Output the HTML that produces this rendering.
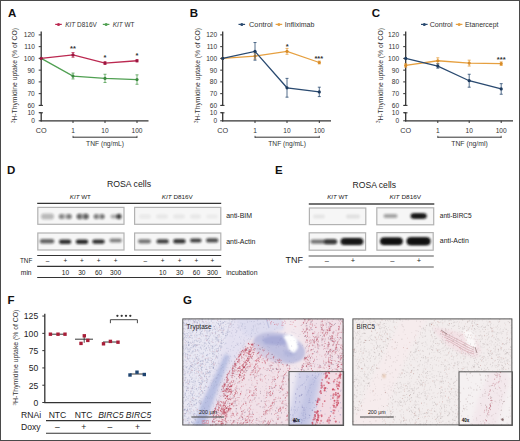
<!DOCTYPE html>
<html><head><meta charset="utf-8"><title>Figure</title>
<style>html,body{margin:0;padding:0;background:#fff;}body{width:520px;height:441px;overflow:hidden;font-family:"Liberation Sans", sans-serif;}</style>
</head><body><svg width="520" height="441" viewBox="0 0 520 441" style="display:block;font-family:'Liberation Sans', sans-serif"><defs><filter id="blur1" x="-50%" y="-50%" width="200%" height="200%"><feGaussianBlur stdDeviation="0.9"/></filter><filter id="soft" x="0" y="0" width="100%" height="100%"><feGaussianBlur stdDeviation="0.8"/></filter><filter id="blur12" x="-50%" y="-50%" width="200%" height="200%"><feGaussianBlur stdDeviation="1.2"/></filter><filter id="blur15" x="-30%" y="-30%" width="160%" height="160%"><feGaussianBlur stdDeviation="1.4"/></filter><filter id="blur2" x="-20%" y="-20%" width="140%" height="140%"><feGaussianBlur stdDeviation="2"/></filter></defs><rect width="520" height="441" fill="#fff"/><text x="8.00" y="17.20" font-size="11.5" text-anchor="start" font-weight="bold" fill="#111" >A</text>
<line x1="41.20" y1="31.60" x2="41.20" y2="105.40" stroke="#333" stroke-width="1.3" />
<line x1="41.20" y1="112.60" x2="41.20" y2="121.40" stroke="#333" stroke-width="1.3" />
<line x1="39.40" y1="105.40" x2="43.00" y2="105.40" stroke="#333" stroke-width="1.0" />
<line x1="39.40" y1="112.80" x2="43.00" y2="112.80" stroke="#333" stroke-width="1.0" />
<line x1="38.70" y1="34.90" x2="41.20" y2="34.90" stroke="#333" stroke-width="1.0" />
<text x="34.80" y="37.30" font-size="6.6" text-anchor="end" font-weight="normal" fill="#333" >120</text>
<line x1="38.70" y1="46.65" x2="41.20" y2="46.65" stroke="#333" stroke-width="1.0" />
<text x="34.80" y="49.05" font-size="6.6" text-anchor="end" font-weight="normal" fill="#333" >110</text>
<line x1="38.70" y1="58.40" x2="41.20" y2="58.40" stroke="#333" stroke-width="1.0" />
<text x="34.80" y="60.80" font-size="6.6" text-anchor="end" font-weight="normal" fill="#333" >100</text>
<line x1="38.70" y1="70.15" x2="41.20" y2="70.15" stroke="#333" stroke-width="1.0" />
<text x="34.80" y="72.55" font-size="6.6" text-anchor="end" font-weight="normal" fill="#333" >90</text>
<line x1="38.70" y1="81.90" x2="41.20" y2="81.90" stroke="#333" stroke-width="1.0" />
<text x="34.80" y="84.30" font-size="6.6" text-anchor="end" font-weight="normal" fill="#333" >80</text>
<line x1="38.70" y1="93.65" x2="41.20" y2="93.65" stroke="#333" stroke-width="1.0" />
<text x="34.80" y="96.05" font-size="6.6" text-anchor="end" font-weight="normal" fill="#333" >70</text>
<line x1="38.70" y1="105.40" x2="41.20" y2="105.40" stroke="#333" stroke-width="1.0" />
<text x="34.80" y="107.80" font-size="6.6" text-anchor="end" font-weight="normal" fill="#333" >60</text>
<line x1="38.70" y1="112.70" x2="41.20" y2="112.70" stroke="#333" stroke-width="1.0" />
<text x="34.80" y="115.10" font-size="6.6" text-anchor="end" font-weight="normal" fill="#333" >10</text>
<line x1="38.70" y1="120.80" x2="41.20" y2="120.80" stroke="#333" stroke-width="1.0" />
<text x="34.80" y="123.20" font-size="6.6" text-anchor="end" font-weight="normal" fill="#333" >0</text>
<line x1="40.60" y1="120.80" x2="148.50" y2="120.80" stroke="#333" stroke-width="1.3" />
<text x="41.20" y="133.00" font-size="6.6" text-anchor="middle" font-weight="normal" fill="#333"  textLength="10.90" lengthAdjust="spacingAndGlyphs">CO</text>
<line x1="73.00" y1="120.80" x2="73.00" y2="123.00" stroke="#333" stroke-width="1.0" />
<text x="73.00" y="133.00" font-size="6.6" text-anchor="middle" font-weight="normal" fill="#333" >1</text>
<line x1="105.00" y1="120.80" x2="105.00" y2="123.00" stroke="#333" stroke-width="1.0" />
<text x="105.00" y="133.00" font-size="6.6" text-anchor="middle" font-weight="normal" fill="#333" >10</text>
<line x1="137.00" y1="120.80" x2="137.00" y2="123.00" stroke="#333" stroke-width="1.0" />
<text x="137.00" y="133.00" font-size="6.6" text-anchor="middle" font-weight="normal" fill="#333" >100</text>
<line x1="73.00" y1="137.20" x2="137.00" y2="137.20" stroke="#333" stroke-width="1.0" />
<line x1="73.00" y1="135.80" x2="73.00" y2="138.00" stroke="#333" stroke-width="0.8" />
<line x1="137.00" y1="135.80" x2="137.00" y2="138.00" stroke="#333" stroke-width="0.8" />
<text x="105.00" y="146.00" font-size="6.6" text-anchor="middle" font-weight="normal" fill="#333"  textLength="37.80" lengthAdjust="spacingAndGlyphs">TNF (ng/mL)</text>
<text transform="translate(17.20,75.6) rotate(-90)" font-size="6.8" text-anchor="middle" fill="#333" textLength="95" lengthAdjust="spacingAndGlyphs"><tspan font-size="4.6" dy="-2.4">3</tspan><tspan dy="2.4">H-Thymidine uptake (% of CO)</tspan></text>
<polyline points="41.20,58.40 73.00,76.03 105.00,78.38 137.00,79.55" fill="none" stroke="#50a052" stroke-width="1.3"/>
<circle cx="41.20" cy="58.40" r="1.6" fill="#3c8a40"/>
<line x1="73.00" y1="73.09" x2="73.00" y2="78.96" stroke="#50a052" stroke-width="0.8" />
<line x1="71.50" y1="73.09" x2="74.50" y2="73.09" stroke="#50a052" stroke-width="0.8" />
<line x1="71.50" y1="78.96" x2="74.50" y2="78.96" stroke="#50a052" stroke-width="0.8" />
<circle cx="73.00" cy="76.03" r="1.6" fill="#3c8a40"/>
<line x1="105.00" y1="74.26" x2="105.00" y2="82.49" stroke="#50a052" stroke-width="0.8" />
<line x1="103.50" y1="74.26" x2="106.50" y2="74.26" stroke="#50a052" stroke-width="0.8" />
<line x1="103.50" y1="82.49" x2="106.50" y2="82.49" stroke="#50a052" stroke-width="0.8" />
<circle cx="105.00" cy="78.38" r="1.6" fill="#3c8a40"/>
<line x1="137.00" y1="74.85" x2="137.00" y2="84.25" stroke="#50a052" stroke-width="0.8" />
<line x1="135.50" y1="74.85" x2="138.50" y2="74.85" stroke="#50a052" stroke-width="0.8" />
<line x1="135.50" y1="84.25" x2="138.50" y2="84.25" stroke="#50a052" stroke-width="0.8" />
<circle cx="137.00" cy="79.55" r="1.6" fill="#3c8a40"/>
<polyline points="41.20,58.40 73.00,54.88 105.00,63.10 137.00,60.75" fill="none" stroke="#bb2850" stroke-width="1.3"/>
<circle cx="41.20" cy="58.40" r="1.6" fill="#9c1640"/>
<line x1="73.00" y1="52.52" x2="73.00" y2="57.23" stroke="#bb2850" stroke-width="0.8" />
<line x1="71.50" y1="52.52" x2="74.50" y2="52.52" stroke="#bb2850" stroke-width="0.8" />
<line x1="71.50" y1="57.23" x2="74.50" y2="57.23" stroke="#bb2850" stroke-width="0.8" />
<circle cx="73.00" cy="54.88" r="1.6" fill="#9c1640"/>
<line x1="105.00" y1="61.69" x2="105.00" y2="64.51" stroke="#bb2850" stroke-width="0.8" />
<line x1="103.50" y1="61.69" x2="106.50" y2="61.69" stroke="#bb2850" stroke-width="0.8" />
<line x1="103.50" y1="64.51" x2="106.50" y2="64.51" stroke="#bb2850" stroke-width="0.8" />
<circle cx="105.00" cy="63.10" r="1.6" fill="#9c1640"/>
<line x1="137.00" y1="59.57" x2="137.00" y2="61.92" stroke="#bb2850" stroke-width="0.8" />
<line x1="135.50" y1="59.57" x2="138.50" y2="59.57" stroke="#bb2850" stroke-width="0.8" />
<line x1="135.50" y1="61.92" x2="138.50" y2="61.92" stroke="#bb2850" stroke-width="0.8" />
<circle cx="137.00" cy="60.75" r="1.6" fill="#9c1640"/>
<line x1="55.20" y1="24.40" x2="61.80" y2="24.40" stroke="#bb2850" stroke-width="1.2" />
<circle cx="58.50" cy="24.4" r="1.5" fill="#bb2850"/>
<text x="65.20" y="26.90" font-size="6.8" text-anchor="start" font-weight="normal" fill="#333"  textLength="31.60" lengthAdjust="spacingAndGlyphs"><tspan font-style="italic">KIT</tspan> D816V</text>
<line x1="102.80" y1="24.40" x2="109.40" y2="24.40" stroke="#50a052" stroke-width="1.2" />
<circle cx="106.10" cy="24.4" r="1.5" fill="#50a052"/>
<text x="112.70" y="26.90" font-size="6.8" text-anchor="start" font-weight="normal" fill="#333"  textLength="21.80" lengthAdjust="spacingAndGlyphs"><tspan font-style="italic">KIT</tspan> WT</text>
<text x="73.00" y="50.90" font-size="7.5" text-anchor="middle" font-weight="bold" fill="#333" >**</text>
<text x="105.00" y="60.30" font-size="7.5" text-anchor="middle" font-weight="bold" fill="#333" >*</text>
<text x="137.00" y="57.70" font-size="7.5" text-anchor="middle" font-weight="bold" fill="#333" >*</text>
<text x="189.80" y="17.20" font-size="11.5" text-anchor="start" font-weight="bold" fill="#111" >B</text>
<line x1="222.70" y1="31.60" x2="222.70" y2="105.40" stroke="#333" stroke-width="1.3" />
<line x1="222.70" y1="112.60" x2="222.70" y2="121.40" stroke="#333" stroke-width="1.3" />
<line x1="220.90" y1="105.40" x2="224.50" y2="105.40" stroke="#333" stroke-width="1.0" />
<line x1="220.90" y1="112.80" x2="224.50" y2="112.80" stroke="#333" stroke-width="1.0" />
<line x1="220.20" y1="34.90" x2="222.70" y2="34.90" stroke="#333" stroke-width="1.0" />
<text x="217.20" y="37.30" font-size="6.6" text-anchor="end" font-weight="normal" fill="#333" >120</text>
<line x1="220.20" y1="46.65" x2="222.70" y2="46.65" stroke="#333" stroke-width="1.0" />
<text x="217.20" y="49.05" font-size="6.6" text-anchor="end" font-weight="normal" fill="#333" >110</text>
<line x1="220.20" y1="58.40" x2="222.70" y2="58.40" stroke="#333" stroke-width="1.0" />
<text x="217.20" y="60.80" font-size="6.6" text-anchor="end" font-weight="normal" fill="#333" >100</text>
<line x1="220.20" y1="70.15" x2="222.70" y2="70.15" stroke="#333" stroke-width="1.0" />
<text x="217.20" y="72.55" font-size="6.6" text-anchor="end" font-weight="normal" fill="#333" >90</text>
<line x1="220.20" y1="81.90" x2="222.70" y2="81.90" stroke="#333" stroke-width="1.0" />
<text x="217.20" y="84.30" font-size="6.6" text-anchor="end" font-weight="normal" fill="#333" >80</text>
<line x1="220.20" y1="93.65" x2="222.70" y2="93.65" stroke="#333" stroke-width="1.0" />
<text x="217.20" y="96.05" font-size="6.6" text-anchor="end" font-weight="normal" fill="#333" >70</text>
<line x1="220.20" y1="105.40" x2="222.70" y2="105.40" stroke="#333" stroke-width="1.0" />
<text x="217.20" y="107.80" font-size="6.6" text-anchor="end" font-weight="normal" fill="#333" >60</text>
<line x1="220.20" y1="112.70" x2="222.70" y2="112.70" stroke="#333" stroke-width="1.0" />
<text x="217.20" y="115.10" font-size="6.6" text-anchor="end" font-weight="normal" fill="#333" >10</text>
<line x1="220.20" y1="120.80" x2="222.70" y2="120.80" stroke="#333" stroke-width="1.0" />
<text x="217.20" y="123.20" font-size="6.6" text-anchor="end" font-weight="normal" fill="#333" >0</text>
<line x1="222.10" y1="120.80" x2="331.00" y2="120.80" stroke="#333" stroke-width="1.3" />
<text x="222.70" y="133.00" font-size="6.6" text-anchor="middle" font-weight="normal" fill="#333"  textLength="10.90" lengthAdjust="spacingAndGlyphs">CO</text>
<line x1="255.00" y1="120.80" x2="255.00" y2="123.00" stroke="#333" stroke-width="1.0" />
<text x="255.00" y="133.00" font-size="6.6" text-anchor="middle" font-weight="normal" fill="#333" >1</text>
<line x1="287.00" y1="120.80" x2="287.00" y2="123.00" stroke="#333" stroke-width="1.0" />
<text x="287.00" y="133.00" font-size="6.6" text-anchor="middle" font-weight="normal" fill="#333" >10</text>
<line x1="319.30" y1="120.80" x2="319.30" y2="123.00" stroke="#333" stroke-width="1.0" />
<text x="319.30" y="133.00" font-size="6.6" text-anchor="middle" font-weight="normal" fill="#333" >100</text>
<line x1="255.00" y1="137.20" x2="319.30" y2="137.20" stroke="#333" stroke-width="1.0" />
<line x1="255.00" y1="135.80" x2="255.00" y2="138.00" stroke="#333" stroke-width="0.8" />
<line x1="319.30" y1="135.80" x2="319.30" y2="138.00" stroke="#333" stroke-width="0.8" />
<text x="287.15" y="146.00" font-size="6.6" text-anchor="middle" font-weight="normal" fill="#333"  textLength="37.80" lengthAdjust="spacingAndGlyphs">TNF (ng/mL)</text>
<text transform="translate(199.90,75.6) rotate(-90)" font-size="6.8" text-anchor="middle" fill="#333" textLength="95" lengthAdjust="spacingAndGlyphs"><tspan font-size="4.6" dy="-2.4">3</tspan><tspan dy="2.4">H-Thymidine uptake (% of CO)</tspan></text>
<polyline points="222.70,58.40 255.00,56.05 287.00,51.35 319.30,62.51" fill="none" stroke="#e6a040" stroke-width="1.3"/>
<circle cx="222.70" cy="58.40" r="1.6" fill="#d88c28"/>
<line x1="255.00" y1="53.11" x2="255.00" y2="58.99" stroke="#e6a040" stroke-width="0.8" />
<line x1="253.50" y1="53.11" x2="256.50" y2="53.11" stroke="#e6a040" stroke-width="0.8" />
<line x1="253.50" y1="58.99" x2="256.50" y2="58.99" stroke="#e6a040" stroke-width="0.8" />
<circle cx="255.00" cy="56.05" r="1.6" fill="#d88c28"/>
<line x1="287.00" y1="48.41" x2="287.00" y2="54.29" stroke="#e6a040" stroke-width="0.8" />
<line x1="285.50" y1="48.41" x2="288.50" y2="48.41" stroke="#e6a040" stroke-width="0.8" />
<line x1="285.50" y1="54.29" x2="288.50" y2="54.29" stroke="#e6a040" stroke-width="0.8" />
<circle cx="287.00" cy="51.35" r="1.6" fill="#d88c28"/>
<line x1="319.30" y1="61.10" x2="319.30" y2="63.92" stroke="#e6a040" stroke-width="0.8" />
<line x1="317.80" y1="61.10" x2="320.80" y2="61.10" stroke="#e6a040" stroke-width="0.8" />
<line x1="317.80" y1="63.92" x2="320.80" y2="63.92" stroke="#e6a040" stroke-width="0.8" />
<circle cx="319.30" cy="62.51" r="1.6" fill="#d88c28"/>
<polyline points="222.70,58.40 255.00,51.35 287.00,87.78 319.30,91.89" fill="none" stroke="#2a4a70" stroke-width="1.3"/>
<circle cx="222.70" cy="58.40" r="1.6" fill="#1d3a5e"/>
<line x1="255.00" y1="42.54" x2="255.00" y2="60.16" stroke="#2a4a70" stroke-width="0.8" />
<line x1="253.50" y1="42.54" x2="256.50" y2="42.54" stroke="#2a4a70" stroke-width="0.8" />
<line x1="253.50" y1="60.16" x2="256.50" y2="60.16" stroke="#2a4a70" stroke-width="0.8" />
<circle cx="255.00" cy="51.35" r="1.6" fill="#1d3a5e"/>
<line x1="287.00" y1="78.38" x2="287.00" y2="97.17" stroke="#2a4a70" stroke-width="0.8" />
<line x1="285.50" y1="78.38" x2="288.50" y2="78.38" stroke="#2a4a70" stroke-width="0.8" />
<line x1="285.50" y1="97.17" x2="288.50" y2="97.17" stroke="#2a4a70" stroke-width="0.8" />
<circle cx="287.00" cy="87.78" r="1.6" fill="#1d3a5e"/>
<line x1="319.30" y1="87.19" x2="319.30" y2="96.59" stroke="#2a4a70" stroke-width="0.8" />
<line x1="317.80" y1="87.19" x2="320.80" y2="87.19" stroke="#2a4a70" stroke-width="0.8" />
<line x1="317.80" y1="96.59" x2="320.80" y2="96.59" stroke="#2a4a70" stroke-width="0.8" />
<circle cx="319.30" cy="91.89" r="1.6" fill="#1d3a5e"/>
<line x1="238.50" y1="24.40" x2="245.10" y2="24.40" stroke="#2a4a70" stroke-width="1.2" />
<circle cx="241.80" cy="24.4" r="1.5" fill="#2a4a70"/>
<text x="249.00" y="26.90" font-size="6.8" text-anchor="start" font-weight="normal" fill="#333"  textLength="23.70" lengthAdjust="spacingAndGlyphs">Control</text>
<line x1="275.60" y1="24.40" x2="282.20" y2="24.40" stroke="#e6a040" stroke-width="1.2" />
<circle cx="278.90" cy="24.4" r="1.5" fill="#e6a040"/>
<text x="284.80" y="26.90" font-size="6.8" text-anchor="start" font-weight="normal" fill="#333"  textLength="29.60" lengthAdjust="spacingAndGlyphs">Infliximab</text>
<text x="287.10" y="48.60" font-size="7.5" text-anchor="middle" font-weight="bold" fill="#333" >*</text>
<text x="318.80" y="60.50" font-size="7.5" text-anchor="middle" font-weight="bold" fill="#333" >***</text>
<text x="371.70" y="17.20" font-size="11.5" text-anchor="start" font-weight="bold" fill="#111" >C</text>
<line x1="405.70" y1="31.60" x2="405.70" y2="105.40" stroke="#333" stroke-width="1.3" />
<line x1="405.70" y1="112.60" x2="405.70" y2="121.40" stroke="#333" stroke-width="1.3" />
<line x1="403.90" y1="105.40" x2="407.50" y2="105.40" stroke="#333" stroke-width="1.0" />
<line x1="403.90" y1="112.80" x2="407.50" y2="112.80" stroke="#333" stroke-width="1.0" />
<line x1="403.20" y1="34.90" x2="405.70" y2="34.90" stroke="#333" stroke-width="1.0" />
<text x="399.10" y="37.30" font-size="6.6" text-anchor="end" font-weight="normal" fill="#333" >120</text>
<line x1="403.20" y1="46.65" x2="405.70" y2="46.65" stroke="#333" stroke-width="1.0" />
<text x="399.10" y="49.05" font-size="6.6" text-anchor="end" font-weight="normal" fill="#333" >110</text>
<line x1="403.20" y1="58.40" x2="405.70" y2="58.40" stroke="#333" stroke-width="1.0" />
<text x="399.10" y="60.80" font-size="6.6" text-anchor="end" font-weight="normal" fill="#333" >100</text>
<line x1="403.20" y1="70.15" x2="405.70" y2="70.15" stroke="#333" stroke-width="1.0" />
<text x="399.10" y="72.55" font-size="6.6" text-anchor="end" font-weight="normal" fill="#333" >90</text>
<line x1="403.20" y1="81.90" x2="405.70" y2="81.90" stroke="#333" stroke-width="1.0" />
<text x="399.10" y="84.30" font-size="6.6" text-anchor="end" font-weight="normal" fill="#333" >80</text>
<line x1="403.20" y1="93.65" x2="405.70" y2="93.65" stroke="#333" stroke-width="1.0" />
<text x="399.10" y="96.05" font-size="6.6" text-anchor="end" font-weight="normal" fill="#333" >70</text>
<line x1="403.20" y1="105.40" x2="405.70" y2="105.40" stroke="#333" stroke-width="1.0" />
<text x="399.10" y="107.80" font-size="6.6" text-anchor="end" font-weight="normal" fill="#333" >60</text>
<line x1="403.20" y1="112.70" x2="405.70" y2="112.70" stroke="#333" stroke-width="1.0" />
<text x="399.10" y="115.10" font-size="6.6" text-anchor="end" font-weight="normal" fill="#333" >10</text>
<line x1="403.20" y1="120.80" x2="405.70" y2="120.80" stroke="#333" stroke-width="1.0" />
<text x="399.10" y="123.20" font-size="6.6" text-anchor="end" font-weight="normal" fill="#333" >0</text>
<line x1="405.10" y1="120.80" x2="513.00" y2="120.80" stroke="#333" stroke-width="1.3" />
<text x="405.70" y="133.00" font-size="6.6" text-anchor="middle" font-weight="normal" fill="#333"  textLength="10.90" lengthAdjust="spacingAndGlyphs">CO</text>
<line x1="437.80" y1="120.80" x2="437.80" y2="123.00" stroke="#333" stroke-width="1.0" />
<text x="437.80" y="133.00" font-size="6.6" text-anchor="middle" font-weight="normal" fill="#333" >1</text>
<line x1="469.20" y1="120.80" x2="469.20" y2="123.00" stroke="#333" stroke-width="1.0" />
<text x="469.20" y="133.00" font-size="6.6" text-anchor="middle" font-weight="normal" fill="#333" >10</text>
<line x1="501.20" y1="120.80" x2="501.20" y2="123.00" stroke="#333" stroke-width="1.0" />
<text x="501.20" y="133.00" font-size="6.6" text-anchor="middle" font-weight="normal" fill="#333" >100</text>
<line x1="437.80" y1="137.20" x2="501.20" y2="137.20" stroke="#333" stroke-width="1.0" />
<line x1="437.80" y1="135.80" x2="437.80" y2="138.00" stroke="#333" stroke-width="0.8" />
<line x1="501.20" y1="135.80" x2="501.20" y2="138.00" stroke="#333" stroke-width="0.8" />
<text x="469.50" y="146.00" font-size="6.6" text-anchor="middle" font-weight="normal" fill="#333"  textLength="36.50" lengthAdjust="spacingAndGlyphs">TNF (ng/ml)</text>
<text transform="translate(382.60,75.6) rotate(-90)" font-size="6.8" text-anchor="middle" fill="#333" textLength="95" lengthAdjust="spacingAndGlyphs"><tspan font-size="4.6" dy="-2.4">3</tspan><tspan dy="2.4">H-Thymidine uptake (% of CO)</tspan></text>
<polyline points="405.70,65.45 437.80,60.75 469.20,63.10 501.20,63.69" fill="none" stroke="#e6a040" stroke-width="1.3"/>
<line x1="405.70" y1="63.69" x2="405.70" y2="67.21" stroke="#e6a040" stroke-width="0.8" />
<line x1="404.20" y1="63.69" x2="407.20" y2="63.69" stroke="#e6a040" stroke-width="0.8" />
<line x1="404.20" y1="67.21" x2="407.20" y2="67.21" stroke="#e6a040" stroke-width="0.8" />
<circle cx="405.70" cy="65.45" r="1.6" fill="#d88c28"/>
<line x1="437.80" y1="57.81" x2="437.80" y2="63.69" stroke="#e6a040" stroke-width="0.8" />
<line x1="436.30" y1="57.81" x2="439.30" y2="57.81" stroke="#e6a040" stroke-width="0.8" />
<line x1="436.30" y1="63.69" x2="439.30" y2="63.69" stroke="#e6a040" stroke-width="0.8" />
<circle cx="437.80" cy="60.75" r="1.6" fill="#d88c28"/>
<line x1="469.20" y1="60.16" x2="469.20" y2="66.04" stroke="#e6a040" stroke-width="0.8" />
<line x1="467.70" y1="60.16" x2="470.70" y2="60.16" stroke="#e6a040" stroke-width="0.8" />
<line x1="467.70" y1="66.04" x2="470.70" y2="66.04" stroke="#e6a040" stroke-width="0.8" />
<circle cx="469.20" cy="63.10" r="1.6" fill="#d88c28"/>
<line x1="501.20" y1="61.92" x2="501.20" y2="65.45" stroke="#e6a040" stroke-width="0.8" />
<line x1="499.70" y1="61.92" x2="502.70" y2="61.92" stroke="#e6a040" stroke-width="0.8" />
<line x1="499.70" y1="65.45" x2="502.70" y2="65.45" stroke="#e6a040" stroke-width="0.8" />
<circle cx="501.20" cy="63.69" r="1.6" fill="#d88c28"/>
<polyline points="405.70,58.40 437.80,66.04 469.20,80.72 501.20,88.95" fill="none" stroke="#2a4a70" stroke-width="1.3"/>
<circle cx="405.70" cy="58.40" r="1.6" fill="#1d3a5e"/>
<line x1="437.80" y1="63.92" x2="437.80" y2="68.15" stroke="#2a4a70" stroke-width="0.8" />
<line x1="436.30" y1="63.92" x2="439.30" y2="63.92" stroke="#2a4a70" stroke-width="0.8" />
<line x1="436.30" y1="68.15" x2="439.30" y2="68.15" stroke="#2a4a70" stroke-width="0.8" />
<circle cx="437.80" cy="66.04" r="1.6" fill="#1d3a5e"/>
<line x1="469.20" y1="74.26" x2="469.20" y2="87.19" stroke="#2a4a70" stroke-width="0.8" />
<line x1="467.70" y1="74.26" x2="470.70" y2="74.26" stroke="#2a4a70" stroke-width="0.8" />
<line x1="467.70" y1="87.19" x2="470.70" y2="87.19" stroke="#2a4a70" stroke-width="0.8" />
<circle cx="469.20" cy="80.72" r="1.6" fill="#1d3a5e"/>
<line x1="501.20" y1="83.66" x2="501.20" y2="94.24" stroke="#2a4a70" stroke-width="0.8" />
<line x1="499.70" y1="83.66" x2="502.70" y2="83.66" stroke="#2a4a70" stroke-width="0.8" />
<line x1="499.70" y1="94.24" x2="502.70" y2="94.24" stroke="#2a4a70" stroke-width="0.8" />
<circle cx="501.20" cy="88.95" r="1.6" fill="#1d3a5e"/>
<line x1="421.00" y1="24.40" x2="427.60" y2="24.40" stroke="#2a4a70" stroke-width="1.2" />
<circle cx="424.30" cy="24.4" r="1.5" fill="#2a4a70"/>
<text x="429.70" y="26.90" font-size="6.8" text-anchor="start" font-weight="normal" fill="#333"  textLength="23.00" lengthAdjust="spacingAndGlyphs">Control</text>
<line x1="455.80" y1="24.40" x2="462.40" y2="24.40" stroke="#e6a040" stroke-width="1.2" />
<circle cx="459.10" cy="24.4" r="1.5" fill="#e6a040"/>
<text x="465.00" y="26.90" font-size="6.8" text-anchor="start" font-weight="normal" fill="#333"  textLength="33.40" lengthAdjust="spacingAndGlyphs">Etanercept</text>
<text x="501.20" y="62.00" font-size="7.5" text-anchor="middle" font-weight="bold" fill="#333" >***</text>
<text x="7.00" y="174.40" font-size="11.5" text-anchor="start" font-weight="bold" fill="#111" >D</text>
<text x="107.00" y="187.30" font-size="8.6" text-anchor="start" font-weight="normal" fill="#222"  textLength="44.00" lengthAdjust="spacingAndGlyphs">ROSA cells</text>
<text x="69.80" y="199.00" font-size="6.0" text-anchor="start" font-weight="normal" fill="#222"  textLength="21.00" lengthAdjust="spacingAndGlyphs"><tspan font-style="italic">KIT</tspan> WT</text>
<text x="161.80" y="199.00" font-size="6.0" text-anchor="start" font-weight="normal" fill="#222"  textLength="31.00" lengthAdjust="spacingAndGlyphs"><tspan font-style="italic">KIT</tspan> D816V</text>
<line x1="37.20" y1="203.40" x2="221.20" y2="203.40" stroke="#333" stroke-width="1.1" />
<rect x="37.80" y="207.40" width="86.20" height="16.90" fill="#f6f6f6" stroke="#b2b2b2" stroke-width="1.2"/>
<rect x="41.00" y="213.60" width="13.00" height="6.00" rx="3.00" fill="#111" opacity="0.25" filter="url(#blur12)"/>
<rect x="58.50" y="214.10" width="13.50" height="5.00" rx="2.50" fill="#111" opacity="0.20" filter="url(#blur12)"/>
<rect x="59.00" y="214.10" width="5.00" height="5.00" rx="2.50" fill="#111" opacity="0.34" filter="url(#blur12)"/>
<rect x="66.50" y="214.10" width="5.00" height="5.00" rx="2.50" fill="#111" opacity="0.40" filter="url(#blur12)"/>
<rect x="76.50" y="213.85" width="12.30" height="5.50" rx="2.75" fill="#111" opacity="0.28" filter="url(#blur12)"/>
<rect x="76.80" y="213.85" width="5.00" height="5.50" rx="2.75" fill="#111" opacity="0.45" filter="url(#blur12)"/>
<rect x="83.30" y="213.85" width="5.20" height="5.50" rx="2.75" fill="#111" opacity="0.50" filter="url(#blur12)"/>
<rect x="93.50" y="214.10" width="11.30" height="5.00" rx="2.50" fill="#111" opacity="0.22" filter="url(#blur12)"/>
<rect x="93.80" y="214.10" width="4.70" height="5.00" rx="2.50" fill="#111" opacity="0.38" filter="url(#blur12)"/>
<rect x="100.00" y="214.10" width="4.50" height="5.00" rx="2.50" fill="#111" opacity="0.44" filter="url(#blur12)"/>
<rect x="110.50" y="214.60" width="8.00" height="4.00" rx="2.00" fill="#111" opacity="0.32" filter="url(#blur12)"/>
<rect x="116.50" y="213.85" width="5.00" height="5.50" rx="2.75" fill="#111" opacity="0.75" filter="url(#blur12)"/>
<rect x="134.60" y="207.40" width="86.20" height="16.90" fill="#f6f6f6" stroke="#b2b2b2" stroke-width="1.2"/>
<rect x="139.00" y="214.25" width="12.00" height="4.50" rx="2.25" fill="#111" opacity="0.05" filter="url(#blur1)"/>
<rect x="156.00" y="214.25" width="12.00" height="4.50" rx="2.25" fill="#111" opacity="0.06" filter="url(#blur1)"/>
<rect x="173.00" y="214.25" width="12.00" height="4.50" rx="2.25" fill="#111" opacity="0.06" filter="url(#blur1)"/>
<rect x="190.00" y="214.25" width="11.00" height="4.50" rx="2.25" fill="#111" opacity="0.06" filter="url(#blur1)"/>
<rect x="206.00" y="214.25" width="12.00" height="4.50" rx="2.25" fill="#111" opacity="0.04" filter="url(#blur1)"/>
<rect x="37.80" y="233.00" width="86.20" height="17.00" fill="#f6f6f6" stroke="#b2b2b2" stroke-width="1.2"/>
<rect x="39.80" y="238.90" width="14.50" height="4.60" rx="2.30" fill="#111" opacity="0.62" filter="url(#blur1)"/>
<rect x="59.00" y="239.60" width="12.20" height="4.40" rx="2.20" fill="#111" opacity="0.85" filter="url(#blur1)"/>
<rect x="75.80" y="239.60" width="12.40" height="4.40" rx="2.20" fill="#111" opacity="0.88" filter="url(#blur1)"/>
<rect x="92.30" y="239.40" width="12.40" height="4.40" rx="2.20" fill="#111" opacity="0.85" filter="url(#blur1)"/>
<rect x="109.50" y="238.60" width="12.30" height="4.00" rx="2.00" fill="#111" opacity="0.50" filter="url(#blur1)"/>
<rect x="134.60" y="233.00" width="86.20" height="17.00" fill="#f6f6f6" stroke="#b2b2b2" stroke-width="1.2"/>
<rect x="138.00" y="239.20" width="13.00" height="4.20" rx="2.10" fill="#111" opacity="0.55" filter="url(#blur1)"/>
<rect x="156.50" y="239.20" width="12.30" height="4.40" rx="2.20" fill="#111" opacity="0.78" filter="url(#blur1)"/>
<rect x="173.20" y="239.00" width="12.40" height="4.40" rx="2.20" fill="#111" opacity="0.82" filter="url(#blur1)"/>
<rect x="190.00" y="238.40" width="11.50" height="4.20" rx="2.10" fill="#111" opacity="0.78" filter="url(#blur1)"/>
<rect x="206.00" y="238.30" width="12.30" height="4.20" rx="2.10" fill="#111" opacity="0.72" filter="url(#blur1)"/>
<text x="226.20" y="218.30" font-size="6.6" text-anchor="start" font-weight="normal" fill="#222"  textLength="25.80" lengthAdjust="spacingAndGlyphs">anti-BIM</text>
<text x="226.20" y="243.80" font-size="6.6" text-anchor="start" font-weight="normal" fill="#222"  textLength="29.20" lengthAdjust="spacingAndGlyphs">anti-Actin</text>
<line x1="37.20" y1="255.50" x2="221.20" y2="255.50" stroke="#333" stroke-width="1.1" />
<line x1="37.20" y1="266.40" x2="221.20" y2="266.40" stroke="#333" stroke-width="1.1" />
<line x1="37.20" y1="277.50" x2="221.20" y2="277.50" stroke="#333" stroke-width="1.1" />
<text x="20.00" y="262.60" font-size="6.6" text-anchor="start" font-weight="normal" fill="#222"  textLength="12.30" lengthAdjust="spacingAndGlyphs">TNF</text>
<text x="20.80" y="275.00" font-size="6.6" text-anchor="start" font-weight="normal" fill="#222"  textLength="10.80" lengthAdjust="spacingAndGlyphs">min</text>
<text x="47.50" y="263.00" font-size="6.5" text-anchor="middle" font-weight="normal" fill="#222" >–</text>
<text x="65.40" y="263.00" font-size="6.5" text-anchor="middle" font-weight="normal" fill="#222" >+</text>
<text x="65.40" y="275.20" font-size="6.6" text-anchor="middle" font-weight="normal" fill="#222" >10</text>
<text x="81.80" y="263.00" font-size="6.5" text-anchor="middle" font-weight="normal" fill="#222" >+</text>
<text x="81.80" y="275.20" font-size="6.6" text-anchor="middle" font-weight="normal" fill="#222" >30</text>
<text x="98.60" y="263.00" font-size="6.5" text-anchor="middle" font-weight="normal" fill="#222" >+</text>
<text x="98.60" y="275.20" font-size="6.6" text-anchor="middle" font-weight="normal" fill="#222" >60</text>
<text x="115.60" y="263.00" font-size="6.5" text-anchor="middle" font-weight="normal" fill="#222" >+</text>
<text x="115.60" y="275.20" font-size="6.6" text-anchor="middle" font-weight="normal" fill="#222" >300</text>
<text x="145.20" y="263.00" font-size="6.5" text-anchor="middle" font-weight="normal" fill="#222" >–</text>
<text x="162.70" y="263.00" font-size="6.5" text-anchor="middle" font-weight="normal" fill="#222" >+</text>
<text x="162.70" y="275.20" font-size="6.6" text-anchor="middle" font-weight="normal" fill="#222" >10</text>
<text x="179.70" y="263.00" font-size="6.5" text-anchor="middle" font-weight="normal" fill="#222" >+</text>
<text x="179.70" y="275.20" font-size="6.6" text-anchor="middle" font-weight="normal" fill="#222" >30</text>
<text x="196.40" y="263.00" font-size="6.5" text-anchor="middle" font-weight="normal" fill="#222" >+</text>
<text x="196.40" y="275.20" font-size="6.6" text-anchor="middle" font-weight="normal" fill="#222" >60</text>
<text x="212.50" y="263.00" font-size="6.5" text-anchor="middle" font-weight="normal" fill="#222" >+</text>
<text x="212.50" y="275.20" font-size="6.6" text-anchor="middle" font-weight="normal" fill="#222" >300</text>
<text x="226.20" y="275.20" font-size="6.6" text-anchor="start" font-weight="normal" fill="#222"  textLength="31.30" lengthAdjust="spacingAndGlyphs">incubation</text>
<text x="275.00" y="174.00" font-size="11.5" text-anchor="start" font-weight="bold" fill="#111" >E</text>
<text x="352.60" y="187.60" font-size="8.6" text-anchor="start" font-weight="normal" fill="#222"  textLength="43.40" lengthAdjust="spacingAndGlyphs">ROSA cells</text>
<text x="327.20" y="199.40" font-size="6.0" text-anchor="start" font-weight="normal" fill="#222"  textLength="20.80" lengthAdjust="spacingAndGlyphs"><tspan font-style="italic">KIT</tspan> WT</text>
<text x="389.50" y="199.40" font-size="6.0" text-anchor="start" font-weight="normal" fill="#222"  textLength="31.70" lengthAdjust="spacingAndGlyphs"><tspan font-style="italic">KIT</tspan> D816V</text>
<line x1="308.80" y1="204.00" x2="434.30" y2="204.00" stroke="#444" stroke-width="1.4" />
<rect x="309.40" y="208.00" width="56.40" height="16.60" fill="#f6f6f6" stroke="#b2b2b2" stroke-width="1.2"/>
<rect x="313.00" y="214.40" width="12.00" height="4.00" rx="2.00" fill="#111" opacity="0.07" filter="url(#blur1)"/>
<rect x="346.00" y="214.40" width="14.00" height="4.00" rx="2.00" fill="#111" opacity="0.09" filter="url(#blur1)"/>
<rect x="376.80" y="207.80" width="56.90" height="17.00" fill="#f6f6f6" stroke="#b2b2b2" stroke-width="1.2"/>
<rect x="383.50" y="214.00" width="14.00" height="4.00" rx="2.00" fill="#111" opacity="0.35" filter="url(#blur1)"/>
<rect x="410.50" y="213.25" width="16.30" height="5.50" rx="2.75" fill="#111" opacity="0.92" filter="url(#blur1)"/>
<rect x="413.00" y="214.25" width="11.00" height="3.50" rx="1.75" fill="#111" opacity="0.60" filter="url(#blur1)"/>
<rect x="309.20" y="232.80" width="56.40" height="17.40" fill="#f6f6f6" stroke="#b2b2b2" stroke-width="1.2"/>
<rect x="310.50" y="239.50" width="26.50" height="4.20" rx="2.10" fill="#111" opacity="0.55" filter="url(#blur1)"/>
<rect x="324.00" y="239.30" width="13.00" height="5.00" rx="2.50" fill="#111" opacity="0.60" filter="url(#blur1)"/>
<rect x="340.50" y="238.10" width="22.90" height="7.00" rx="3.50" fill="#111" opacity="0.92" filter="url(#blur1)"/>
<rect x="343.00" y="239.10" width="18.00" height="5.00" rx="2.50" fill="#111" opacity="0.50" filter="url(#blur1)"/>
<rect x="376.90" y="232.60" width="56.30" height="17.60" fill="#f6f6f6" stroke="#b2b2b2" stroke-width="1.2"/>
<rect x="380.00" y="237.40" width="22.80" height="7.60" rx="3.80" fill="#111" opacity="0.97" filter="url(#blur1)"/>
<rect x="382.00" y="238.45" width="19.00" height="5.50" rx="2.75" fill="#111" opacity="0.60" filter="url(#blur1)"/>
<rect x="406.50" y="237.20" width="24.10" height="8.00" rx="4.00" fill="#111" opacity="0.97" filter="url(#blur1)"/>
<rect x="409.00" y="238.20" width="19.00" height="6.00" rx="3.00" fill="#111" opacity="0.60" filter="url(#blur1)"/>
<text x="439.80" y="218.20" font-size="6.6" text-anchor="start" font-weight="normal" fill="#222"  textLength="31.90" lengthAdjust="spacingAndGlyphs">anti-BIRC5</text>
<text x="439.80" y="243.40" font-size="6.6" text-anchor="start" font-weight="normal" fill="#222"  textLength="29.00" lengthAdjust="spacingAndGlyphs">anti-Actin</text>
<line x1="308.60" y1="256.00" x2="433.80" y2="256.00" stroke="#555" stroke-width="1.2" />
<line x1="308.60" y1="267.00" x2="433.80" y2="267.00" stroke="#555" stroke-width="1.2" />
<text x="285.50" y="263.40" font-size="9.0" text-anchor="start" font-weight="normal" fill="#222"  textLength="17.50" lengthAdjust="spacingAndGlyphs">TNF</text>
<text x="326.80" y="263.40" font-size="7.5" text-anchor="middle" font-weight="normal" fill="#222" >–</text>
<text x="353.00" y="263.40" font-size="7.5" text-anchor="middle" font-weight="normal" fill="#222" >+</text>
<text x="392.30" y="263.40" font-size="7.5" text-anchor="middle" font-weight="normal" fill="#222" >–</text>
<text x="419.00" y="263.40" font-size="7.5" text-anchor="middle" font-weight="normal" fill="#222" >+</text>
<text x="7.60" y="303.80" font-size="11.5" text-anchor="start" font-weight="bold" fill="#111" >F</text>
<line x1="44.80" y1="313.80" x2="44.80" y2="403.00" stroke="#333" stroke-width="1.3" />
<line x1="42.30" y1="316.06" x2="44.80" y2="316.06" stroke="#333" stroke-width="1.0" />
<text x="38.20" y="319.36" font-size="8.6" text-anchor="end" font-weight="normal" fill="#222" >125</text>
<line x1="42.30" y1="333.35" x2="44.80" y2="333.35" stroke="#333" stroke-width="1.0" />
<text x="38.20" y="336.65" font-size="8.6" text-anchor="end" font-weight="normal" fill="#222" >100</text>
<line x1="42.30" y1="350.64" x2="44.80" y2="350.64" stroke="#333" stroke-width="1.0" />
<text x="38.20" y="353.94" font-size="8.6" text-anchor="end" font-weight="normal" fill="#222" >75</text>
<line x1="42.30" y1="367.93" x2="44.80" y2="367.93" stroke="#333" stroke-width="1.0" />
<text x="38.20" y="371.23" font-size="8.6" text-anchor="end" font-weight="normal" fill="#222" >50</text>
<line x1="42.30" y1="385.21" x2="44.80" y2="385.21" stroke="#333" stroke-width="1.0" />
<text x="38.20" y="388.51" font-size="8.6" text-anchor="end" font-weight="normal" fill="#222" >25</text>
<line x1="42.30" y1="402.50" x2="44.80" y2="402.50" stroke="#333" stroke-width="1.0" />
<text x="38.20" y="405.80" font-size="8.6" text-anchor="end" font-weight="normal" fill="#222" >0</text>
<line x1="44.20" y1="402.60" x2="151.00" y2="402.60" stroke="#333" stroke-width="1.3" />
<text transform="translate(18.3,357.6) rotate(-90)" font-size="6.4" text-anchor="middle" fill="#333" textLength="96" lengthAdjust="spacingAndGlyphs"><tspan font-size="4.3" dy="-2.2">3</tspan><tspan dy="2.2">H-Thymidine uptake (% of CO)</tspan></text>
<line x1="50.00" y1="334.20" x2="65.50" y2="334.20" stroke="#222" stroke-width="0.9" />
<rect x="48.70" y="332.50" width="3.4" height="3.4" fill="#a81e38"/>
<rect x="56.30" y="332.50" width="3.4" height="3.4" fill="#a81e38"/>
<rect x="63.30" y="332.50" width="3.4" height="3.4" fill="#a81e38"/>
<line x1="75.00" y1="339.20" x2="93.00" y2="339.20" stroke="#222" stroke-width="0.9" />
<line x1="84.20" y1="336.00" x2="84.20" y2="342.80" stroke="#222" stroke-width="0.8" />
<rect x="79.30" y="341.70" width="3.4" height="3.4" fill="#a81e38"/>
<rect x="82.60" y="334.10" width="3.4" height="3.4" fill="#a81e38"/>
<rect x="86.10" y="338.70" width="3.4" height="3.4" fill="#a81e38"/>
<line x1="103.00" y1="342.00" x2="118.50" y2="342.00" stroke="#222" stroke-width="0.9" />
<rect x="101.80" y="342.10" width="3.4" height="3.4" fill="#a81e38"/>
<rect x="108.70" y="339.70" width="3.4" height="3.4" fill="#a81e38"/>
<rect x="116.30" y="340.50" width="3.4" height="3.4" fill="#a81e38"/>
<line x1="130.00" y1="374.00" x2="144.50" y2="374.00" stroke="#222" stroke-width="0.9" />
<rect x="128.30" y="373.30" width="3.4" height="3.4" fill="#1e4470"/>
<rect x="135.30" y="370.50" width="3.4" height="3.4" fill="#1e4470"/>
<rect x="142.60" y="372.80" width="3.4" height="3.4" fill="#1e4470"/>
<polyline points="110.4,323.2 110.4,319.7 137.4,319.7 137.4,323.2" fill="none" stroke="#333" stroke-width="0.9"/>
<circle cx="117.4" cy="315.8" r="1.15" fill="#333"/>
<circle cx="121.7" cy="315.8" r="1.15" fill="#333"/>
<circle cx="126.0" cy="315.8" r="1.15" fill="#333"/>
<circle cx="130.3" cy="315.8" r="1.15" fill="#333"/>
<text x="21.00" y="417.80" font-size="8.6" text-anchor="start" font-weight="normal" fill="#222" >RNAi</text>
<text x="21.00" y="430.00" font-size="8.6" text-anchor="start" font-weight="normal" fill="#222" >Doxy</text>
<text x="57.50" y="417.80" font-size="8.6" text-anchor="middle" font-weight="normal" fill="#222" >NTC</text>
<text x="83.70" y="417.80" font-size="8.6" text-anchor="middle" font-weight="normal" fill="#222" >NTC</text>
<text x="110.80" y="417.80" font-size="8.6" text-anchor="middle" font-weight="normal" fill="#222" font-style="italic">BIRC5</text>
<text x="138.50" y="417.80" font-size="8.6" text-anchor="middle" font-weight="normal" fill="#222" font-style="italic">BIRC5</text>
<text x="57.50" y="430.00" font-size="8.6" text-anchor="middle" font-weight="normal" fill="#222" >–</text>
<text x="83.70" y="430.00" font-size="8.6" text-anchor="middle" font-weight="normal" fill="#222" >+</text>
<text x="110.00" y="430.00" font-size="8.6" text-anchor="middle" font-weight="normal" fill="#222" >–</text>
<text x="137.50" y="430.00" font-size="8.6" text-anchor="middle" font-weight="normal" fill="#222" >+</text>
<line x1="46.00" y1="420.60" x2="150.80" y2="420.60" stroke="#333" stroke-width="1.1" />
<line x1="46.00" y1="433.20" x2="150.80" y2="433.20" stroke="#333" stroke-width="1.1" />
<text x="183.00" y="304.20" font-size="11.5" text-anchor="start" font-weight="bold" fill="#111" >G</text>
<clipPath id="clipT"><rect x="182.3" y="318.4" width="161.3" height="107.10000000000002"/></clipPath>
<g clip-path="url(#clipT)">
<rect x="182.3" y="318.4" width="161.3" height="107.10000000000002" fill="#e9e8f3"/>
<polygon points="204.0,430.0 224.0,376.0 240.0,350.0 252.0,338.0 262.0,330.0 272.0,316.0 346.0,316.0 346.0,430.0" fill="#f3e8ee" filter="url(#blur2)"/>
<polygon points="194.0,430.0 212.0,430.0 230.0,378.0 248.0,343.0 262.0,324.0 268.0,316.0 234.0,316.0 224.0,342.0 208.0,382.0" fill="#e4e1f1" filter="url(#blur2)"/>
<polygon points="192.0,430.0 203.0,430.0 212.0,404.0 222.0,378.0 230.0,356.0 225.0,354.0 214.0,378.0 201.0,404.0" fill="#b4bce0" opacity="0.9" filter="url(#blur15)"/>
<polygon points="238.0,316.0 272.0,316.0 272.0,332.0 256.0,336.0 244.0,332.0" fill="#dcdaee" filter="url(#blur2)"/>
<polygon points="236.0,316.0 282.0,316.0 284.0,330.0 262.0,334.0 250.0,338.0 242.0,330.0" fill="#dddcef" filter="url(#blur15)"/>
<ellipse cx="279" cy="348" rx="27" ry="15" transform="rotate(14 279 348)" fill="#bfc0e0" filter="url(#blur1)"/>
<path d="M266,318 L269,328" stroke="#9098c8" stroke-width="1.2" opacity="0.35"/>
<polygon points="262.0,339.0 270.0,336.0 282.0,336.0 287.0,339.0 285.0,345.0 274.0,345.0 265.0,344.0" fill="#a4a8d6" opacity="0.85" filter="url(#blur1)"/>
<polygon points="284.0,350.0 292.0,351.0 297.0,354.0 291.0,357.0 284.0,355.0" fill="#b0b4da" opacity="0.85" filter="url(#blur1)"/>
<polygon points="283.0,336.0 291.0,334.0 297.0,339.0 298.0,348.0 294.0,353.0 289.0,350.0 287.0,343.0" fill="#ffffff" filter="url(#blur1)"/>
<path d="M184.0 365.7h0M211.6 324.9h0M200.4 323.8h0M207.2 371.2h0M221.1 336.7h0M200.9 378.4h0M187.9 335.8h0M203.9 356.2h0M221.8 345.7h0M216.7 326.5h0M212.7 319.4h0M223.4 322.5h0M184.2 350.3h0M193.8 358.6h0M198.9 318.2h0M186.2 418.2h0M187.8 340.6h0M216.1 349.6h0M192.6 388.2h0M184.7 351.0h0M184.9 380.4h0M203.7 374.9h0M220.4 339.6h0M198.0 402.9h0M213.0 363.2h0M223.0 329.7h0M190.4 395.6h0M184.2 322.4h0M201.6 336.5h0M195.9 320.5h0M199.8 328.3h0M222.9 327.9h0M226.2 331.5h0M194.4 400.5h0M182.2 371.8h0M215.4 350.1h0M199.3 366.2h0M182.2 387.2h0M184.1 409.0h0M187.6 383.0h0M223.5 318.8h0M195.5 363.4h0M198.4 325.0h0M218.2 348.5h0M217.7 337.9h0M194.5 366.4h0M184.8 418.6h0M221.2 348.0h0M191.4 394.5h0M207.9 346.4h0M190.7 342.0h0M190.7 393.9h0M185.2 406.6h0M184.1 324.2h0M211.6 352.5h0M195.8 333.6h0M204.3 377.8h0M205.2 336.3h0M202.6 391.9h0M202.2 398.7h0M183.4 355.0h0M188.8 370.1h0M194.0 327.0h0M200.1 319.3h0M212.4 340.8h0" stroke="#8088b0" stroke-width="0.6" stroke-linecap="round" stroke-opacity="0.2" fill="none"/>
<path d="M210.9 358.2h0M202.8 391.6h0M213.8 346.9h0M227.4 333.1h0M211.9 366.5h0M198.7 357.2h0M182.3 347.1h0M194.4 321.4h0M193.4 382.0h0M189.7 323.7h0M195.4 325.1h0M196.3 327.2h0M206.9 335.9h0M188.9 365.4h0M191.1 404.3h0M182.1 357.0h0M195.4 417.4h0M187.5 423.9h0M198.9 387.1h0M196.8 362.0h0M202.0 383.4h0M197.6 344.8h0M202.7 382.4h0M198.6 394.0h0M198.4 359.9h0M211.4 345.5h0M208.7 372.9h0M194.2 381.0h0M218.7 355.2h0M188.5 371.6h0M209.6 364.2h0M194.1 378.0h0M208.8 377.0h0M195.5 356.8h0M196.3 344.8h0M189.2 355.3h0M183.6 403.6h0M192.1 406.8h0M201.5 333.6h0M200.5 391.6h0M213.8 339.8h0M206.9 339.7h0M223.9 329.7h0M187.8 325.8h0M201.0 399.1h0M195.5 407.6h0M220.5 318.2h0M191.8 325.6h0M190.5 386.8h0M214.1 346.1h0M215.7 331.3h0M197.1 330.0h0M198.3 396.7h0M208.8 343.2h0M187.2 390.7h0M186.1 367.8h0M226.0 335.6h0M204.1 367.5h0M201.7 329.8h0" stroke="#8088b0" stroke-width="0.6" stroke-linecap="round" stroke-opacity="0.3" fill="none"/>
<path d="M190.2 371.8h0M191.1 330.9h0M203.2 361.9h0M205.8 338.1h0M185.9 344.5h0M187.7 347.2h0M229.1 320.4h0M206.7 378.7h0M216.5 328.0h0M203.7 347.1h0M203.9 344.1h0M187.9 388.0h0M200.8 353.9h0M184.1 377.8h0M190.2 319.7h0M221.6 338.6h0M220.7 319.3h0M206.1 374.7h0M198.5 389.2h0M203.8 325.2h0M189.1 348.4h0M184.6 344.9h0M194.8 359.0h0M188.1 320.3h0M187.8 398.7h0M182.5 418.3h0M191.7 393.4h0M188.4 342.3h0M219.0 335.0h0M183.8 374.5h0M188.5 393.1h0M196.2 357.1h0M187.5 329.7h0M195.4 346.3h0M194.1 325.1h0M190.8 409.1h0M199.0 397.3h0M188.7 418.6h0M205.6 318.4h0M209.5 373.1h0M202.1 370.8h0M196.8 388.7h0M200.2 329.3h0M195.7 320.7h0M188.7 411.3h0M208.6 362.5h0M186.0 400.8h0M184.4 371.6h0M191.3 398.5h0" stroke="#8088b0" stroke-width="0.6" stroke-linecap="round" stroke-opacity="0.4" fill="none"/>
<path d="M187.5 358.0h0M196.0 364.1h0M186.5 412.2h0M195.4 345.0h0M184.0 338.0h0M188.6 424.3h0M212.6 350.2h0M189.5 367.2h0M188.2 425.6h0M191.1 347.3h0M216.0 338.0h0M200.9 332.9h0M193.7 380.6h0M198.1 320.7h0M200.1 375.0h0M185.4 340.6h0M193.3 345.7h0M203.7 392.7h0M189.4 344.4h0M186.6 361.3h0M221.5 343.0h0M203.2 352.4h0M188.2 398.4h0M205.5 359.8h0M207.7 354.3h0" stroke="#8088b0" stroke-width="0.6" stroke-linecap="round" stroke-opacity="0.5" fill="none"/>
<path d="M185.4 325.4h0M194.2 374.9h0M193.9 343.0h0M187.7 379.6h0M209.0 337.6h0M185.8 399.5h0M184.3 320.5h0M194.5 416.7h0M201.5 365.1h0M206.3 333.4h0M200.5 328.0h0M202.2 354.5h0M196.2 396.8h0M183.3 386.1h0M206.7 337.8h0M201.5 402.1h0M189.3 421.0h0M194.2 329.6h0M229.5 319.7h0M187.8 420.2h0M210.2 335.7h0M188.6 426.3h0M193.8 406.2h0M202.3 345.9h0M182.1 397.4h0M212.0 347.1h0M208.6 324.4h0M223.2 329.1h0M191.0 412.7h0M207.7 382.8h0M195.7 322.2h0M187.7 353.6h0M208.0 336.5h0M215.9 333.7h0M192.0 409.5h0M197.1 331.4h0M205.7 386.2h0M195.1 337.1h0M201.0 344.9h0M212.7 352.2h0M198.0 325.3h0M204.2 340.2h0M188.2 349.8h0M187.9 371.8h0M217.2 345.7h0M186.8 322.4h0M188.1 412.8h0M213.8 326.8h0M187.5 409.3h0M233.2 319.5h0M182.3 381.7h0M208.0 358.4h0M220.0 342.0h0M214.3 346.3h0M209.3 343.5h0M196.7 337.5h0M202.9 360.4h0M195.8 385.2h0M210.2 370.4h0M202.1 391.2h0M196.8 346.9h0M184.3 410.0h0M192.7 362.4h0M218.7 334.6h0M187.0 396.9h0M195.6 410.2h0M222.5 321.9h0M221.9 336.8h0M196.7 341.4h0M200.5 338.9h0M192.7 395.4h0M196.8 402.6h0M194.7 321.2h0M187.1 331.0h0M193.1 390.9h0M193.7 321.9h0M229.9 324.3h0M188.9 342.5h0M201.2 395.5h0M192.6 402.3h0M187.8 407.5h0M191.3 399.9h0M193.6 355.4h0M204.9 384.2h0M204.7 374.5h0M200.1 402.3h0M211.7 362.3h0M186.8 419.8h0M205.5 361.0h0M220.1 337.3h0M215.2 352.8h0M190.6 412.3h0M224.0 329.3h0M192.0 373.0h0M188.0 400.1h0M194.0 361.8h0M203.6 393.7h0M187.4 373.3h0M207.6 333.5h0M196.7 324.7h0M195.2 382.6h0M186.9 368.8h0M193.9 413.3h0M182.9 420.3h0M195.4 327.2h0M221.0 330.5h0M183.4 397.6h0M203.3 373.1h0M194.9 379.7h0M220.9 348.6h0M186.3 413.0h0M198.3 347.4h0M213.3 319.4h0M232.1 325.1h0M188.9 360.4h0M221.9 341.6h0M215.8 348.7h0M182.7 354.3h0M183.3 409.9h0M193.5 330.8h0" stroke="#8088b0" stroke-width="0.8" stroke-linecap="round" stroke-opacity="0.2" fill="none"/>
<path d="M199.0 382.4h0M191.5 343.5h0M215.2 334.3h0M193.9 422.8h0M197.2 344.6h0M207.6 373.3h0M182.2 372.1h0M204.3 375.7h0M196.6 345.3h0M194.2 321.8h0M208.8 338.6h0M232.9 320.7h0M202.9 345.6h0M214.8 354.1h0M185.4 329.2h0M198.9 380.3h0M186.8 386.4h0M205.0 390.5h0M225.9 337.2h0M222.9 340.5h0M215.9 357.1h0M190.3 335.2h0M216.0 345.5h0M182.4 410.5h0M193.4 365.9h0M212.4 346.4h0M191.8 395.1h0M188.5 423.5h0M194.0 322.2h0M189.8 413.8h0M218.1 341.2h0M184.4 331.5h0M210.7 325.6h0M188.7 332.5h0M192.9 396.1h0M198.8 344.6h0M214.8 359.8h0M203.1 379.1h0M209.0 366.8h0M187.3 359.2h0M218.1 339.6h0M213.4 356.4h0M187.9 379.8h0M188.8 396.8h0M184.9 394.8h0M206.2 330.4h0M192.6 327.4h0M210.7 345.7h0M213.8 322.8h0M207.3 381.5h0M196.8 373.0h0M191.1 325.3h0M200.4 333.0h0M184.5 386.9h0M194.1 345.7h0M209.0 330.4h0M184.3 374.0h0M210.1 344.1h0M202.6 320.0h0M202.1 322.8h0M183.4 383.2h0M217.5 323.5h0M189.1 381.6h0M216.0 355.4h0M227.8 329.2h0M195.6 351.1h0M189.5 404.7h0M192.5 342.1h0M221.5 326.2h0M194.2 423.7h0M219.4 346.1h0M183.9 333.0h0M200.1 375.5h0M216.2 344.5h0M183.7 397.7h0M191.4 402.1h0M196.4 358.2h0M217.9 340.9h0M199.1 373.5h0M203.8 357.0h0M183.4 353.6h0M191.1 333.1h0M187.0 370.5h0M186.8 389.4h0M195.2 335.0h0M192.6 375.1h0M193.5 367.7h0M208.3 358.6h0M188.4 417.3h0M188.6 341.4h0M187.0 328.0h0M193.3 414.5h0M202.4 381.7h0M191.9 381.5h0M208.4 345.5h0M206.9 381.2h0M190.3 377.4h0M188.9 332.9h0M194.8 351.5h0M195.4 381.5h0M190.8 410.5h0M212.6 348.3h0M193.5 400.8h0M205.0 345.5h0M221.4 339.8h0M190.0 328.6h0M183.8 395.1h0" stroke="#8088b0" stroke-width="0.8" stroke-linecap="round" stroke-opacity="0.3" fill="none"/>
<path d="M189.8 331.0h0M196.1 358.3h0M183.5 348.7h0M191.6 404.8h0M195.6 350.2h0M208.7 360.1h0M189.6 355.8h0M207.5 355.8h0M198.6 320.4h0M224.2 326.7h0M182.3 417.2h0M215.9 351.7h0M212.8 351.9h0M185.6 383.0h0M183.1 346.2h0M183.7 363.4h0M182.2 372.0h0M192.0 372.4h0M203.0 321.7h0M189.7 384.4h0M193.3 393.3h0M201.0 347.2h0M198.3 370.8h0M187.5 333.7h0M199.9 352.9h0M226.1 326.8h0M201.8 381.2h0M189.8 405.7h0M182.1 346.9h0M207.1 340.7h0M212.9 333.2h0M199.3 396.2h0M191.8 329.3h0M185.3 360.7h0M190.3 355.1h0M216.4 322.7h0M227.1 332.1h0M225.5 335.5h0M196.6 402.9h0M191.6 411.6h0M217.8 356.7h0M220.7 346.0h0M189.7 380.0h0M185.3 348.9h0M201.9 378.6h0M186.6 390.7h0M191.1 400.0h0M192.0 379.0h0M225.2 321.9h0M189.1 319.0h0M193.3 415.2h0M191.3 408.4h0M228.9 322.8h0M220.5 350.5h0M185.0 394.0h0M212.5 353.6h0M203.1 321.6h0M195.4 399.7h0M182.8 421.8h0M220.4 324.8h0M204.0 327.7h0M200.1 341.5h0M191.5 422.0h0M193.0 418.0h0M203.8 381.1h0M193.8 405.3h0M207.8 332.7h0M189.2 319.4h0M210.1 368.1h0M191.7 421.7h0M187.7 408.8h0M189.0 423.9h0M210.2 330.3h0M187.1 382.5h0M215.4 329.5h0M214.6 349.8h0M192.9 351.2h0M207.8 354.6h0M211.1 348.3h0M188.1 335.8h0M218.8 321.7h0M189.7 337.3h0M182.3 405.8h0M199.2 401.3h0M222.2 343.5h0M182.7 340.3h0M200.8 394.5h0M202.5 319.2h0M199.4 322.0h0M188.3 426.5h0M184.9 359.8h0M206.1 362.6h0M207.5 339.7h0M211.7 332.7h0M212.9 342.4h0M182.9 415.9h0M192.6 423.2h0M201.3 341.1h0M192.7 397.5h0M182.1 405.9h0M209.7 366.5h0M183.2 366.6h0M215.3 339.3h0M194.1 411.3h0M194.9 359.9h0M209.9 360.4h0M187.4 354.8h0M194.5 395.5h0M207.5 318.1h0" stroke="#8088b0" stroke-width="0.8" stroke-linecap="round" stroke-opacity="0.4" fill="none"/>
<path d="M189.0 345.2h0M197.0 363.7h0M206.4 376.7h0M196.6 332.3h0M190.5 367.0h0M206.3 347.6h0M187.5 409.8h0M191.0 335.8h0M213.7 318.0h0M194.0 401.7h0M189.9 361.3h0M184.7 370.1h0M213.2 353.9h0M204.1 349.2h0M192.5 426.0h0M207.3 379.8h0M214.5 351.9h0M183.9 420.0h0M191.1 372.0h0M195.9 340.2h0M195.0 354.9h0M201.3 383.4h0M217.0 350.9h0M186.1 354.2h0M185.3 355.1h0M201.3 403.2h0M185.2 380.1h0M197.3 354.5h0M183.1 427.0h0M203.6 353.0h0M194.1 385.4h0M206.5 327.7h0M204.4 390.5h0M186.8 333.4h0M217.8 336.0h0M192.7 342.2h0M206.7 344.0h0M186.1 386.6h0M184.4 337.3h0M184.1 323.4h0M186.8 341.4h0M213.6 367.8h0M221.6 332.3h0M202.4 330.1h0M210.0 371.2h0M202.0 360.6h0M217.3 348.6h0M201.5 384.5h0M212.7 319.0h0M187.5 420.5h0M205.7 364.3h0M191.9 335.4h0M196.5 403.4h0M196.0 400.8h0M209.6 372.3h0M184.0 401.3h0M228.7 326.8h0M183.0 347.8h0M201.0 364.0h0" stroke="#8088b0" stroke-width="0.8" stroke-linecap="round" stroke-opacity="0.5" fill="none"/>
<path d="M199.5 334.6h0M200.5 347.1h0M183.2 422.6h0M209.1 376.5h0M190.3 396.8h0M192.6 353.0h0M196.5 332.2h0M209.2 376.9h0M195.5 347.2h0M203.0 342.6h0M192.0 420.9h0M212.6 359.0h0M195.8 383.9h0M182.6 354.0h0M201.6 339.7h0M226.5 335.6h0M184.2 379.9h0M209.5 322.5h0M185.5 356.6h0M222.2 323.3h0M189.1 343.0h0M194.1 382.2h0M200.7 395.5h0M228.6 328.0h0M207.3 350.4h0M189.6 409.4h0M182.6 422.7h0M204.3 329.2h0M189.0 320.0h0M186.7 406.7h0M187.7 387.6h0M214.2 355.9h0M218.6 319.4h0M209.7 376.4h0M183.6 328.6h0M189.9 381.0h0M229.8 321.8h0M196.5 369.3h0M189.8 381.3h0M195.1 360.9h0M193.2 422.6h0M206.4 332.4h0M201.9 345.1h0M193.3 418.6h0M213.4 326.8h0M223.8 333.0h0M221.0 322.8h0M188.1 419.8h0M184.5 334.0h0M214.5 354.4h0M185.2 373.2h0M190.8 321.2h0M187.3 336.6h0M194.7 405.1h0M210.3 376.0h0M185.1 337.6h0M185.1 365.7h0M228.6 325.9h0M213.4 353.1h0M218.7 330.6h0M198.1 325.6h0M230.1 327.3h0M226.9 335.8h0M189.8 382.6h0M210.6 349.7h0M205.7 325.4h0M189.7 418.0h0M190.3 320.0h0M203.4 318.8h0M206.7 331.4h0M226.9 321.4h0M197.4 359.9h0M186.1 416.7h0M208.0 319.9h0M189.5 339.2h0M193.1 352.2h0M186.8 323.4h0M208.1 345.8h0M184.8 349.7h0M199.7 320.9h0M185.8 325.4h0M194.0 399.9h0M194.8 346.1h0M207.5 339.8h0M190.2 413.1h0M187.3 372.3h0M207.5 331.0h0M192.0 333.0h0M185.5 319.1h0M204.8 344.0h0M200.1 347.3h0M184.4 396.7h0M190.4 413.9h0M202.2 374.2h0M217.9 338.4h0M201.4 401.0h0M200.0 392.8h0M211.6 360.6h0M219.5 346.5h0M217.3 329.7h0M187.4 363.3h0M198.4 382.5h0M195.9 407.6h0M191.2 335.1h0M187.9 386.2h0M188.6 406.2h0M193.7 421.4h0M182.1 413.4h0M192.6 406.0h0M185.6 378.9h0M208.4 322.0h0" stroke="#8088b0" stroke-width="1.0" stroke-linecap="round" stroke-opacity="0.2" fill="none"/>
<path d="M191.8 382.0h0M191.3 370.1h0M190.7 365.5h0M186.8 324.3h0M198.8 351.6h0M195.5 319.7h0M218.5 350.0h0M220.9 323.4h0M217.4 351.1h0M194.6 419.2h0M198.9 340.4h0M193.8 362.0h0M227.3 331.0h0M209.6 324.0h0M193.2 346.9h0M187.6 427.2h0M212.4 356.5h0M182.3 410.9h0M220.4 347.3h0M197.3 341.6h0M191.9 390.0h0M218.8 341.4h0M212.6 346.8h0M231.1 325.1h0M206.4 355.4h0M234.8 319.8h0M189.6 318.2h0M192.9 325.2h0M221.0 324.1h0M183.0 383.9h0M195.5 364.4h0M215.5 345.6h0M182.6 323.2h0M209.9 374.9h0M190.4 349.9h0M185.4 319.4h0M212.3 330.6h0M194.8 321.8h0M229.1 331.5h0M194.8 344.6h0M191.1 391.3h0M199.6 338.3h0M197.3 390.8h0M198.0 366.7h0M183.5 338.8h0M204.5 376.3h0M193.5 351.0h0M198.4 402.0h0M216.3 356.5h0M206.5 367.0h0M199.6 400.4h0M223.4 327.9h0M216.4 355.9h0M190.7 393.1h0M231.1 323.4h0M194.7 387.2h0M218.6 353.4h0M187.6 357.2h0M223.0 334.5h0M203.7 322.5h0M187.5 327.7h0M185.0 392.9h0M192.9 323.7h0M207.1 371.8h0M184.8 352.6h0M197.7 356.3h0M190.9 376.9h0M183.7 361.3h0M201.5 390.7h0M185.1 409.8h0M216.6 348.9h0M199.0 334.7h0M223.7 322.5h0M200.5 361.2h0M192.0 413.9h0M190.2 391.9h0M192.5 399.0h0M188.9 330.0h0M194.9 389.4h0M186.2 324.0h0M198.4 363.0h0M185.9 342.5h0M191.7 319.2h0M183.3 369.7h0M186.0 399.5h0M196.2 405.1h0M184.8 334.9h0M194.5 328.3h0M210.1 357.9h0M189.0 369.2h0M185.7 400.6h0M227.3 332.7h0M184.6 413.7h0M190.7 363.1h0M182.2 406.2h0M222.0 332.4h0M190.7 393.2h0M188.7 349.3h0M217.3 335.7h0M190.6 373.3h0M209.6 336.5h0M197.0 373.3h0M195.4 419.8h0M205.1 339.2h0M183.1 392.2h0M209.4 349.8h0M188.2 390.2h0M215.1 336.9h0M189.3 352.0h0M187.1 348.4h0M215.8 331.8h0M211.0 341.9h0M200.2 332.1h0M196.9 334.8h0M210.0 333.1h0M205.6 349.0h0M206.1 368.8h0M215.5 325.2h0M188.6 403.6h0M187.3 349.0h0M217.6 351.8h0M192.0 338.0h0M211.4 360.7h0M191.7 345.5h0" stroke="#8088b0" stroke-width="1.0" stroke-linecap="round" stroke-opacity="0.3" fill="none"/>
<path d="M199.6 375.0h0M190.1 419.1h0M185.9 421.2h0M189.5 375.6h0M187.7 409.9h0M208.4 318.4h0M187.9 335.0h0M188.9 345.7h0M188.1 325.7h0M218.9 339.8h0M194.6 363.9h0M209.4 343.5h0M192.8 384.9h0M184.6 415.8h0M200.1 400.5h0M194.9 417.8h0M183.6 322.6h0M194.6 368.7h0M191.2 366.3h0M192.3 351.2h0M187.5 381.2h0M189.0 403.4h0M201.1 388.3h0M191.1 416.0h0M192.7 394.2h0M201.8 370.2h0M221.4 327.3h0M200.7 327.4h0M227.2 323.2h0M218.6 350.9h0M196.8 340.7h0M229.0 318.5h0M192.2 338.1h0M223.1 322.8h0M191.1 404.3h0M194.9 322.5h0M200.3 366.3h0M225.8 324.6h0M194.5 340.4h0M201.6 319.2h0M192.9 364.5h0M205.8 372.0h0M197.7 396.2h0M213.9 365.9h0M203.9 327.6h0M197.0 335.8h0M189.1 395.5h0M196.9 325.4h0M185.2 367.0h0M204.9 324.9h0M213.6 362.0h0M202.5 319.0h0M206.6 382.4h0M207.4 362.0h0M194.4 361.2h0M182.1 411.7h0M201.0 328.3h0M220.7 321.4h0M191.5 366.2h0M229.0 323.6h0M194.6 372.9h0M195.9 368.0h0M190.1 333.1h0M188.3 344.8h0M182.5 370.3h0M190.8 328.1h0M220.7 343.2h0M190.5 342.9h0M199.2 370.5h0M213.0 329.6h0M205.2 328.2h0M192.1 378.2h0M212.2 333.8h0M182.3 355.4h0M192.9 382.4h0M186.7 325.7h0M205.4 350.8h0M185.1 347.0h0M221.2 346.2h0M205.0 380.9h0M207.1 369.6h0M187.3 418.5h0M196.5 358.4h0M223.3 342.5h0M200.1 329.3h0M199.4 323.9h0M197.7 362.2h0M194.6 404.3h0M200.2 329.9h0M203.7 335.8h0M211.0 366.4h0M221.3 343.1h0M219.3 334.9h0M199.8 329.9h0M234.8 319.5h0M189.1 351.0h0M193.0 388.7h0M187.4 325.0h0M204.9 359.2h0M198.9 358.5h0M192.3 395.9h0M224.7 321.4h0M189.2 351.4h0M198.9 393.2h0M195.1 404.8h0M196.0 329.3h0M184.3 325.3h0M200.9 401.7h0M193.2 404.2h0M218.1 340.7h0M187.2 356.3h0M198.5 375.9h0" stroke="#8088b0" stroke-width="1.0" stroke-linecap="round" stroke-opacity="0.4" fill="none"/>
<path d="M188.7 342.6h0M195.2 381.2h0M185.3 395.2h0M186.4 367.4h0M211.3 321.0h0M199.8 342.5h0M201.1 368.4h0M185.5 426.4h0M206.5 355.3h0M203.2 373.7h0M221.4 340.6h0M182.9 368.5h0M204.7 346.3h0M189.9 349.2h0M187.9 372.0h0M188.6 345.2h0M226.0 333.8h0M182.1 340.2h0M204.7 343.1h0M215.6 363.0h0M208.5 372.8h0M183.5 385.1h0M209.2 347.9h0M199.2 365.4h0M182.8 360.6h0M202.3 393.3h0M184.3 409.7h0M186.5 323.6h0M185.0 333.9h0M218.6 348.1h0M212.9 364.0h0M196.4 389.1h0M185.0 416.0h0M188.6 359.0h0M201.6 349.0h0M186.3 337.7h0M217.0 339.6h0M214.5 326.7h0M206.5 348.6h0M190.1 337.5h0M187.4 328.5h0M227.4 334.7h0M231.9 321.6h0M195.0 413.9h0M207.9 372.7h0M222.3 332.8h0M194.1 415.9h0M188.0 351.8h0M185.8 353.6h0M223.2 334.3h0M199.8 402.7h0M182.7 346.6h0M192.3 400.4h0M194.6 370.5h0M182.6 402.0h0M195.2 419.2h0M200.3 404.1h0M207.0 362.2h0M205.4 359.9h0M193.2 320.6h0M189.7 368.6h0M191.1 326.1h0M190.1 401.7h0M219.7 325.4h0M187.5 354.7h0M206.8 378.7h0M191.4 379.4h0M186.5 345.2h0M188.7 388.0h0M202.3 363.6h0" stroke="#8088b0" stroke-width="1.0" stroke-linecap="round" stroke-opacity="0.5" fill="none"/>
<path d="M213.2 361.6h0M192.2 370.2h0M203.0 353.9h0M207.2 331.0h0M182.1 400.6h0M197.5 323.4h0M185.4 348.5h0M197.1 356.7h0M192.4 358.1h0M196.0 403.6h0M182.7 378.6h0M196.3 388.6h0M230.1 327.5h0M188.8 368.8h0M202.2 364.1h0M209.6 371.3h0M192.8 400.5h0M187.3 349.8h0M192.0 365.9h0M185.7 371.3h0M199.5 344.6h0M202.8 381.7h0M197.9 341.2h0M190.0 328.3h0M189.6 374.8h0M192.1 352.0h0M203.3 360.4h0M201.8 377.1h0M194.9 336.8h0M194.3 383.8h0M215.5 341.8h0M194.6 365.4h0M196.3 396.2h0M188.2 420.8h0M188.7 344.7h0M195.8 369.6h0M196.7 410.2h0M213.7 365.0h0M186.7 411.7h0M217.7 328.1h0M192.8 412.1h0M221.3 347.4h0M187.5 410.3h0M195.6 344.5h0M202.2 363.3h0M202.3 318.0h0M216.1 337.1h0M199.4 384.7h0M182.8 353.2h0M189.3 412.5h0M206.3 380.4h0M200.7 404.1h0M235.3 319.1h0M196.6 415.2h0" stroke="#8088b0" stroke-width="1.2" stroke-linecap="round" stroke-opacity="0.2" fill="none"/>
<path d="M209.3 340.6h0M217.9 331.3h0M208.1 323.9h0M216.4 357.6h0M201.9 353.3h0M193.1 347.0h0M184.2 397.5h0M183.8 426.9h0M190.4 347.8h0M208.6 319.7h0M185.3 414.0h0M203.0 364.3h0M205.8 386.7h0M219.8 345.3h0M216.5 337.8h0M197.2 327.9h0M186.5 396.9h0M183.5 403.2h0M198.0 380.8h0M188.2 337.9h0M202.6 333.9h0M207.7 335.4h0M182.1 400.1h0M231.7 319.2h0M191.9 347.9h0M203.3 373.0h0M219.8 325.9h0M207.0 322.8h0M193.1 344.8h0M205.2 330.1h0M221.3 328.4h0M201.5 369.6h0M228.3 330.1h0M186.5 347.2h0M208.6 338.7h0M198.7 387.6h0M189.7 423.2h0M224.9 338.2h0M201.1 387.3h0M218.7 323.9h0M213.8 335.8h0M189.6 382.1h0M209.8 353.6h0M197.3 327.3h0M200.3 363.9h0M194.1 341.9h0M210.3 334.9h0M191.6 362.7h0M210.2 351.0h0M205.5 343.1h0M222.1 328.7h0M184.3 339.0h0M195.3 349.5h0M212.6 353.9h0M199.9 377.7h0M190.5 365.6h0M213.5 367.2h0" stroke="#8088b0" stroke-width="1.2" stroke-linecap="round" stroke-opacity="0.3" fill="none"/>
<path d="M201.9 380.3h0M218.5 323.9h0M186.6 390.7h0M189.9 408.9h0M186.6 410.5h0M184.4 409.9h0M202.1 361.2h0M198.3 368.7h0M194.7 345.2h0M200.3 348.0h0M182.2 401.1h0M187.2 388.2h0M217.6 357.9h0M185.1 409.1h0M200.7 334.8h0M199.9 384.6h0M212.9 348.1h0M219.9 329.3h0M183.1 333.3h0M187.9 342.8h0M191.2 353.0h0M209.7 330.2h0M200.8 318.1h0M197.5 322.7h0M196.1 378.1h0M211.3 318.9h0M221.0 318.3h0M222.9 330.6h0M192.4 367.1h0M193.6 424.4h0M192.7 330.8h0M210.4 372.6h0M192.7 386.8h0M200.3 383.4h0M211.4 364.3h0M194.2 413.4h0M184.1 328.3h0M193.9 391.9h0M187.1 366.7h0M193.3 346.5h0M189.8 406.4h0M204.7 376.2h0M217.0 337.8h0M186.2 382.1h0M204.2 387.9h0M189.8 358.2h0M200.9 376.5h0M202.8 328.2h0M213.1 367.7h0M209.4 331.0h0M206.4 373.3h0M201.7 367.3h0M192.1 422.4h0M223.0 323.0h0M199.6 382.5h0M212.3 339.0h0M182.7 366.9h0" stroke="#8088b0" stroke-width="1.2" stroke-linecap="round" stroke-opacity="0.4" fill="none"/>
<path d="M213.3 368.2h0M201.7 331.5h0M208.8 342.2h0M192.7 331.9h0M185.6 413.5h0M206.2 335.6h0M184.9 374.9h0M192.0 388.2h0M198.1 360.1h0M187.7 404.6h0M197.6 349.8h0M202.1 367.2h0M197.0 322.1h0M196.0 399.5h0M200.2 361.6h0M201.7 390.8h0M185.8 377.7h0M188.3 383.9h0M208.0 359.8h0M206.1 369.5h0M212.3 346.0h0M214.8 328.8h0" stroke="#8088b0" stroke-width="1.2" stroke-linecap="round" stroke-opacity="0.5" fill="none"/>
<path d="M241.2 355.1h0M242.4 328.9h0M242.8 352.4h0M252.6 329.8h0M224.2 380.6h0M210.4 391.0h0M225.0 369.3h0" stroke="#8890b4" stroke-width="0.6" stroke-linecap="round" stroke-opacity="0.1" fill="none"/>
<path d="M207.9 397.1h0M216.3 378.1h0M262.9 321.9h0M255.1 324.6h0M228.3 348.6h0M213.0 409.6h0M217.4 370.2h0M213.5 404.9h0M209.6 406.7h0M242.3 325.1h0M246.9 342.0h0M222.4 379.0h0M258.7 319.6h0M214.1 374.3h0M206.5 411.6h0M244.4 328.6h0M244.4 333.6h0M205.5 398.7h0M222.0 380.3h0M219.0 390.1h0" stroke="#8890b4" stroke-width="0.6" stroke-linecap="round" stroke-opacity="0.2" fill="none"/>
<path d="M230.5 372.0h0M228.0 332.5h0M200.4 428.3h0M221.5 355.1h0M208.7 413.9h0M213.6 414.8h0M210.2 396.0h0M211.3 384.1h0M212.9 409.9h0M249.8 321.3h0M232.9 319.5h0M222.2 397.1h0M251.5 333.0h0M224.0 372.5h0M216.9 412.7h0M225.1 389.3h0" stroke="#8890b4" stroke-width="0.6" stroke-linecap="round" stroke-opacity="0.3" fill="none"/>
<path d="M198.2 429.7h0M222.2 347.0h0M224.4 379.5h0M219.8 384.1h0M214.4 422.2h0M242.5 324.5h0M198.4 422.6h0M256.0 318.8h0M234.6 347.3h0M201.2 412.0h0M213.9 379.2h0M201.7 421.1h0M223.0 390.4h0M222.5 381.2h0" stroke="#8890b4" stroke-width="0.6" stroke-linecap="round" stroke-opacity="0.4" fill="none"/>
<path d="M215.2 369.0h0M218.9 393.7h0M228.8 376.7h0M213.8 404.0h0M232.1 327.9h0M214.5 375.9h0M235.2 363.9h0M248.4 334.5h0M205.3 413.0h0M196.8 424.9h0M218.1 400.3h0M214.6 374.9h0M250.7 336.0h0M216.1 397.1h0M232.7 341.9h0" stroke="#8890b4" stroke-width="0.8" stroke-linecap="round" stroke-opacity="0.1" fill="none"/>
<path d="M236.4 330.7h0M226.0 380.0h0M223.2 367.2h0M239.6 327.4h0M209.7 409.8h0M222.5 378.9h0M201.2 415.8h0M245.4 328.3h0M233.4 318.3h0M210.8 380.4h0M218.0 363.3h0M249.7 339.9h0M211.8 383.2h0M210.4 396.9h0M219.8 373.0h0M241.3 336.7h0M237.3 327.8h0M228.7 375.0h0M208.6 387.1h0M258.8 328.0h0M199.7 424.3h0M226.0 352.2h0M204.7 393.8h0M221.6 358.4h0M209.5 389.8h0M216.4 414.8h0M241.9 326.1h0M214.5 386.5h0M231.8 345.6h0M240.7 328.8h0M223.6 372.9h0M213.0 422.2h0M213.2 424.9h0M213.9 385.3h0M243.8 342.4h0M204.7 407.9h0M234.6 321.9h0M250.5 338.7h0M234.5 363.2h0M251.5 328.8h0M253.6 321.8h0M226.3 367.4h0M204.4 419.9h0M222.0 376.3h0M227.6 372.7h0" stroke="#8890b4" stroke-width="0.8" stroke-linecap="round" stroke-opacity="0.2" fill="none"/>
<path d="M217.5 394.1h0M197.2 422.4h0M216.3 399.1h0M228.8 360.2h0M236.4 353.0h0M238.8 328.6h0M235.5 335.5h0M212.8 382.8h0M212.5 427.5h0M220.6 395.6h0M232.0 370.3h0M251.6 333.4h0M216.5 399.4h0M235.3 366.7h0M230.1 336.0h0M207.0 426.1h0M221.2 382.3h0M246.8 331.0h0M231.7 322.7h0M236.1 366.1h0M217.6 400.6h0M196.7 425.2h0M222.8 367.3h0M247.0 319.9h0M240.6 348.9h0M216.9 413.1h0M205.7 413.5h0M259.1 324.0h0M241.0 323.0h0M226.2 363.7h0M215.8 381.8h0M216.6 407.5h0M256.9 328.2h0M247.2 339.8h0M203.9 429.6h0M243.3 345.0h0M233.5 324.4h0M258.2 324.8h0M253.8 329.0h0M238.7 345.2h0M212.0 380.3h0M208.6 406.0h0M208.2 387.6h0" stroke="#8890b4" stroke-width="0.8" stroke-linecap="round" stroke-opacity="0.3" fill="none"/>
<path d="M208.2 387.4h0M237.1 331.0h0M207.5 398.1h0M251.9 330.7h0M253.2 326.0h0M235.1 357.3h0M223.4 370.6h0M235.5 357.1h0M233.4 347.3h0M225.9 343.0h0M232.8 364.0h0M240.7 351.7h0M221.7 389.3h0M206.1 415.7h0M237.0 343.2h0M221.3 365.5h0M199.6 415.1h0M242.7 323.6h0M224.4 384.0h0M219.6 400.2h0M201.8 409.9h0M197.4 424.8h0M219.1 363.9h0M220.0 375.7h0M213.7 406.2h0M202.6 409.7h0M221.3 376.0h0M215.7 381.9h0" stroke="#8890b4" stroke-width="0.8" stroke-linecap="round" stroke-opacity="0.4" fill="none"/>
<path d="M233.1 335.9h0M238.5 327.4h0M225.6 358.3h0M212.5 421.9h0M231.8 336.5h0M242.3 326.8h0M216.1 385.5h0M232.2 342.7h0M209.2 409.5h0M214.0 371.5h0M266.9 317.3h0M204.6 414.7h0M232.6 336.9h0M234.6 356.0h0M228.2 362.9h0M250.4 334.4h0M229.3 370.4h0M202.3 412.8h0M201.6 407.2h0M242.2 350.2h0M221.5 395.8h0M229.4 358.5h0M248.6 318.4h0M230.4 372.9h0M232.4 335.1h0M217.3 392.2h0M196.7 425.7h0" stroke="#8890b4" stroke-width="1.0" stroke-linecap="round" stroke-opacity="0.1" fill="none"/>
<path d="M199.9 414.0h0M238.8 317.8h0M253.4 331.0h0M218.6 361.0h0M256.7 329.4h0M219.0 397.4h0M236.5 332.7h0M212.3 394.7h0M240.8 339.1h0M213.2 381.5h0M223.6 359.9h0M252.7 329.4h0M203.2 406.3h0M217.2 384.3h0M233.4 341.5h0M218.2 391.5h0M220.9 369.9h0M225.7 385.3h0M207.8 422.4h0M257.5 320.8h0M207.6 401.4h0M218.8 374.6h0M215.3 378.2h0M240.8 343.2h0M259.3 324.0h0M244.2 337.9h0M224.4 344.2h0M206.9 420.9h0M202.6 417.8h0M198.9 421.6h0M230.0 331.9h0M219.3 385.1h0M242.1 316.6h0" stroke="#8890b4" stroke-width="1.0" stroke-linecap="round" stroke-opacity="0.2" fill="none"/>
<path d="M202.7 412.8h0M213.1 376.2h0M225.8 343.6h0M245.0 328.4h0M233.8 327.5h0M233.1 350.3h0M238.2 350.2h0M216.7 370.3h0M199.0 427.5h0M216.9 412.7h0M209.2 398.3h0M208.8 414.0h0M213.5 421.1h0M228.8 332.1h0M227.0 353.3h0M239.0 316.7h0M246.1 335.7h0M251.5 321.5h0M196.9 429.5h0M257.3 323.8h0M222.8 364.5h0M205.7 402.6h0M227.8 379.5h0M214.9 369.3h0M239.4 353.0h0M255.2 326.0h0M249.6 317.8h0M243.6 349.0h0M213.3 412.3h0M233.0 324.7h0M217.3 377.8h0M217.4 390.3h0M207.5 428.9h0M198.5 417.0h0M230.3 349.6h0M245.5 332.7h0M237.8 324.9h0M253.6 327.2h0M213.0 403.2h0M257.3 320.0h0M214.0 380.4h0" stroke="#8890b4" stroke-width="1.0" stroke-linecap="round" stroke-opacity="0.3" fill="none"/>
<path d="M229.2 361.2h0M239.6 337.2h0M205.0 414.6h0M225.3 377.6h0M216.9 411.0h0M206.2 396.6h0M241.3 326.1h0M213.4 419.5h0M230.4 367.7h0M226.9 348.4h0M220.9 398.9h0" stroke="#8890b4" stroke-width="1.0" stroke-linecap="round" stroke-opacity="0.4" fill="none"/>
<path d="M193.9 321.1h0M210.5 345.9h0M189.0 416.9h0M210.1 334.0h0M205.8 321.3h0M204.8 366.1h0M194.1 423.1h0M218.6 349.5h0" stroke="#c07888" stroke-width="0.6" stroke-linecap="round" stroke-opacity="0.2" fill="none"/>
<path d="M210.7 360.7h0M218.2 334.5h0M204.1 324.1h0M208.6 357.7h0M185.0 354.7h0M190.2 362.1h0M185.9 424.2h0M192.5 328.5h0M190.6 411.5h0M184.9 413.8h0M203.1 388.3h0M201.9 382.9h0M194.8 398.5h0M202.0 377.5h0M194.5 323.8h0M198.8 344.9h0M182.5 378.7h0M195.6 420.4h0M211.9 351.5h0" stroke="#c07888" stroke-width="0.6" stroke-linecap="round" stroke-opacity="0.3" fill="none"/>
<path d="M221.1 332.7h0M186.9 361.4h0M198.3 371.6h0M223.7 330.9h0M188.3 390.5h0M206.4 323.8h0M212.6 322.8h0M205.5 373.1h0M209.4 350.0h0M220.0 325.3h0M214.8 363.9h0M206.5 340.6h0M183.4 397.5h0M195.8 351.1h0M217.4 318.2h0M198.3 318.2h0M204.4 381.0h0" stroke="#c07888" stroke-width="0.6" stroke-linecap="round" stroke-opacity="0.4" fill="none"/>
<path d="M202.6 372.9h0M192.0 377.6h0M189.1 410.9h0M200.6 365.6h0M223.8 330.7h0M193.9 343.4h0M196.2 345.6h0M182.9 407.3h0M211.2 368.1h0M195.8 321.5h0M201.8 336.3h0M207.8 374.5h0M187.7 410.6h0M223.0 339.7h0M218.9 327.4h0M185.0 356.4h0M202.9 379.6h0M196.6 360.0h0M218.7 337.5h0M198.0 329.3h0M201.0 372.5h0M189.3 323.2h0M196.8 363.0h0M218.9 346.7h0M216.9 330.1h0M203.1 334.3h0M183.7 410.4h0M192.3 344.8h0M196.0 370.6h0M202.0 379.9h0M190.8 401.9h0M189.0 380.8h0M184.3 331.1h0M196.2 339.1h0M193.6 414.5h0M194.6 329.0h0M210.2 374.4h0M193.5 327.8h0M218.7 331.3h0M199.2 327.3h0" stroke="#c07888" stroke-width="0.8" stroke-linecap="round" stroke-opacity="0.2" fill="none"/>
<path d="M193.9 427.6h0M202.6 356.6h0M221.0 341.9h0M201.6 364.2h0M192.0 318.4h0M184.0 329.7h0M192.1 370.5h0M195.7 373.5h0M192.7 387.0h0M214.0 362.8h0M194.1 319.3h0M201.2 373.4h0M235.1 318.3h0M194.0 349.0h0M196.2 376.3h0M183.2 362.0h0M230.4 323.2h0M188.7 383.0h0M190.4 372.2h0M182.8 402.6h0M211.7 341.3h0M201.0 382.4h0M202.1 320.1h0M192.9 323.1h0M188.4 383.5h0M228.9 327.6h0M191.1 342.9h0M197.2 350.7h0M196.5 415.8h0M185.9 324.2h0M205.0 365.6h0" stroke="#c07888" stroke-width="0.8" stroke-linecap="round" stroke-opacity="0.3" fill="none"/>
<path d="M215.5 358.3h0M232.3 319.7h0M200.1 403.4h0M201.7 371.8h0M206.7 340.1h0M187.7 358.2h0M197.3 409.8h0M187.7 411.3h0M191.1 388.5h0M197.1 371.5h0M216.7 356.2h0M219.6 327.2h0M188.4 354.9h0M187.2 383.8h0M184.9 319.3h0M199.5 393.9h0M187.9 388.4h0M198.1 338.6h0M206.0 321.4h0M195.9 357.1h0M219.0 330.4h0M183.6 406.8h0M217.3 319.1h0M197.3 409.3h0M199.1 338.4h0M200.1 387.2h0M184.2 413.6h0M220.5 349.0h0M194.4 335.3h0M205.5 335.6h0M212.6 332.9h0M206.2 336.4h0M201.9 377.8h0M211.7 362.1h0M206.4 386.6h0M200.3 386.9h0" stroke="#c07888" stroke-width="0.8" stroke-linecap="round" stroke-opacity="0.4" fill="none"/>
<path d="M223.2 325.4h0M201.2 318.0h0M183.8 378.0h0M185.5 419.8h0M190.8 398.9h0M196.6 323.2h0M188.8 422.1h0M184.4 342.3h0M214.8 326.7h0M207.6 328.9h0M195.2 354.8h0M191.8 368.8h0M200.8 385.7h0M195.2 393.9h0M199.7 375.6h0M186.7 320.1h0M203.8 363.8h0M229.2 325.2h0M204.1 386.9h0M204.3 325.2h0M191.2 391.4h0M199.8 319.9h0M205.7 369.4h0M198.0 367.4h0M187.6 380.2h0M198.6 379.0h0M217.0 344.0h0M211.5 358.6h0M203.4 361.5h0M182.2 360.7h0M194.1 321.7h0M196.5 386.2h0M185.1 373.3h0" stroke="#c07888" stroke-width="1.0" stroke-linecap="round" stroke-opacity="0.2" fill="none"/>
<path d="M198.8 397.7h0M207.8 379.8h0M197.1 318.5h0M185.3 426.8h0M202.3 321.5h0M182.5 424.5h0M214.2 319.1h0M197.6 359.0h0M205.6 374.3h0M183.3 391.1h0M192.0 370.4h0M199.2 375.3h0M190.2 402.1h0M206.7 382.6h0M184.6 380.7h0M185.2 340.0h0M185.7 357.4h0M207.2 358.2h0M215.4 333.4h0M217.0 351.4h0M201.1 384.8h0M188.2 319.4h0M213.0 342.5h0M183.3 382.5h0M214.6 364.8h0M189.1 373.6h0M209.6 368.1h0M183.4 366.4h0M200.6 365.7h0M185.8 343.4h0M193.6 398.6h0M192.0 406.0h0M191.3 404.5h0M213.3 351.6h0M188.2 414.0h0M193.5 361.1h0M196.1 416.6h0M183.4 369.6h0" stroke="#c07888" stroke-width="1.0" stroke-linecap="round" stroke-opacity="0.3" fill="none"/>
<path d="M189.6 336.3h0M199.4 318.3h0M208.4 328.0h0M207.7 371.3h0M204.7 331.0h0M216.7 351.0h0M198.3 362.6h0M217.4 320.6h0M191.9 364.9h0M206.1 377.0h0M219.1 336.2h0M202.4 392.0h0M190.7 355.8h0M203.1 355.9h0M200.4 378.6h0M221.0 330.3h0M192.8 397.7h0M189.6 422.6h0M213.4 364.2h0M218.7 342.0h0M183.7 419.7h0M196.7 345.2h0M230.9 324.3h0M205.8 358.5h0M193.7 410.2h0M200.3 389.5h0M197.5 363.5h0M198.5 372.4h0" stroke="#c07888" stroke-width="1.0" stroke-linecap="round" stroke-opacity="0.4" fill="none"/>
<path d="M325.4 360.1h0M325.9 394.0h0M306.6 375.0h0M191.1 327.6h0M232.3 366.4h0M182.5 355.0h0M238.6 372.1h0M339.9 419.7h0M298.9 407.1h0M289.3 361.3h0M213.3 381.6h0M217.8 340.3h0M326.0 356.2h0M244.1 367.7h0M215.1 343.9h0M191.0 335.1h0M296.3 342.4h0M296.9 319.1h0M224.1 329.0h0M290.9 340.8h0M192.9 319.5h0M209.9 365.1h0M288.0 409.5h0M206.0 402.9h0M244.0 346.8h0M256.6 367.7h0M209.3 371.5h0M245.3 399.8h0M300.9 386.1h0M296.9 400.8h0M212.6 375.2h0M339.1 392.5h0M256.5 356.8h0M184.2 365.5h0M289.3 361.2h0M269.9 425.0h0M324.0 351.8h0M281.5 388.3h0M202.2 358.9h0M256.8 363.7h0M293.4 349.9h0M198.1 325.8h0M216.8 394.5h0M193.4 398.6h0M255.6 333.4h0M299.3 334.5h0M192.1 370.9h0M230.8 351.0h0M251.2 387.4h0M263.5 322.4h0M338.8 339.6h0" stroke="#8884b0" stroke-width="0.6" stroke-linecap="round" stroke-opacity="0.2" fill="none"/>
<path d="M213.8 345.0h0M268.0 346.7h0M332.7 401.8h0M244.2 348.2h0M251.3 360.6h0M258.5 387.0h0M258.2 349.9h0M199.8 392.0h0M237.6 415.6h0M235.9 380.5h0M188.9 400.4h0M251.7 336.9h0M307.2 353.9h0M284.6 377.6h0M220.9 408.6h0M329.8 398.0h0M220.9 323.6h0M227.5 374.7h0M263.2 346.7h0M283.2 350.8h0M244.8 323.8h0M289.1 350.2h0M190.6 328.1h0M281.2 411.8h0M284.8 323.6h0M192.8 340.4h0M297.2 424.3h0M309.8 325.8h0M234.6 355.6h0M249.9 353.0h0M326.8 354.1h0M234.9 405.1h0M212.3 328.2h0M324.9 416.4h0M250.9 379.4h0M253.3 365.0h0M265.0 398.7h0M246.7 373.5h0M333.7 412.1h0M289.5 388.6h0M243.3 347.8h0M276.3 345.6h0M280.6 345.0h0M184.4 334.5h0M292.0 424.8h0" stroke="#8884b0" stroke-width="0.6" stroke-linecap="round" stroke-opacity="0.3" fill="none"/>
<path d="M246.0 369.9h0M249.4 341.7h0M223.6 339.1h0M312.6 421.9h0M230.5 397.8h0M328.0 346.4h0M293.2 362.8h0M226.7 384.7h0M213.4 362.9h0M308.0 351.3h0M284.1 336.7h0M296.9 415.0h0M310.3 337.5h0M284.8 376.6h0M318.0 424.4h0M244.6 397.1h0M318.3 422.8h0M276.0 411.5h0M192.7 388.7h0M271.9 379.5h0M278.4 359.1h0M212.7 359.5h0" stroke="#8884b0" stroke-width="0.6" stroke-linecap="round" stroke-opacity="0.4" fill="none"/>
<path d="M296.2 366.1h0M286.5 400.3h0M293.1 365.7h0M338.0 391.9h0M276.6 422.0h0M311.6 341.4h0M311.7 382.4h0M256.3 361.0h0M308.6 361.7h0M260.5 365.2h0M250.3 423.5h0M274.0 392.9h0M227.3 378.9h0M296.2 359.7h0M218.9 350.8h0M196.5 371.9h0M285.0 402.7h0M245.9 417.0h0M330.3 395.6h0M229.4 404.2h0M257.0 405.5h0M318.8 387.8h0M305.5 362.8h0M205.2 319.4h0M295.8 333.5h0M304.2 332.4h0M186.0 363.0h0M253.7 409.2h0M316.0 417.2h0M213.6 325.9h0M312.6 343.4h0M268.0 335.7h0M186.1 410.2h0M295.3 375.2h0M311.0 367.0h0M222.4 331.5h0M337.3 380.0h0M225.9 333.1h0M274.5 395.0h0M265.4 361.2h0M293.2 386.8h0M329.7 375.5h0M202.4 382.6h0M253.4 326.0h0M221.0 346.9h0M231.7 361.5h0M308.1 366.3h0M294.1 357.8h0M220.6 422.3h0M277.7 401.4h0M276.7 384.2h0M297.4 377.2h0M298.1 416.5h0M284.0 382.8h0M261.0 358.3h0M239.5 326.1h0M196.7 408.3h0M186.4 364.2h0M326.0 349.3h0M336.0 333.0h0M262.9 369.2h0M336.5 341.9h0M274.9 384.6h0M266.7 392.0h0M229.6 325.2h0M256.0 409.7h0M210.0 368.3h0M212.3 359.5h0M238.1 322.1h0M267.1 383.2h0M219.1 385.8h0M279.5 392.2h0M325.9 400.5h0M290.2 334.6h0M230.5 374.8h0M267.6 349.8h0M275.1 357.0h0M183.4 372.2h0M196.4 411.6h0M297.1 367.9h0M214.6 326.6h0M317.9 408.8h0M230.5 324.3h0M306.4 377.3h0M293.8 329.5h0M218.9 369.2h0M334.5 421.9h0M282.3 327.2h0M190.7 390.9h0M226.4 370.3h0M266.7 328.9h0M288.9 425.4h0M290.2 391.6h0M330.4 401.9h0M278.8 413.7h0M287.5 363.4h0M248.8 422.7h0M264.7 405.9h0M247.0 384.3h0" stroke="#8884b0" stroke-width="0.8" stroke-linecap="round" stroke-opacity="0.2" fill="none"/>
<path d="M291.2 362.5h0M289.6 324.5h0M311.4 419.9h0M342.7 415.7h0M343.2 406.3h0M221.3 355.2h0M316.8 404.8h0M277.3 319.6h0M289.8 366.3h0M294.4 368.1h0M288.8 382.2h0M328.5 385.3h0M210.2 382.8h0M339.8 416.3h0M290.8 353.7h0M295.6 374.7h0M334.5 348.0h0M325.3 405.1h0M186.8 325.3h0M275.7 388.7h0M182.3 417.2h0M212.7 366.0h0M270.9 356.0h0M328.7 327.2h0M292.0 332.1h0M192.5 358.9h0M298.0 344.5h0M203.6 414.8h0M291.1 404.7h0M200.2 371.4h0M288.3 416.9h0M225.4 424.0h0M212.0 413.8h0M339.0 338.9h0M235.9 418.9h0M223.6 395.8h0M239.1 382.8h0M200.2 360.4h0M218.3 374.6h0M343.1 350.5h0M317.9 384.8h0M326.0 363.4h0M322.4 425.2h0M315.5 363.9h0M185.2 345.6h0M285.0 395.8h0M209.1 336.8h0M257.8 332.1h0M184.9 323.8h0M218.7 363.1h0M264.6 392.6h0M243.0 333.8h0M277.3 419.9h0M201.8 357.2h0M333.6 364.4h0M277.1 361.7h0M328.7 356.7h0M257.0 344.9h0M234.9 322.1h0M202.5 357.3h0M228.0 367.7h0M341.4 403.6h0M237.8 395.3h0M295.6 368.4h0M284.1 346.4h0M232.3 330.4h0M208.0 326.6h0M259.1 414.4h0M238.8 368.6h0M254.3 321.5h0M260.8 324.1h0M326.0 384.4h0M255.5 394.1h0M238.8 388.6h0M213.7 388.0h0M325.1 370.8h0M257.9 377.1h0M231.5 326.4h0M322.6 415.4h0M341.5 339.2h0M317.8 420.3h0M317.1 339.0h0M333.6 334.6h0M234.5 380.5h0M307.7 328.2h0M301.8 379.3h0M208.4 347.1h0M284.5 398.3h0M334.3 349.7h0M214.1 424.3h0M314.6 325.2h0M306.2 381.7h0M312.4 340.6h0M275.3 380.3h0M212.6 340.9h0M262.8 416.4h0M282.8 423.0h0M314.8 409.5h0M294.0 332.6h0M272.5 383.3h0M340.8 367.0h0" stroke="#8884b0" stroke-width="0.8" stroke-linecap="round" stroke-opacity="0.3" fill="none"/>
<path d="M189.4 324.2h0M289.9 350.4h0M205.5 385.8h0M199.2 359.7h0M323.2 359.0h0M188.2 418.1h0M300.5 383.4h0M242.2 346.0h0M197.6 345.4h0M215.7 332.9h0M194.3 414.9h0M291.0 335.7h0M263.8 327.4h0M225.0 394.5h0M244.6 341.0h0M275.3 422.3h0M312.9 400.2h0M313.1 333.2h0M243.1 423.5h0M310.1 360.7h0M264.3 324.2h0M185.7 324.8h0M234.1 362.9h0M211.3 413.9h0M318.5 345.0h0M240.7 343.3h0M241.6 390.8h0M221.1 368.4h0M263.2 336.8h0M334.9 349.9h0M340.7 399.5h0M221.2 410.4h0M263.1 340.3h0M248.6 338.7h0M229.7 363.2h0M317.4 389.4h0M274.8 381.0h0M342.7 389.6h0M325.1 394.7h0M216.5 378.2h0M307.5 390.1h0M233.3 390.5h0M280.9 338.7h0M278.2 342.6h0M197.6 411.5h0M220.8 412.8h0M198.9 350.4h0M215.2 332.5h0M299.5 374.1h0M236.4 331.2h0M192.2 364.1h0M251.7 336.3h0M185.4 393.3h0M278.5 417.5h0M274.2 405.0h0M298.5 368.9h0M277.5 344.7h0M329.2 333.4h0M260.6 323.3h0" stroke="#8884b0" stroke-width="0.8" stroke-linecap="round" stroke-opacity="0.4" fill="none"/>
<path d="M228.1 356.9h0M255.3 401.7h0M276.9 327.9h0M216.4 340.9h0M216.5 385.0h0M255.0 422.5h0M205.0 323.0h0M339.3 324.4h0M252.3 381.2h0M300.7 334.3h0M342.4 319.3h0M340.4 375.6h0M301.1 382.6h0M277.4 332.2h0M227.3 331.3h0M236.0 406.1h0M260.4 388.6h0M336.3 397.5h0M287.8 386.3h0M213.9 354.8h0M276.1 347.8h0M291.5 346.0h0M238.6 326.1h0M301.0 387.3h0M196.2 345.8h0M186.8 341.3h0M216.6 365.7h0M312.5 411.1h0M200.8 394.7h0M231.6 346.0h0M307.3 393.9h0M294.7 411.2h0M329.4 344.6h0M336.6 397.7h0M252.5 362.7h0M235.7 329.4h0M226.2 425.0h0M238.2 343.3h0M290.4 410.8h0M331.9 402.1h0M198.1 365.8h0M260.4 376.5h0M295.1 410.4h0M217.8 375.3h0M304.2 370.5h0M332.6 372.7h0M327.3 352.2h0M292.6 335.3h0M200.9 398.4h0M256.5 330.9h0M221.0 354.9h0M188.5 422.5h0M333.3 338.1h0M201.0 369.2h0M272.3 342.2h0M234.3 424.8h0M291.8 346.1h0M185.6 393.5h0M337.9 348.6h0M342.9 386.9h0M342.9 393.1h0M319.3 359.2h0M300.7 381.1h0M287.7 355.9h0M294.1 340.6h0M242.7 360.6h0M211.9 398.0h0M237.0 345.2h0M299.4 373.2h0M310.9 379.6h0M214.9 392.7h0M295.4 320.0h0M259.0 345.1h0M319.4 335.2h0M305.6 400.6h0M319.6 386.8h0M250.9 339.6h0M196.4 335.8h0M198.0 400.8h0M251.9 395.4h0M228.7 422.1h0M234.3 339.0h0M284.3 333.8h0M204.8 342.4h0M230.5 356.3h0M329.8 370.5h0M260.7 368.2h0M304.0 425.0h0M292.4 388.9h0M275.0 407.0h0M255.0 333.6h0M269.3 347.5h0" stroke="#8884b0" stroke-width="1.0" stroke-linecap="round" stroke-opacity="0.2" fill="none"/>
<path d="M274.8 329.3h0M227.0 394.1h0M328.7 364.5h0M221.3 343.9h0M238.1 327.5h0M252.4 400.8h0M243.0 347.6h0M296.0 387.9h0M327.2 348.1h0M206.9 338.6h0M244.5 361.6h0M191.0 327.8h0M317.7 353.7h0M187.3 358.8h0M308.0 408.8h0M278.7 346.8h0M263.9 398.7h0M225.4 335.9h0M338.1 357.7h0M211.8 370.7h0M191.1 366.6h0M326.5 393.9h0M286.6 413.5h0M302.5 345.3h0M218.1 424.3h0M323.1 415.7h0M273.8 373.2h0M339.3 337.7h0M290.3 321.5h0M243.7 339.9h0M285.7 321.8h0M216.5 400.6h0M289.7 401.8h0M274.3 355.6h0M221.6 328.7h0M263.2 407.6h0M208.9 331.5h0M231.3 360.9h0M321.2 335.0h0M287.7 419.7h0M235.8 332.5h0M182.4 333.0h0M340.4 376.5h0M332.3 345.0h0M190.2 369.8h0M220.5 382.5h0M253.7 392.2h0M212.2 363.6h0M228.7 391.5h0M246.2 391.8h0M235.7 422.2h0M298.9 404.0h0M262.6 386.6h0M319.0 344.8h0M234.0 374.8h0M220.2 321.4h0M199.3 355.6h0M245.1 326.5h0M299.5 402.9h0M330.3 379.1h0M266.4 385.8h0M223.0 332.8h0M305.6 397.0h0M192.5 394.2h0M332.0 324.0h0M272.7 424.4h0M298.8 336.4h0M224.3 397.2h0M312.6 384.5h0M308.5 353.0h0M185.8 373.1h0M235.4 345.5h0M268.9 406.1h0M207.8 418.1h0M265.9 364.6h0M200.3 339.8h0M311.3 381.2h0M308.8 376.9h0M286.2 364.1h0M211.4 385.6h0M267.3 396.5h0M199.8 387.9h0M319.4 367.2h0" stroke="#8884b0" stroke-width="1.0" stroke-linecap="round" stroke-opacity="0.3" fill="none"/>
<path d="M332.8 395.4h0M234.2 356.0h0M279.8 400.4h0M228.3 351.2h0M237.6 344.4h0M300.6 375.4h0M291.7 335.2h0M335.2 403.1h0M312.3 326.3h0M186.2 335.5h0M204.5 408.4h0M282.2 400.4h0M188.7 321.0h0M325.6 413.1h0M308.8 366.8h0M287.5 406.5h0M315.9 347.2h0M230.4 413.0h0M215.9 337.9h0M250.8 420.9h0M331.2 376.5h0M260.0 406.6h0M330.2 379.5h0M266.2 405.2h0M305.1 320.0h0M255.6 420.3h0M280.0 340.0h0M210.9 416.6h0M185.4 336.2h0M274.4 387.7h0M304.0 404.4h0M285.1 332.3h0M237.9 388.0h0M324.6 341.0h0M243.4 349.5h0M240.3 330.1h0M236.1 404.8h0M268.6 350.5h0M319.7 424.3h0M268.0 334.7h0M325.5 417.8h0M269.0 363.7h0M319.0 420.2h0M200.4 333.4h0M185.0 320.6h0M247.5 322.0h0M231.7 333.1h0M244.1 343.9h0" stroke="#8884b0" stroke-width="1.0" stroke-linecap="round" stroke-opacity="0.4" fill="none"/>
<polygon points="207.0,430.0 225.0,378.0 240.0,352.0 251.0,340.0 262.0,347.0 276.0,357.0 290.0,366.0 292.0,430.0" fill="#f0dae2" opacity="0.5" filter="url(#blur2)"/>
<path d="M224.2 383.3h0M254.6 376.8h0M289.1 387.1h0M265.6 414.6h0M216.3 415.7h0M260.7 378.3h0M250.2 352.1h0M217.5 410.8h0M280.5 361.2h0" stroke="#c05266" stroke-width="0.8" stroke-linecap="round" stroke-opacity="0.3" fill="none"/>
<path d="M278.1 372.9h0M233.0 380.4h0M256.8 366.9h0M231.6 389.0h0M267.5 361.1h0M249.0 366.0h0M240.2 422.9h0M230.1 426.4h0M214.7 418.4h0M273.9 380.4h0M277.6 377.8h0M246.6 416.8h0M224.3 410.0h0M218.5 414.4h0M219.7 413.0h0M259.9 379.0h0M251.1 350.5h0M255.8 363.8h0M246.5 370.8h0M272.8 402.0h0M288.3 403.4h0M261.8 359.7h0M284.0 394.6h0M262.7 423.0h0M288.0 395.0h0M218.7 409.3h0M284.1 388.6h0M224.8 393.1h0" stroke="#c05266" stroke-width="0.8" stroke-linecap="round" stroke-opacity="0.4" fill="none"/>
<path d="M238.6 376.4h0M256.9 373.8h0M289.7 367.0h0M214.3 419.2h0M249.9 424.4h0M243.3 364.1h0M271.8 382.6h0M270.9 405.2h0M266.5 412.8h0M267.4 413.8h0M231.4 403.4h0M219.1 429.4h0M283.3 401.0h0M286.1 393.7h0M278.6 410.1h0M275.7 399.4h0M244.1 379.4h0M226.3 421.2h0M265.2 401.7h0M276.5 362.8h0" stroke="#c05266" stroke-width="0.8" stroke-linecap="round" stroke-opacity="0.5" fill="none"/>
<path d="M249.7 402.4h0M257.8 365.5h0M228.8 392.5h0M220.6 411.3h0M223.3 393.8h0M223.6 387.4h0M241.1 422.5h0M256.0 386.3h0M265.8 413.0h0M242.8 412.1h0M216.9 417.1h0M274.5 414.4h0M278.9 409.3h0M254.3 366.6h0M241.1 415.3h0" stroke="#c05266" stroke-width="0.8" stroke-linecap="round" stroke-opacity="0.6" fill="none"/>
<path d="M229.8 383.6h0M227.7 408.0h0M259.4 369.0h0M263.7 422.6h0M265.8 375.5h0M264.9 362.8h0M272.7 381.2h0M280.6 388.5h0M270.4 421.5h0M255.2 370.5h0M238.9 360.6h0M267.1 425.9h0M237.5 368.6h0M231.8 404.3h0M232.4 382.6h0M289.6 369.3h0M245.2 418.5h0M247.6 422.2h0M269.4 392.4h0M226.7 417.1h0M263.5 350.9h0M280.1 398.2h0M215.5 418.4h0M231.3 398.4h0M266.8 401.0h0" stroke="#c05266" stroke-width="0.8" stroke-linecap="round" stroke-opacity="0.7" fill="none"/>
<path d="M269.9 366.4h0M226.8 413.7h0M227.0 374.5h0M223.8 389.9h0M272.8 379.5h0M258.8 351.9h0M249.3 412.8h0M270.2 422.6h0M223.2 413.7h0M225.2 408.7h0M271.2 362.2h0M245.1 370.6h0M253.0 345.3h0M246.8 368.6h0M274.5 399.3h0M254.3 373.8h0M265.7 411.1h0M241.8 413.6h0M227.2 422.4h0M252.9 346.3h0M225.9 409.0h0M265.4 397.9h0" stroke="#c05266" stroke-width="1.0" stroke-linecap="round" stroke-opacity="0.3" fill="none"/>
<path d="M278.9 368.0h0M224.5 414.3h0M225.3 411.7h0M238.9 403.9h0M235.0 361.0h0M234.5 416.3h0M224.0 383.7h0M221.3 406.3h0M216.5 418.0h0M249.7 425.4h0M253.4 419.6h0M240.4 423.6h0M241.0 420.7h0M243.5 361.5h0M278.9 390.3h0M227.7 416.7h0M277.3 415.5h0M237.4 423.8h0M248.7 411.6h0M248.5 396.5h0M271.1 405.5h0M251.9 414.6h0M245.3 369.7h0M226.9 388.1h0M220.6 428.2h0M222.9 424.9h0M245.5 369.0h0M272.7 402.8h0M229.7 394.8h0M287.0 405.6h0M271.1 386.5h0M239.5 389.1h0M274.7 401.2h0M266.3 429.0h0M243.6 403.4h0M270.3 420.3h0M245.8 424.3h0M225.0 426.2h0M278.1 364.8h0" stroke="#c05266" stroke-width="1.0" stroke-linecap="round" stroke-opacity="0.4" fill="none"/>
<path d="M227.1 410.8h0M235.1 383.3h0M213.7 417.0h0M217.7 414.4h0M247.2 366.5h0M219.0 408.8h0M281.3 385.9h0M282.0 382.0h0M254.8 378.8h0M275.7 385.1h0M228.7 379.5h0M244.5 377.3h0M283.5 381.6h0M265.2 413.6h0M278.6 362.7h0M257.0 380.6h0M269.4 423.6h0M253.4 392.9h0M253.9 390.6h0M233.9 402.1h0M219.2 407.4h0M252.8 347.5h0M256.8 361.6h0M244.2 375.0h0M288.6 412.6h0M250.9 405.4h0M276.7 413.2h0M255.3 371.6h0M237.5 392.4h0M222.8 422.1h0M280.6 398.3h0M263.9 413.4h0M237.8 400.1h0M230.8 416.1h0M232.0 413.8h0M272.6 392.6h0M287.8 393.1h0M290.3 390.7h0M228.1 420.5h0M253.1 344.9h0M281.3 360.4h0M265.4 404.5h0M265.1 403.4h0M223.5 396.4h0M226.2 392.0h0M266.6 393.3h0M277.4 360.6h0M277.3 359.6h0" stroke="#c05266" stroke-width="1.0" stroke-linecap="round" stroke-opacity="0.5" fill="none"/>
<path d="M270.5 368.1h0M226.5 408.0h0M227.8 406.6h0M250.1 364.8h0M254.9 375.9h0M254.0 393.4h0M236.5 414.0h0M287.9 368.4h0M264.7 376.7h0M227.2 414.9h0M281.4 389.0h0M281.6 386.9h0M256.1 376.5h0M289.4 393.5h0M290.6 392.5h0M226.7 380.4h0M280.8 387.8h0M276.4 423.8h0M279.2 359.1h0M278.3 376.7h0M249.6 395.6h0M249.7 392.0h0M250.9 391.0h0M251.0 372.9h0M270.6 395.6h0M233.9 422.6h0M234.7 420.7h0M288.9 380.6h0M283.8 378.3h0M285.5 373.6h0M245.5 420.2h0M257.9 358.5h0M272.3 404.0h0M275.8 397.7h0M250.7 416.8h0M282.0 403.5h0M282.1 402.7h0M263.1 358.6h0M255.3 372.5h0M225.5 407.9h0M274.2 402.3h0M241.4 424.0h0M240.5 407.6h0M236.0 400.6h0M248.2 418.7h0M232.7 398.2h0M266.3 397.5h0" stroke="#c05266" stroke-width="1.0" stroke-linecap="round" stroke-opacity="0.6" fill="none"/>
<path d="M225.7 413.0h0M223.9 414.5h0M215.9 416.8h0M220.7 410.3h0M247.0 367.5h0M257.3 372.0h0M260.2 368.7h0M232.9 422.5h0M233.6 421.0h0M267.6 359.4h0M251.3 422.4h0M252.4 421.0h0M266.8 355.3h0M268.5 353.2h0M224.1 420.4h0M225.6 419.3h0M277.5 377.8h0M256.4 390.3h0M247.8 397.9h0M221.2 409.0h0M278.4 411.3h0M279.7 408.8h0M253.4 370.9h0M237.8 361.5h0M270.5 393.1h0M286.6 365.8h0M242.1 416.9h0M268.5 421.1h0M245.1 372.3h0M283.2 379.1h0M229.1 382.9h0M288.0 370.4h0M221.8 425.8h0M253.1 344.2h0M256.2 361.0h0M274.0 399.7h0M269.7 388.5h0M273.2 402.7h0M263.4 414.6h0M239.0 397.5h0M240.6 393.5h0M258.8 358.7h0M234.0 401.1h0M222.0 419.7h0M253.7 369.5h0M255.6 364.8h0M243.6 376.8h0M238.3 360.1h0M264.8 407.1h0" stroke="#c05266" stroke-width="1.0" stroke-linecap="round" stroke-opacity="0.7" fill="none"/>
<path d="M231.3 417.4h0M290.0 408.1h0M285.9 420.4h0M255.1 392.0h0M289.3 378.4h0M262.0 379.3h0M238.8 424.8h0M231.5 424.2h0M239.6 418.5h0M239.5 417.4h0M255.5 386.5h0M226.7 405.0h0M233.4 425.2h0M282.5 380.4h0M232.2 384.8h0M289.2 413.6h0M230.8 394.2h0M286.0 410.1h0M237.3 393.7h0M243.3 386.1h0M224.4 409.5h0M248.5 416.9h0" stroke="#c05266" stroke-width="1.2" stroke-linecap="round" stroke-opacity="0.3" fill="none"/>
<path d="M266.8 411.0h0M268.4 407.5h0M221.9 409.1h0M223.1 408.7h0M250.6 409.2h0M236.9 405.4h0M265.1 420.9h0M236.5 358.7h0M227.3 376.3h0M268.0 358.6h0M248.8 427.0h0M281.0 409.4h0M282.9 407.9h0M267.6 410.2h0M220.1 426.7h0M238.1 420.5h0M248.7 415.1h0M249.8 390.5h0M218.8 410.8h0M280.1 407.1h0M269.7 409.3h0M288.7 379.2h0M282.9 364.4h0M230.1 403.4h0M286.3 372.2h0M282.6 401.4h0M285.3 400.5h0M285.5 397.7h0M225.5 403.3h0M257.1 363.4h0M225.2 420.7h0M241.9 405.7h0M283.1 395.2h0M240.1 395.0h0M249.9 351.9h0M246.5 420.2h0" stroke="#c05266" stroke-width="1.2" stroke-linecap="round" stroke-opacity="0.4" fill="none"/>
<path d="M277.6 375.0h0M269.5 370.3h0M226.9 411.9h0M239.5 374.1h0M231.0 389.4h0M224.9 413.4h0M226.8 379.4h0M274.1 376.8h0M225.5 418.4h0M283.1 407.7h0M265.3 411.8h0M278.1 418.2h0M255.3 368.0h0M278.6 409.9h0M244.1 351.2h0M251.5 395.1h0M242.6 413.9h0M289.0 379.2h0M265.1 427.1h0M228.0 406.8h0M235.6 398.8h0M220.8 427.0h0M245.0 421.9h0M280.1 411.4h0M269.0 392.3h0M285.4 397.9h0M223.4 411.8h0M225.5 406.7h0M259.4 361.7h0M240.8 408.8h0M233.0 413.4h0M260.3 357.0h0M263.2 421.2h0M216.8 414.2h0M241.6 411.6h0M225.7 424.4h0M222.1 414.2h0" stroke="#c05266" stroke-width="1.2" stroke-linecap="round" stroke-opacity="0.5" fill="none"/>
<path d="M278.5 371.9h0M277.8 369.3h0M271.0 365.2h0M233.1 413.6h0M255.2 368.0h0M228.3 391.1h0M289.4 410.8h0M226.5 416.2h0M252.9 395.7h0M236.8 415.0h0M225.1 418.8h0M242.8 365.0h0M283.0 384.8h0M280.7 410.3h0M237.7 422.5h0M249.5 411.0h0M249.7 392.2h0M269.9 394.9h0M270.5 391.4h0M287.2 364.8h0M269.9 410.8h0M267.7 423.2h0M260.5 379.9h0M265.2 425.1h0M236.0 370.2h0M232.8 403.6h0M228.6 385.0h0M245.7 420.4h0M271.2 405.9h0M247.6 422.4h0M285.7 408.5h0M290.6 403.4h0M287.7 392.7h0M256.1 364.4h0M250.2 349.3h0M246.4 422.3h0M218.1 412.4h0" stroke="#c05266" stroke-width="1.2" stroke-linecap="round" stroke-opacity="0.6" fill="none"/>
<path d="M250.3 400.2h0M265.5 362.9h0M238.6 427.6h0M237.6 426.2h0M223.9 402.7h0M223.7 401.9h0M232.0 423.9h0M267.1 360.2h0M274.5 379.0h0M266.3 356.9h0M267.9 354.5h0M255.7 389.2h0M258.5 345.3h0M258.5 352.7h0M247.4 416.3h0M253.3 414.3h0M252.8 394.9h0M242.4 417.3h0M239.6 366.6h0M283.3 376.0h0M230.5 386.2h0M227.2 386.4h0M289.8 368.3h0M218.3 406.1h0M227.3 398.6h0M249.4 420.0h0M242.7 424.0h0M286.9 395.8h0M226.2 414.7h0M244.4 374.9h0M247.1 419.9h0M239.1 359.2h0M230.7 399.7h0" stroke="#c05266" stroke-width="1.2" stroke-linecap="round" stroke-opacity="0.7" fill="none"/>
<path d="M278.9 366.1h0M234.3 384.6h0M262.3 381.0h0M221.9 405.8h0M278.3 415.8h0M245.4 349.3h0M268.1 421.7h0M255.1 365.6h0M266.9 392.1h0" stroke="#c05266" stroke-width="1.4" stroke-linecap="round" stroke-opacity="0.3" fill="none"/>
<path d="M249.7 414.5h0M272.9 362.9h0M265.7 411.9h0M270.2 406.4h0M287.1 419.2h0M227.7 411.1h0M290.1 380.5h0M282.4 381.8h0M242.5 380.4h0M244.0 378.5h0M257.0 382.9h0M219.9 405.6h0M219.8 404.1h0M290.4 412.0h0M227.7 397.9h0M241.5 386.5h0M225.4 405.6h0M267.2 427.9h0M231.9 415.5h0M243.4 410.8h0M251.3 347.7h0M226.9 389.1h0M226.5 408.0h0" stroke="#c05266" stroke-width="1.4" stroke-linecap="round" stroke-opacity="0.4" fill="none"/>
<path d="M258.5 371.0h0M237.6 413.2h0M274.3 387.4h0M242.3 379.8h0M218.9 429.1h0M239.1 359.7h0M252.1 416.7h0M270.9 408.5h0M273.7 356.8h0M233.5 405.9h0M249.5 407.9h0M249.9 420.2h0M269.5 386.8h0M267.8 427.5h0M243.3 404.4h0M268.1 426.2h0M269.2 422.6h0M266.5 410.5h0M250.7 350.8h0M278.6 360.8h0M279.9 359.9h0M266.8 395.2h0" stroke="#c05266" stroke-width="1.4" stroke-linecap="round" stroke-opacity="0.5" fill="none"/>
<path d="M233.3 415.0h0M216.2 415.7h0M228.5 409.7h0M223.3 391.4h0M275.9 385.6h0M278.0 419.3h0M275.4 379.4h0M250.7 374.7h0M273.4 357.7h0M213.6 419.3h0M223.1 423.7h0M286.9 416.4h0M280.4 408.2h0M262.9 349.9h0M282.7 389.8h0M279.5 362.4h0" stroke="#c05266" stroke-width="1.4" stroke-linecap="round" stroke-opacity="0.6" fill="none"/>
<path d="M231.2 382.1h0M228.9 409.5h0M226.7 377.1h0M257.7 353.5h0M272.3 403.1h0M252.1 372.1h0M223.2 412.7h0M224.4 411.3h0M229.7 405.5h0M284.7 374.7h0M218.5 410.2h0M287.3 415.2h0M290.7 409.7h0M243.4 423.0h0M245.8 403.3h0M268.7 424.5h0M240.6 393.9h0M272.6 393.7h0M258.2 360.4h0M289.8 391.2h0M243.6 378.4h0M224.2 394.1h0M224.0 412.4h0" stroke="#c05266" stroke-width="1.4" stroke-linecap="round" stroke-opacity="0.7" fill="none"/>
<path d="M250.9 409.9h0M240.4 391.6h0M277.3 406.2h0M265.4 386.4h0M251.8 429.5h0M238.3 355.7h0M258.2 419.4h0M286.7 407.3h0M279.9 401.0h0M252.0 365.1h0M251.0 418.8h0M243.7 358.3h0M246.3 372.4h0M239.5 425.9h0M254.0 429.0h0" stroke="#c87080" stroke-width="0.8" stroke-linecap="round" stroke-opacity="0.2" fill="none"/>
<path d="M261.0 418.8h0M224.7 394.8h0M225.8 404.2h0M281.0 407.2h0M252.1 423.9h0M255.6 401.2h0M269.4 413.1h0M252.0 402.5h0M249.5 374.8h0M260.2 423.9h0M276.5 429.4h0M228.0 426.6h0M244.4 398.7h0M264.5 390.6h0M274.0 428.0h0M259.2 370.5h0M259.3 417.2h0M256.9 344.8h0M255.9 372.9h0M248.1 399.8h0M269.1 365.4h0M239.4 382.0h0M261.3 426.7h0M230.9 385.0h0M239.3 429.2h0M245.7 375.4h0" stroke="#c87080" stroke-width="0.8" stroke-linecap="round" stroke-opacity="0.3" fill="none"/>
<path d="M268.0 368.8h0M278.2 365.7h0M253.2 343.4h0M239.0 401.7h0M245.4 384.7h0M275.7 359.7h0M237.6 423.4h0M223.8 426.5h0M272.1 384.3h0M221.9 402.7h0M226.2 395.5h0M259.1 403.6h0M245.8 394.3h0M252.8 352.1h0M262.9 423.4h0M280.7 408.1h0M282.9 402.9h0M272.2 372.8h0M247.9 389.8h0M278.1 372.4h0M264.3 409.4h0M265.1 369.5h0M219.4 413.8h0M236.8 367.5h0M257.0 412.4h0M269.2 401.9h0M223.4 411.3h0M241.8 382.4h0M251.0 368.0h0M254.9 372.2h0M288.3 427.1h0M231.2 391.5h0M221.4 411.5h0M233.3 426.8h0M243.1 418.6h0M251.9 358.1h0" stroke="#c87080" stroke-width="0.8" stroke-linecap="round" stroke-opacity="0.4" fill="none"/>
<path d="M231.1 404.3h0M261.9 416.5h0M241.5 411.5h0M283.6 371.4h0M258.5 403.9h0M289.3 366.0h0M244.2 415.7h0M237.5 362.9h0M272.3 368.4h0M274.0 424.4h0M241.9 371.1h0M241.4 406.5h0M275.7 383.4h0M282.5 388.4h0M245.2 356.0h0M251.7 401.0h0M257.1 429.9h0M232.3 412.0h0M241.1 354.3h0M287.5 426.9h0M260.3 375.1h0M237.6 370.2h0M273.0 388.1h0M276.5 369.3h0M245.9 347.1h0M225.7 385.5h0M212.8 414.6h0M232.8 402.9h0M237.0 419.5h0M267.9 410.9h0M283.3 366.0h0M245.1 419.6h0M272.5 377.2h0M245.1 350.1h0" stroke="#c87080" stroke-width="0.8" stroke-linecap="round" stroke-opacity="0.5" fill="none"/>
<path d="M276.7 390.1h0M236.7 422.3h0M225.6 397.2h0M273.3 359.1h0M275.0 371.4h0M252.5 359.4h0M288.2 421.3h0M253.0 409.6h0M210.7 425.5h0M253.1 385.7h0M269.1 352.9h0M255.6 363.6h0M272.7 402.1h0M260.1 406.6h0M245.8 395.3h0M233.2 421.8h0M265.4 382.5h0M270.0 396.9h0" stroke="#c87080" stroke-width="1.0" stroke-linecap="round" stroke-opacity="0.2" fill="none"/>
<path d="M232.0 405.4h0M253.1 372.4h0M279.8 386.9h0M245.5 422.8h0M255.8 395.3h0M280.9 376.0h0M252.1 383.2h0M264.8 415.3h0M223.0 416.0h0M218.9 425.7h0M249.0 389.8h0M222.2 395.5h0M257.3 404.1h0M260.1 348.3h0M240.1 417.9h0M290.0 408.5h0M244.3 401.2h0M254.5 387.5h0M232.7 402.4h0M267.1 391.3h0M226.8 381.5h0M269.2 393.9h0M284.0 406.1h0M255.9 422.8h0M246.6 356.4h0M231.7 393.4h0M265.0 411.6h0" stroke="#c87080" stroke-width="1.0" stroke-linecap="round" stroke-opacity="0.3" fill="none"/>
<path d="M254.0 393.3h0M247.9 421.4h0M266.2 414.1h0M278.1 398.5h0M248.9 417.2h0M278.6 397.2h0M255.3 369.2h0M285.5 381.6h0M253.1 423.8h0M282.7 364.5h0M267.9 423.1h0M265.3 424.7h0M283.1 406.6h0M224.4 415.1h0M262.2 362.5h0M226.9 386.2h0M254.5 386.7h0M238.1 382.6h0M257.9 358.8h0M230.1 422.2h0M281.1 422.8h0M254.0 346.4h0M241.3 416.6h0M251.5 380.4h0M263.6 411.7h0M241.0 416.1h0" stroke="#c87080" stroke-width="1.0" stroke-linecap="round" stroke-opacity="0.4" fill="none"/>
<path d="M264.3 361.0h0M222.6 403.1h0M220.8 396.5h0M272.2 388.6h0M254.1 395.2h0M268.2 426.6h0M287.2 416.2h0M286.9 375.6h0M249.5 352.1h0M284.9 404.3h0M235.2 365.2h0M237.2 397.5h0M280.0 369.3h0M218.1 423.9h0M259.0 420.9h0M241.6 391.9h0M254.6 368.5h0M272.5 420.4h0M232.7 391.5h0M279.5 385.6h0M249.5 421.5h0" stroke="#c87080" stroke-width="1.0" stroke-linecap="round" stroke-opacity="0.5" fill="none"/>
<path d="M265.2 361.0h0M283.9 378.6h0M225.7 394.9h0M270.8 376.0h0M288.8 376.1h0M240.7 380.9h0" stroke="#c87080" stroke-width="1.2" stroke-linecap="round" stroke-opacity="0.2" fill="none"/>
<path d="M257.0 375.4h0M244.6 409.7h0M221.2 418.4h0M229.4 403.2h0M273.6 368.5h0M286.2 403.7h0M268.9 400.5h0M267.1 368.6h0M261.6 416.7h0M289.9 396.0h0M283.6 384.0h0M287.8 420.5h0M213.4 427.3h0M272.2 407.6h0M234.6 401.1h0M257.8 356.8h0M231.2 426.5h0M246.3 405.2h0M256.5 393.7h0" stroke="#c87080" stroke-width="1.2" stroke-linecap="round" stroke-opacity="0.3" fill="none"/>
<path d="M271.5 395.6h0M271.7 365.3h0M253.6 374.6h0M233.2 420.9h0M256.5 395.6h0M289.3 429.2h0M248.9 416.9h0M252.2 420.3h0M264.7 349.0h0M265.4 378.8h0M275.5 413.4h0M273.1 405.6h0" stroke="#c87080" stroke-width="1.2" stroke-linecap="round" stroke-opacity="0.4" fill="none"/>
<path d="M272.5 426.7h0M242.9 357.6h0M227.5 375.1h0M288.7 370.7h0M266.2 405.7h0M254.3 399.2h0M231.3 386.5h0M287.1 391.6h0M212.5 420.9h0M256.8 420.4h0" stroke="#c87080" stroke-width="1.2" stroke-linecap="round" stroke-opacity="0.5" fill="none"/>
<path d="M290.0 393.5h0M214.6 408.5h0M287.4 418.1h0M273.5 400.2h0M234.9 421.2h0M222.0 392.1h0M267.1 411.0h0M234.6 405.7h0M219.3 397.8h0M235.7 381.4h0M282.0 376.0h0M266.6 383.2h0M220.7 391.9h0M252.8 358.1h0M268.9 375.0h0" stroke="#7a5a78" stroke-width="0.8" stroke-linecap="round" stroke-opacity="0.2" fill="none"/>
<path d="M247.0 393.2h0M280.2 401.4h0M244.5 367.6h0M276.5 422.3h0M263.7 411.5h0M283.6 395.2h0M276.5 417.2h0M241.1 416.8h0M282.7 383.9h0M226.8 423.7h0M213.2 421.4h0M264.1 401.2h0M246.4 423.1h0M271.0 366.6h0M273.8 363.1h0M250.5 406.4h0M234.8 373.7h0M255.5 397.8h0M233.2 396.6h0M277.8 419.5h0M249.0 353.9h0M262.3 374.8h0M241.7 401.1h0M210.2 426.0h0M271.1 387.8h0" stroke="#7a5a78" stroke-width="0.8" stroke-linecap="round" stroke-opacity="0.3" fill="none"/>
<path d="M237.1 429.8h0M232.4 394.2h0M249.9 387.5h0M265.1 401.5h0M263.1 360.2h0M260.3 406.9h0M268.3 410.6h0M235.9 372.0h0M224.1 382.6h0M261.2 401.5h0M217.0 428.9h0M226.2 392.8h0M218.7 400.2h0M239.6 368.7h0M251.1 377.9h0M290.1 373.4h0M243.8 422.5h0M257.6 383.7h0M249.5 401.6h0M254.9 394.9h0M252.8 352.5h0M242.8 418.9h0M264.0 429.4h0" stroke="#7a5a78" stroke-width="0.8" stroke-linecap="round" stroke-opacity="0.4" fill="none"/>
<path d="M264.4 420.4h0M240.7 428.2h0M268.6 379.8h0M229.4 403.6h0M234.1 366.0h0M276.6 369.4h0M276.2 401.6h0M256.8 418.5h0M275.4 362.3h0M230.3 384.2h0M266.1 388.8h0M242.1 411.1h0M254.0 428.9h0M245.2 368.6h0M268.2 369.0h0M225.5 388.9h0M249.6 413.2h0M273.0 379.3h0M232.0 426.2h0M256.9 370.1h0M234.8 369.2h0M268.3 393.4h0M248.7 360.4h0M275.1 426.7h0" stroke="#7a5a78" stroke-width="0.8" stroke-linecap="round" stroke-opacity="0.5" fill="none"/>
<path d="M260.6 393.4h0M259.0 398.0h0M286.1 384.2h0M246.7 390.1h0M238.0 374.3h0M271.0 370.6h0M244.6 358.9h0M271.0 394.8h0M270.0 365.8h0M239.7 423.7h0M276.8 429.3h0M252.6 412.1h0M256.8 418.9h0M221.5 389.4h0M282.9 426.7h0M256.9 404.9h0M233.6 373.0h0M258.6 357.6h0" stroke="#7a5a78" stroke-width="0.8" stroke-linecap="round" stroke-opacity="0.6" fill="none"/>
<path d="M245.5 395.5h0M248.0 408.7h0M265.7 410.2h0M290.5 398.4h0M227.0 422.9h0M232.2 374.6h0M240.0 376.7h0M260.2 391.0h0M255.0 390.0h0M268.5 425.3h0M256.3 354.3h0M288.2 410.9h0M241.4 351.0h0M249.7 422.8h0M269.1 389.9h0M274.0 357.0h0M235.6 403.5h0M282.0 422.0h0M273.5 396.0h0M234.5 388.9h0M284.5 412.3h0M224.2 391.0h0" stroke="#7a5a78" stroke-width="1.0" stroke-linecap="round" stroke-opacity="0.2" fill="none"/>
<path d="M259.5 352.1h0M281.7 387.1h0M276.0 423.5h0M262.8 407.7h0M226.1 417.9h0M213.1 413.5h0M233.6 428.2h0M224.1 427.2h0M289.1 393.2h0M224.6 379.8h0M264.2 414.6h0M263.8 395.8h0M237.2 424.0h0M257.8 348.8h0M252.9 400.1h0M236.0 411.0h0M280.1 418.0h0M247.6 370.5h0M267.6 392.9h0M263.2 406.7h0M247.1 356.1h0M243.6 398.8h0M259.7 348.7h0M283.9 377.5h0M271.8 419.0h0M236.3 412.1h0M242.8 417.8h0M283.2 375.7h0M234.3 403.2h0M250.1 413.9h0M247.4 410.4h0M262.0 355.6h0" stroke="#7a5a78" stroke-width="1.0" stroke-linecap="round" stroke-opacity="0.3" fill="none"/>
<path d="M260.6 391.7h0M254.1 360.9h0M279.8 392.5h0M271.7 371.2h0M277.9 369.7h0M283.1 403.8h0M274.5 381.4h0M252.5 413.6h0M229.1 386.6h0M236.1 405.6h0M265.4 418.4h0M241.4 370.5h0M272.2 365.5h0M240.4 425.8h0M280.1 417.2h0M253.4 367.4h0M249.8 356.7h0M286.0 393.3h0M259.2 425.5h0M245.0 426.9h0M251.8 384.9h0M254.5 343.4h0M281.9 422.2h0M212.1 427.7h0M210.8 424.7h0M251.8 358.5h0M235.5 402.1h0M225.5 403.0h0M248.9 379.9h0M289.0 365.5h0" stroke="#7a5a78" stroke-width="1.0" stroke-linecap="round" stroke-opacity="0.4" fill="none"/>
<path d="M235.2 401.2h0M221.8 390.0h0M245.8 401.8h0M218.8 402.0h0M286.9 425.7h0M245.2 346.4h0M224.1 395.6h0M277.7 412.7h0M274.4 403.9h0M237.8 383.0h0M213.5 412.6h0M246.0 355.3h0M287.4 365.4h0M237.0 388.7h0M225.9 421.7h0M221.4 417.3h0M230.9 427.8h0M220.9 413.9h0M232.1 376.0h0M238.7 418.8h0M271.0 358.5h0M243.1 366.9h0M276.4 368.9h0M273.2 391.1h0M261.1 421.8h0M248.1 366.8h0M280.6 388.5h0M234.7 376.6h0M254.8 397.9h0M236.7 426.9h0M281.3 362.9h0M282.9 424.6h0M242.8 419.5h0" stroke="#7a5a78" stroke-width="1.0" stroke-linecap="round" stroke-opacity="0.5" fill="none"/>
<path d="M234.4 361.8h0M236.7 378.8h0M260.2 349.4h0M271.4 413.9h0M276.8 408.0h0M262.2 347.7h0M256.2 388.7h0M247.0 350.4h0M227.8 403.1h0M265.1 421.4h0M280.4 369.2h0M246.5 370.8h0M257.0 424.1h0M233.7 382.0h0M240.8 353.4h0M254.8 377.5h0M283.3 430.0h0M227.3 382.0h0M233.0 390.8h0" stroke="#7a5a78" stroke-width="1.0" stroke-linecap="round" stroke-opacity="0.6" fill="none"/>
<path d="M241.7 414.4h0M272.8 409.8h0M257.3 373.0h0M247.8 409.5h0M239.8 383.0h0M259.3 421.8h0M219.6 395.5h0" stroke="#7a5a78" stroke-width="1.2" stroke-linecap="round" stroke-opacity="0.2" fill="none"/>
<path d="M275.2 386.7h0M279.5 371.2h0M261.4 400.7h0M258.7 375.7h0M280.7 391.7h0M244.5 412.6h0M217.9 429.2h0M280.0 388.2h0M257.7 428.6h0M287.4 364.6h0M230.1 396.9h0M254.1 352.5h0" stroke="#7a5a78" stroke-width="1.2" stroke-linecap="round" stroke-opacity="0.3" fill="none"/>
<path d="M286.1 405.2h0M266.5 423.9h0M230.7 420.4h0M260.9 374.2h0M217.7 429.1h0M245.2 412.1h0M232.4 369.6h0M253.1 374.7h0M233.7 397.8h0M279.5 360.0h0M276.4 428.7h0M283.7 377.7h0M264.4 350.5h0M244.4 371.0h0M267.0 370.4h0M222.9 423.2h0M275.5 410.7h0M273.4 421.0h0M278.5 426.9h0M246.7 349.7h0" stroke="#7a5a78" stroke-width="1.2" stroke-linecap="round" stroke-opacity="0.4" fill="none"/>
<path d="M216.0 423.9h0M275.1 361.6h0M238.9 368.5h0M281.5 412.9h0M243.7 427.4h0M228.4 388.7h0M276.2 368.3h0M274.5 429.1h0M258.6 424.5h0M252.1 370.4h0" stroke="#7a5a78" stroke-width="1.2" stroke-linecap="round" stroke-opacity="0.5" fill="none"/>
<path d="M214.3 421.8h0M236.3 408.7h0M289.4 422.3h0M273.0 369.4h0M249.2 349.7h0M271.9 388.0h0M283.5 428.2h0M253.3 349.3h0M233.8 421.1h0M272.1 354.4h0" stroke="#7a5a78" stroke-width="1.2" stroke-linecap="round" stroke-opacity="0.6" fill="none"/>
<path d="M226.9 401.3h0M243.1 375.5h0M215.5 421.2h0M246.1 365.0h0M250.1 357.7h0" stroke="#bc4a5e" stroke-width="0.8" stroke-linecap="round" stroke-opacity="0.4" fill="none"/>
<path d="M229.6 386.9h0M228.6 373.6h0M232.6 367.0h0M220.0 424.7h0M215.9 424.0h0M209.7 427.0h0M247.1 353.5h0" stroke="#bc4a5e" stroke-width="0.8" stroke-linecap="round" stroke-opacity="0.5" fill="none"/>
<path d="M224.6 384.5h0M241.4 356.1h0M243.1 364.9h0M236.2 374.5h0M234.5 396.7h0M241.6 377.5h0M228.0 373.4h0M228.2 401.3h0M218.5 402.1h0M232.0 369.0h0M217.9 424.0h0M242.5 364.8h0M231.4 390.5h0M228.0 411.9h0M244.4 350.1h0M245.0 363.1h0M245.9 362.1h0M222.8 421.3h0M230.6 383.1h0M245.4 350.3h0M251.0 344.2h0M231.8 386.0h0M220.4 416.5h0" stroke="#bc4a5e" stroke-width="0.8" stroke-linecap="round" stroke-opacity="0.6" fill="none"/>
<path d="M229.0 372.7h0M248.6 352.1h0M233.7 368.4h0M221.7 423.4h0M216.7 405.1h0M235.7 390.0h0M223.9 413.7h0M212.9 416.6h0M229.5 408.6h0M224.0 408.2h0" stroke="#bc4a5e" stroke-width="0.8" stroke-linecap="round" stroke-opacity="0.7" fill="none"/>
<path d="M229.6 399.1h0M243.4 364.9h0M231.4 381.2h0M238.7 356.7h0M231.1 375.5h0M245.5 365.8h0M227.2 411.9h0M214.6 412.6h0M251.1 348.9h0M220.5 401.4h0" stroke="#bc4a5e" stroke-width="0.8" stroke-linecap="round" stroke-opacity="0.8" fill="none"/>
<path d="M223.8 393.4h0M223.1 389.9h0M223.8 388.1h0M230.8 393.0h0M230.5 388.9h0M247.3 360.1h0M241.4 352.8h0M241.4 351.6h0M229.2 389.2h0M224.7 384.3h0M246.0 348.4h0" stroke="#bc4a5e" stroke-width="1.0" stroke-linecap="round" stroke-opacity="0.4" fill="none"/>
<path d="M228.0 388.4h0M239.4 377.9h0M225.7 401.6h0M245.3 365.3h0M241.8 356.7h0M226.4 408.0h0M236.0 391.7h0M217.2 404.4h0M232.5 377.7h0M227.9 387.7h0M248.9 353.3h0M243.4 367.6h0M245.6 364.7h0M221.0 423.3h0M237.8 358.1h0M247.2 364.0h0M231.4 377.2h0M248.1 361.0h0M223.3 409.6h0M224.7 405.7h0M215.5 407.4h0M216.3 404.6h0M220.8 404.6h0" stroke="#bc4a5e" stroke-width="1.0" stroke-linecap="round" stroke-opacity="0.5" fill="none"/>
<path d="M232.9 365.6h0M224.2 396.0h0M229.0 373.8h0M237.5 371.8h0M249.2 344.5h0M233.3 395.7h0M242.5 369.0h0M239.9 363.8h0M219.3 417.9h0M235.2 389.9h0M236.8 386.1h0M240.8 366.9h0M247.7 358.2h0M230.7 409.1h0M225.6 424.2h0M226.2 410.8h0M221.0 425.9h0M218.7 426.5h0M222.3 410.9h0M238.8 357.4h0M225.7 413.2h0" stroke="#bc4a5e" stroke-width="1.0" stroke-linecap="round" stroke-opacity="0.6" fill="none"/>
<path d="M223.4 411.2h0M214.1 414.4h0M240.4 372.8h0M240.8 370.5h0M223.7 391.3h0M234.6 363.7h0M254.1 350.4h0M223.7 385.1h0M230.0 389.5h0M227.8 392.4h0M220.6 406.0h0M232.3 372.9h0M246.5 349.2h0M216.9 420.4h0M248.9 361.0h0M212.3 422.0h0M224.4 412.5h0M214.8 410.6h0M240.7 372.4h0" stroke="#bc4a5e" stroke-width="1.0" stroke-linecap="round" stroke-opacity="0.7" fill="none"/>
<path d="M224.8 403.6h0M237.7 361.6h0M241.3 369.6h0M226.3 400.4h0M241.7 358.0h0M236.3 391.2h0M216.1 424.6h0M236.0 387.9h0M239.3 367.9h0M214.1 422.2h0M232.0 373.1h0M245.9 348.4h0M246.4 360.5h0M217.7 409.6h0M239.0 354.7h0M226.2 422.0h0M219.1 427.5h0M222.2 386.8h0M249.4 362.5h0M245.7 350.0h0M247.9 348.6h0M221.2 423.7h0M221.2 421.7h0M224.6 405.2h0M229.6 371.7h0M238.9 376.7h0M242.3 373.4h0M222.3 409.6h0M218.3 404.3h0" stroke="#bc4a5e" stroke-width="1.0" stroke-linecap="round" stroke-opacity="0.8" fill="none"/>
<path d="M245.9 350.5h0M244.1 367.1h0M229.5 398.7h0M220.3 424.8h0M219.2 402.0h0M232.0 403.4h0M225.7 408.8h0M234.5 364.9h0M238.0 368.5h0M250.3 356.7h0M216.3 406.3h0M232.4 371.5h0M229.9 387.0h0M244.0 354.6h0M249.4 351.9h0M225.5 421.0h0M222.7 422.9h0M249.2 358.0h0M250.7 356.1h0M212.7 424.3h0M224.3 407.6h0M229.9 370.6h0M249.0 355.0h0M247.3 352.6h0M232.6 384.8h0" stroke="#bc4a5e" stroke-width="1.2" stroke-linecap="round" stroke-opacity="0.4" fill="none"/>
<path d="M232.8 370.1h0M239.2 381.4h0M230.1 408.6h0M217.5 401.9h0M251.5 357.5h0M253.5 354.4h0M230.5 394.1h0M215.4 409.3h0M232.8 373.6h0M229.3 391.5h0M222.2 425.3h0M226.4 382.3h0M241.4 351.7h0M234.6 370.2h0M242.1 369.6h0M243.2 351.4h0M245.6 351.3h0" stroke="#bc4a5e" stroke-width="1.2" stroke-linecap="round" stroke-opacity="0.5" fill="none"/>
<path d="M222.3 391.3h0M223.2 388.3h0M225.7 390.9h0M251.5 349.0h0M216.5 412.2h0M239.8 374.6h0M234.5 395.8h0M239.7 361.0h0M233.1 367.8h0M224.7 409.3h0M224.5 385.9h0M231.4 392.6h0M230.7 386.7h0M230.8 408.4h0M249.3 358.8h0M218.7 407.8h0M228.0 389.2h0M231.8 386.0h0M233.6 380.9h0M224.3 384.7h0M243.9 366.3h0M214.5 427.9h0M247.5 361.3h0M229.7 407.1h0M225.4 406.3h0M249.9 351.2h0M221.4 415.0h0" stroke="#bc4a5e" stroke-width="1.2" stroke-linecap="round" stroke-opacity="0.6" fill="none"/>
<path d="M234.4 364.1h0M235.8 363.5h0M226.9 377.4h0M242.9 366.4h0M249.1 350.7h0M242.0 365.3h0M229.0 409.1h0M244.5 367.0h0M252.5 356.2h0M224.9 384.3h0M212.4 425.4h0M230.0 410.8h0M249.1 354.4h0M219.1 407.7h0M239.2 356.4h0M239.3 356.2h0M224.2 411.0h0M228.0 395.5h0M240.8 354.2h0M246.7 364.5h0M228.4 410.7h0M236.8 359.3h0" stroke="#bc4a5e" stroke-width="1.2" stroke-linecap="round" stroke-opacity="0.7" fill="none"/>
<path d="M224.7 385.9h0M225.3 395.4h0M245.2 361.1h0M230.9 408.8h0M235.7 393.5h0M235.6 364.5h0M219.1 420.8h0M214.6 410.4h0M229.3 386.6h0M229.8 389.6h0M246.2 349.9h0M224.0 413.5h0M222.0 423.3h0M225.2 383.9h0M219.0 427.7h0M215.9 425.0h0M248.1 360.2h0M210.8 425.4h0M222.4 413.1h0M250.3 347.1h0M210.9 426.5h0M225.7 415.3h0M239.5 375.2h0" stroke="#bc4a5e" stroke-width="1.2" stroke-linecap="round" stroke-opacity="0.8" fill="none"/>
<path d="M230.3 399.1h0M228.5 391.2h0M239.8 377.7h0M241.9 376.3h0M244.2 352.3h0M224.1 404.0h0M223.8 403.8h0M227.0 390.1h0M224.7 412.2h0M223.2 408.3h0M220.1 405.2h0" stroke="#bc4a5e" stroke-width="1.4" stroke-linecap="round" stroke-opacity="0.4" fill="none"/>
<path d="M223.6 386.8h0M226.2 391.3h0M225.4 402.2h0M238.0 361.9h0M239.9 368.1h0M235.4 367.0h0M235.7 363.2h0M227.4 396.3h0M214.0 412.8h0M214.0 412.1h0M226.5 412.9h0M250.3 351.4h0M248.1 358.5h0M222.5 385.9h0M221.5 409.0h0M213.0 413.7h0M243.3 367.9h0M233.2 373.4h0M246.1 352.6h0M248.5 359.2h0M251.6 344.5h0" stroke="#bc4a5e" stroke-width="1.4" stroke-linecap="round" stroke-opacity="0.5" fill="none"/>
<path d="M243.6 354.7h0M227.3 374.7h0M247.8 347.6h0M240.2 371.6h0M223.1 406.2h0M231.1 391.9h0M222.8 419.7h0M223.7 410.6h0M253.2 352.7h0M252.1 345.0h0M220.3 416.4h0M234.8 394.4h0M244.7 367.0h0M250.9 356.5h0M244.0 367.1h0M248.7 356.6h0M224.9 391.0h0M231.2 386.5h0M227.0 381.9h0M221.5 424.6h0M234.1 371.6h0M232.8 375.5h0M212.8 421.3h0M243.7 371.9h0M215.8 408.9h0M240.5 375.3h0" stroke="#bc4a5e" stroke-width="1.4" stroke-linecap="round" stroke-opacity="0.6" fill="none"/>
<path d="M232.6 368.2h0M227.5 378.8h0M245.0 362.5h0M238.8 370.8h0M221.7 402.0h0M232.9 370.8h0M225.0 390.0h0M226.6 388.6h0M230.9 391.5h0M221.1 421.5h0M217.9 403.5h0M254.9 348.8h0M234.1 366.3h0M235.2 392.6h0M242.8 370.3h0M244.0 367.5h0M250.7 354.7h0M215.2 408.5h0M245.1 350.0h0M247.7 358.2h0M216.1 411.1h0M225.3 412.4h0M220.2 426.6h0M218.8 415.7h0M220.6 410.6h0M213.5 415.6h0M213.9 411.4h0M225.4 398.4h0M226.7 396.7h0M215.3 426.4h0M246.3 363.0h0M225.1 416.8h0M239.7 375.1h0M221.8 411.8h0" stroke="#bc4a5e" stroke-width="1.4" stroke-linecap="round" stroke-opacity="0.7" fill="none"/>
<path d="M228.2 399.2h0M224.1 409.8h0M223.5 405.2h0M235.9 365.3h0M231.8 404.4h0M226.6 388.9h0M228.1 384.9h0M252.0 344.7h0M218.8 421.5h0M227.1 389.7h0M227.3 396.2h0M229.8 391.0h0M243.6 367.6h0M249.1 354.1h0M240.4 354.8h0M242.7 350.5h0M221.9 407.9h0M226.6 408.2h0M217.0 428.9h0M227.9 380.4h0M219.1 428.7h0M231.2 385.7h0M252.3 344.2h0M248.5 343.5h0M249.1 351.8h0M228.4 408.8h0M239.8 355.6h0" stroke="#bc4a5e" stroke-width="1.4" stroke-linecap="round" stroke-opacity="0.8" fill="none"/>
<polygon points="300.0,316.0 346.0,316.0 346.0,372.0 300.0,372.0 306.0,352.0 302.0,334.0" fill="#f0dae2" opacity="0.5" filter="url(#blur2)"/>
<path d="M338.3 361.7h0M319.6 365.7h0M326.3 348.0h0M327.1 344.7h0M331.5 360.7h0M312.9 346.1h0M345.5 322.7h0M317.3 351.9h0" stroke="#b84e64" stroke-width="0.8" stroke-linecap="round" stroke-opacity="0.3" fill="none"/>
<path d="M305.1 319.6h0M329.0 365.3h0M344.6 346.4h0M343.5 331.2h0M324.4 335.9h0M310.7 322.9h0M316.3 342.0h0M311.0 343.7h0M316.3 337.3h0M314.9 332.2h0" stroke="#b84e64" stroke-width="0.8" stroke-linecap="round" stroke-opacity="0.4" fill="none"/>
<path d="M330.3 329.0h0M338.7 341.1h0M328.7 351.7h0M323.4 324.9h0M324.0 346.6h0M313.8 336.6h0M325.4 332.9h0M340.3 355.8h0M342.2 351.9h0M339.6 327.7h0M318.0 347.5h0M301.5 367.7h0" stroke="#b84e64" stroke-width="0.8" stroke-linecap="round" stroke-opacity="0.5" fill="none"/>
<path d="M335.7 349.2h0M315.8 336.5h0M343.5 332.7h0M303.4 329.3h0M322.4 329.5h0M310.5 365.6h0M312.6 339.5h0M314.1 333.3h0M341.3 348.6h0M327.3 332.7h0M330.1 339.6h0M308.5 360.3h0M345.1 362.8h0M339.5 326.3h0" stroke="#b84e64" stroke-width="0.8" stroke-linecap="round" stroke-opacity="0.6" fill="none"/>
<path d="M344.7 351.5h0M344.3 323.8h0M327.3 330.1h0M306.7 366.0h0M341.7 332.4h0M340.7 357.2h0M332.8 336.3h0M303.6 363.6h0M311.0 342.3h0M306.4 329.2h0M314.4 359.3h0M311.1 349.6h0M314.2 343.2h0M309.9 343.4h0M330.1 328.0h0M337.7 369.3h0M335.7 361.2h0M307.7 321.9h0M309.4 356.4h0M324.2 336.3h0M324.7 355.0h0M325.5 354.1h0M301.1 369.5h0" stroke="#b84e64" stroke-width="0.8" stroke-linecap="round" stroke-opacity="0.7" fill="none"/>
<path d="M329.1 328.0h0M320.9 331.1h0M326.2 355.5h0M328.7 363.0h0M324.1 334.2h0M330.8 364.9h0M311.9 321.0h0M340.8 359.8h0M337.2 336.0h0M338.3 351.3h0M345.3 360.7h0M320.8 324.2h0M336.4 348.7h0M328.6 353.9h0" stroke="#b84e64" stroke-width="1.0" stroke-linecap="round" stroke-opacity="0.3" fill="none"/>
<path d="M339.3 326.9h0M339.3 339.6h0M319.6 367.8h0M322.3 339.2h0M323.4 349.2h0M306.9 327.4h0M311.7 356.3h0M313.3 336.6h0M328.1 347.6h0M328.1 370.9h0M328.3 369.2h0M342.7 346.0h0M326.4 334.9h0M317.2 338.2h0M314.9 325.4h0M301.1 317.1h0M339.4 350.1h0M324.6 348.5h0M337.1 370.3h0M333.5 350.5h0M334.1 352.1h0M310.2 339.8h0M309.7 362.8h0M321.0 332.7h0M339.7 321.2h0M306.3 363.0h0" stroke="#b84e64" stroke-width="1.0" stroke-linecap="round" stroke-opacity="0.4" fill="none"/>
<path d="M310.4 328.2h0M337.7 341.6h0M338.8 356.0h0M328.1 361.7h0M321.3 321.4h0M329.3 328.7h0M322.7 340.1h0M329.0 361.5h0M344.9 328.7h0M340.8 347.3h0M343.5 355.6h0M345.8 352.7h0M304.2 360.0h0M345.8 325.8h0M317.9 344.7h0M317.2 343.8h0M345.1 316.5h0M336.2 346.5h0M343.2 355.6h0M310.5 357.6h0M322.6 328.9h0M332.7 369.7h0M332.0 336.4h0M330.4 349.4h0" stroke="#b84e64" stroke-width="1.0" stroke-linecap="round" stroke-opacity="0.5" fill="none"/>
<path d="M333.9 343.2h0M319.9 366.8h0M328.8 359.8h0M321.3 329.3h0M321.9 327.4h0M322.5 320.0h0M341.2 364.6h0M312.7 354.1h0M328.6 358.8h0M308.2 357.3h0M332.7 341.3h0M332.2 341.4h0M331.4 362.6h0M345.1 327.5h0M330.0 323.5h0M318.8 337.0h0M303.2 365.2h0M305.8 357.2h0M330.5 359.9h0M311.0 340.3h0M303.7 333.4h0M305.8 342.1h0M306.9 339.6h0M337.4 337.5h0M340.0 332.4h0M307.5 329.0h0M329.7 329.2h0M321.6 327.6h0M322.4 325.9h0M337.8 367.4h0M339.7 362.1h0M343.8 319.6h0M328.8 360.4h0M307.3 342.1h0M308.2 320.2h0M308.8 318.2h0M339.3 329.1h0M340.5 323.1h0" stroke="#b84e64" stroke-width="1.0" stroke-linecap="round" stroke-opacity="0.6" fill="none"/>
<path d="M314.6 341.9h0M336.2 344.4h0M344.2 354.1h0M344.0 352.2h0M302.2 331.6h0M323.6 325.3h0M328.9 342.7h0M312.0 349.6h0M309.1 355.1h0M338.5 329.4h0M327.5 330.8h0M338.7 328.3h0M301.4 370.2h0M331.4 338.0h0M345.4 342.0h0M327.9 346.1h0M309.4 345.8h0M329.1 330.7h0M334.0 350.8h0M338.1 366.5h0M332.1 337.3h0M322.4 321.7h0" stroke="#b84e64" stroke-width="1.0" stroke-linecap="round" stroke-opacity="0.7" fill="none"/>
<path d="M340.9 362.3h0M320.0 370.9h0M328.9 366.6h0M336.1 316.8h0M310.9 350.7h0M317.5 337.2h0M327.3 334.1h0M306.6 365.4h0" stroke="#b84e64" stroke-width="1.2" stroke-linecap="round" stroke-opacity="0.3" fill="none"/>
<path d="M335.8 353.6h0M331.2 324.8h0M312.4 325.7h0M330.2 330.4h0M333.8 341.0h0M301.2 325.3h0M303.6 323.4h0M341.5 370.3h0M321.7 329.8h0M325.8 357.2h0M306.4 328.8h0M302.4 365.4h0M327.9 348.8h0M334.4 339.1h0M342.6 346.7h0M329.7 322.3h0M340.2 353.0h0M340.3 359.2h0M344.3 328.0h0M306.4 330.2h0M309.0 346.6h0M307.5 333.9h0M338.0 364.2h0M324.3 368.2h0M336.5 344.9h0M342.3 364.8h0M323.2 338.9h0M317.7 344.9h0M331.9 370.5h0M330.1 351.7h0M305.9 361.2h0" stroke="#b84e64" stroke-width="1.2" stroke-linecap="round" stroke-opacity="0.4" fill="none"/>
<path d="M311.1 327.5h0M329.1 330.6h0M330.2 323.6h0M343.9 325.5h0M342.1 363.0h0M324.5 346.1h0M302.2 366.7h0M328.9 357.5h0M310.2 363.6h0M328.3 352.5h0M332.2 340.0h0M342.3 349.2h0M345.2 343.0h0M310.3 324.2h0M312.4 320.1h0M338.5 326.4h0M344.7 353.6h0M331.5 360.6h0M328.4 342.2h0M330.3 336.5h0M337.6 334.9h0M318.1 341.4h0M340.7 347.7h0M342.0 321.2h0M330.3 357.7h0M335.6 347.7h0M311.1 318.5h0M306.4 323.0h0M325.3 333.6h0M306.5 366.4h0" stroke="#b84e64" stroke-width="1.2" stroke-linecap="round" stroke-opacity="0.5" fill="none"/>
<path d="M309.3 330.0h0M314.4 339.9h0M332.9 345.0h0M303.6 322.4h0M341.1 338.1h0M345.8 324.2h0M321.1 325.2h0M322.3 324.1h0M330.2 349.7h0M311.5 368.7h0M311.6 365.9h0M343.9 349.9h0M324.2 334.8h0M341.1 368.5h0M328.6 351.7h0M333.9 341.4h0M343.1 356.9h0M328.8 366.0h0M330.2 362.9h0M304.8 331.5h0M313.6 361.4h0M327.5 332.8h0M307.4 332.3h0M323.0 330.6h0M338.1 364.3h0M324.9 365.1h0M335.7 348.9h0M310.4 317.1h0M309.5 341.0h0M345.3 324.4h0M344.9 352.2h0M344.1 363.0h0M318.0 346.1h0M328.8 316.8h0M336.1 351.5h0" stroke="#b84e64" stroke-width="1.2" stroke-linecap="round" stroke-opacity="0.6" fill="none"/>
<path d="M329.4 329.0h0M331.9 324.3h0M315.0 337.5h0M306.5 317.4h0M338.7 361.6h0M311.7 371.6h0M343.5 326.8h0M325.1 343.5h0M330.8 338.9h0M312.9 353.5h0M329.6 368.5h0M332.3 338.4h0M326.0 332.2h0M308.0 363.1h0M345.9 340.1h0M317.4 339.1h0M303.4 366.5h0M341.1 345.1h0M340.9 358.7h0M341.4 357.7h0M307.0 340.4h0M307.5 336.2h0M338.1 333.1h0M315.8 327.3h0M322.8 332.7h0M332.7 351.4h0M326.1 362.8h0M328.7 361.8h0M316.6 340.3h0M308.4 319.8h0" stroke="#b84e64" stroke-width="1.2" stroke-linecap="round" stroke-opacity="0.7" fill="none"/>
<path d="M335.5 352.1h0M333.4 344.8h0M305.7 331.2h0M328.8 339.1h0" stroke="#b84e64" stroke-width="1.4" stroke-linecap="round" stroke-opacity="0.3" fill="none"/>
<path d="M338.7 358.1h0M343.5 328.6h0M327.1 329.7h0M345.5 353.7h0M342.2 353.5h0M314.2 342.5h0M331.9 352.9h0M331.4 316.0h0M309.7 319.8h0M309.1 364.4h0M312.9 333.2h0M324.0 335.5h0M317.5 351.1h0M328.7 317.4h0M333.0 333.1h0M336.1 345.5h0M305.7 358.9h0" stroke="#b84e64" stroke-width="1.4" stroke-linecap="round" stroke-opacity="0.4" fill="none"/>
<path d="M337.7 316.3h0M329.2 362.4h0M329.8 330.4h0M341.4 364.4h0M307.4 359.5h0M313.5 340.9h0M331.7 363.5h0M302.4 367.8h0M335.3 340.9h0M336.2 369.2h0M309.2 317.0h0M326.6 351.8h0" stroke="#b84e64" stroke-width="1.4" stroke-linecap="round" stroke-opacity="0.5" fill="none"/>
<path d="M312.2 324.1h0M330.2 326.9h0M312.5 370.7h0M343.7 329.9h0M333.2 332.9h0M341.1 355.6h0M328.2 344.6h0M312.5 345.1h0M305.6 335.7h0M331.7 317.5h0M332.0 335.8h0" stroke="#b84e64" stroke-width="1.4" stroke-linecap="round" stroke-opacity="0.6" fill="none"/>
<path d="M331.0 326.6h0M304.8 319.8h0M329.5 366.5h0M329.4 344.1h0M330.2 355.1h0M328.3 345.9h0M308.1 364.6h0M305.4 358.2h0M304.8 358.7h0M301.5 316.1h0M337.3 365.6h0M338.7 366.5h0M316.8 339.2h0M312.9 333.5h0M336.6 347.4h0M337.5 342.9h0M306.5 357.8h0" stroke="#b84e64" stroke-width="1.4" stroke-linecap="round" stroke-opacity="0.7" fill="none"/>
<path d="M342.8 341.4h0M332.1 336.2h0M315.1 316.3h0M336.2 320.4h0" stroke="#c86a7a" stroke-width="0.8" stroke-linecap="round" stroke-opacity="0.2" fill="none"/>
<path d="M336.7 330.9h0M323.8 331.1h0M310.5 330.1h0M312.4 335.0h0M345.2 368.5h0M317.3 370.1h0M338.7 338.0h0M341.1 364.6h0M314.5 331.5h0M331.9 349.0h0M325.5 324.8h0M331.6 362.8h0M341.2 355.3h0M307.5 360.8h0M340.5 368.5h0M310.3 360.8h0" stroke="#c86a7a" stroke-width="0.8" stroke-linecap="round" stroke-opacity="0.3" fill="none"/>
<path d="M311.1 353.9h0M331.0 350.8h0M341.9 330.9h0M345.9 349.3h0M340.4 316.9h0M311.0 350.5h0M329.2 364.5h0M337.4 344.5h0M343.3 332.5h0M338.2 323.1h0M334.6 354.2h0M341.3 318.2h0M322.9 344.5h0M307.5 363.0h0M323.5 367.2h0M330.1 350.8h0M303.2 322.5h0M307.2 367.2h0M321.6 338.2h0M329.9 352.1h0M321.0 317.6h0" stroke="#c86a7a" stroke-width="0.8" stroke-linecap="round" stroke-opacity="0.4" fill="none"/>
<path d="M327.7 371.2h0M323.6 318.9h0M333.3 338.7h0M338.8 330.4h0M326.7 327.4h0M328.5 328.9h0M333.5 331.4h0M332.2 321.3h0M307.9 356.7h0M307.8 329.5h0M334.4 360.6h0M319.7 365.1h0M332.2 360.5h0M337.6 355.0h0M325.2 338.4h0M330.6 356.7h0" stroke="#c86a7a" stroke-width="0.8" stroke-linecap="round" stroke-opacity="0.5" fill="none"/>
<path d="M328.8 332.0h0M327.7 365.3h0M327.3 320.7h0M310.6 319.9h0M311.4 368.8h0M309.7 336.9h0" stroke="#c86a7a" stroke-width="1.0" stroke-linecap="round" stroke-opacity="0.2" fill="none"/>
<path d="M344.5 320.5h0M333.7 344.5h0M325.5 348.7h0M323.0 367.9h0M306.7 352.6h0M307.0 317.4h0M332.3 356.6h0M308.2 346.9h0M330.0 349.2h0M326.5 367.5h0M318.0 333.6h0M307.1 340.3h0M332.6 337.0h0M345.5 341.9h0M303.4 330.0h0M319.8 354.9h0M332.3 355.0h0M329.7 346.2h0M339.5 353.9h0M334.3 368.9h0" stroke="#c86a7a" stroke-width="1.0" stroke-linecap="round" stroke-opacity="0.3" fill="none"/>
<path d="M338.2 319.8h0M333.7 325.4h0M344.2 353.1h0M335.9 335.2h0M310.6 358.3h0M343.9 357.1h0M306.1 366.2h0M321.8 356.2h0M312.1 363.6h0M342.8 329.3h0M308.8 337.8h0M305.8 326.0h0M337.8 333.2h0M322.5 333.4h0M314.6 365.0h0M343.8 343.1h0M317.9 352.3h0M326.2 325.7h0M345.2 350.2h0M309.1 362.5h0M335.9 330.3h0M333.4 341.6h0" stroke="#c86a7a" stroke-width="1.0" stroke-linecap="round" stroke-opacity="0.4" fill="none"/>
<path d="M304.9 321.4h0M314.4 360.5h0M342.6 322.3h0M304.8 332.3h0M336.3 349.1h0M331.0 362.5h0M316.2 327.2h0M338.4 344.5h0M305.0 363.8h0M323.8 361.9h0M312.7 357.9h0M329.7 318.1h0M335.7 352.6h0M323.6 360.9h0M313.2 342.1h0M343.8 355.7h0M316.4 356.8h0" stroke="#c86a7a" stroke-width="1.0" stroke-linecap="round" stroke-opacity="0.5" fill="none"/>
<path d="M306.8 351.1h0M311.0 364.1h0M305.0 357.9h0M307.7 364.4h0M325.4 322.9h0" stroke="#c86a7a" stroke-width="1.2" stroke-linecap="round" stroke-opacity="0.2" fill="none"/>
<path d="M306.7 371.3h0M343.0 344.5h0M340.6 324.2h0M326.0 362.0h0M339.3 357.5h0M324.9 320.1h0M321.5 344.9h0M308.5 348.9h0M318.2 340.3h0M318.6 332.6h0" stroke="#c86a7a" stroke-width="1.2" stroke-linecap="round" stroke-opacity="0.3" fill="none"/>
<path d="M318.2 367.7h0M324.6 341.7h0M326.0 330.0h0M332.6 325.6h0M318.1 335.0h0M307.8 351.2h0M303.5 318.4h0" stroke="#c86a7a" stroke-width="1.2" stroke-linecap="round" stroke-opacity="0.4" fill="none"/>
<path d="M325.0 318.4h0M315.1 347.1h0M320.8 367.0h0M342.2 369.6h0M327.8 318.9h0M337.5 367.3h0" stroke="#c86a7a" stroke-width="1.2" stroke-linecap="round" stroke-opacity="0.5" fill="none"/>
<path d="M338.0 355.5h0M310.7 322.3h0M335.2 352.4h0M341.2 368.8h0M310.9 341.8h0M330.7 329.2h0M318.7 337.4h0M336.8 350.3h0M301.9 369.4h0M302.5 328.9h0" stroke="#7a5a78" stroke-width="0.8" stroke-linecap="round" stroke-opacity="0.2" fill="none"/>
<path d="M345.1 362.3h0M314.9 345.3h0M332.3 332.2h0M312.3 321.3h0M318.7 366.7h0M327.1 322.0h0M321.1 322.5h0M345.7 342.7h0M335.4 350.0h0M316.3 336.8h0M317.6 348.4h0M330.8 340.6h0M318.3 342.4h0" stroke="#7a5a78" stroke-width="0.8" stroke-linecap="round" stroke-opacity="0.3" fill="none"/>
<path d="M338.6 320.2h0M335.2 338.0h0M342.6 361.3h0M321.9 342.1h0M309.6 326.8h0M340.2 356.3h0M310.0 319.7h0M329.5 336.0h0M310.1 358.8h0M305.0 332.4h0M303.5 317.8h0M333.0 360.5h0" stroke="#7a5a78" stroke-width="0.8" stroke-linecap="round" stroke-opacity="0.4" fill="none"/>
<path d="M314.5 366.7h0M313.7 363.2h0M317.3 319.3h0M306.5 337.4h0M309.6 362.2h0M315.4 318.1h0M337.3 350.3h0M342.1 321.0h0M321.6 340.2h0M341.4 353.9h0M324.0 329.9h0M333.2 364.6h0M322.4 336.7h0M332.0 358.7h0M313.1 340.2h0M323.7 363.3h0M337.9 370.7h0M321.7 328.7h0M325.1 364.3h0" stroke="#7a5a78" stroke-width="0.8" stroke-linecap="round" stroke-opacity="0.5" fill="none"/>
<path d="M331.3 340.3h0M343.5 369.9h0M302.2 365.2h0M335.3 323.5h0M339.2 344.6h0M321.0 318.9h0M310.3 357.9h0M308.5 350.8h0M325.1 339.8h0M328.4 344.0h0" stroke="#7a5a78" stroke-width="0.8" stroke-linecap="round" stroke-opacity="0.6" fill="none"/>
<path d="M336.9 339.8h0M335.9 369.0h0M338.8 356.6h0M337.5 361.7h0" stroke="#7a5a78" stroke-width="1.0" stroke-linecap="round" stroke-opacity="0.2" fill="none"/>
<path d="M328.1 316.7h0M337.8 349.1h0M332.8 345.7h0M317.7 344.1h0M316.3 323.6h0M331.2 368.0h0M317.8 364.7h0M330.1 351.3h0M328.4 326.9h0M304.6 370.3h0M343.9 318.2h0M311.3 349.5h0M320.5 326.9h0M314.4 338.4h0" stroke="#7a5a78" stroke-width="1.0" stroke-linecap="round" stroke-opacity="0.3" fill="none"/>
<path d="M333.1 316.9h0M305.7 348.0h0M336.2 363.5h0M344.4 354.2h0M331.4 326.3h0M313.5 349.1h0M307.7 345.0h0M301.4 369.5h0M303.4 371.6h0M304.1 358.8h0M302.7 369.2h0M306.5 346.3h0M311.6 329.1h0M313.3 345.3h0M328.4 322.4h0M320.8 367.4h0M303.4 370.1h0" stroke="#7a5a78" stroke-width="1.0" stroke-linecap="round" stroke-opacity="0.4" fill="none"/>
<path d="M312.1 329.6h0M340.5 319.4h0M306.7 317.4h0M334.1 332.0h0M309.9 366.2h0M334.1 342.6h0M318.7 348.7h0M316.3 352.3h0M332.0 364.5h0M331.9 350.2h0M319.8 345.9h0M307.3 356.1h0M320.3 365.6h0M334.4 324.5h0M327.6 354.1h0M326.5 351.4h0M338.5 356.1h0M329.8 350.6h0" stroke="#7a5a78" stroke-width="1.0" stroke-linecap="round" stroke-opacity="0.5" fill="none"/>
<path d="M306.3 323.6h0M314.3 351.7h0M328.3 337.9h0M304.5 357.4h0" stroke="#7a5a78" stroke-width="1.0" stroke-linecap="round" stroke-opacity="0.6" fill="none"/>
<path d="M316.9 335.1h0M323.7 330.8h0M309.9 329.6h0" stroke="#7a5a78" stroke-width="1.2" stroke-linecap="round" stroke-opacity="0.2" fill="none"/>
<path d="M315.1 341.3h0M302.3 324.3h0M333.3 319.2h0M317.0 359.4h0M306.5 366.1h0M307.0 328.7h0" stroke="#7a5a78" stroke-width="1.2" stroke-linecap="round" stroke-opacity="0.3" fill="none"/>
<path d="M332.3 356.7h0M331.2 355.8h0M338.0 357.3h0M340.3 320.1h0M329.7 324.8h0M320.5 335.5h0M332.4 340.6h0M328.5 353.7h0M340.3 360.1h0" stroke="#7a5a78" stroke-width="1.2" stroke-linecap="round" stroke-opacity="0.4" fill="none"/>
<path d="M322.3 345.1h0M326.5 323.9h0M330.5 338.2h0M344.8 370.0h0M322.1 339.0h0M306.8 325.7h0" stroke="#7a5a78" stroke-width="1.2" stroke-linecap="round" stroke-opacity="0.5" fill="none"/>
<path d="M304.9 336.4h0M308.1 369.1h0M340.4 337.7h0M343.6 359.6h0M311.2 321.8h0" stroke="#7a5a78" stroke-width="1.2" stroke-linecap="round" stroke-opacity="0.6" fill="none"/>
<path d="M291.0 321.8h0M299.8 318.5h0" stroke="#d04058" stroke-width="0.8" stroke-linecap="round" stroke-opacity="0.3" fill="none"/>
<path d="M294.8 326.4h0M267.5 320.7h0M285.6 323.3h0" stroke="#d04058" stroke-width="0.8" stroke-linecap="round" stroke-opacity="0.4" fill="none"/>
<path d="M283.1 325.4h0M277.3 325.1h0M288.7 318.8h0M292.1 324.6h0M295.8 326.7h0M274.5 324.5h0M270.9 324.1h0M275.0 324.3h0M279.7 318.9h0" stroke="#d04058" stroke-width="0.8" stroke-linecap="round" stroke-opacity="0.5" fill="none"/>
<path d="M273.5 322.5h0M290.4 324.5h0M282.1 321.7h0M283.5 322.5h0" stroke="#d04058" stroke-width="1.0" stroke-linecap="round" stroke-opacity="0.3" fill="none"/>
<path d="M276.5 324.2h0M280.1 318.7h0M269.3 320.1h0" stroke="#d04058" stroke-width="1.0" stroke-linecap="round" stroke-opacity="0.4" fill="none"/>
<path d="M271.6 321.6h0M268.6 318.1h0M295.1 320.5h0M282.3 323.1h0" stroke="#d04058" stroke-width="1.0" stroke-linecap="round" stroke-opacity="0.5" fill="none"/>
<path d="M293.2 322.2h0" stroke="#d04058" stroke-width="1.0" stroke-linecap="round" stroke-opacity="0.6" fill="none"/>
<path d="M278.3 323.8h0" stroke="#d04058" stroke-width="1.2" stroke-linecap="round" stroke-opacity="0.3" fill="none"/>
<path d="M284.6 321.0h0" stroke="#d04058" stroke-width="1.2" stroke-linecap="round" stroke-opacity="0.4" fill="none"/>
<path d="M270.7 322.8h0M282.0 325.2h0" stroke="#d04058" stroke-width="1.2" stroke-linecap="round" stroke-opacity="0.5" fill="none"/>
<path d="M254.7 366.8h0M241.8 360.3h0" stroke="#d04058" stroke-width="0.8" stroke-linecap="round" stroke-opacity="0.3" fill="none"/>
<path d="M252.7 370.8h0M257.3 359.8h0M256.9 355.8h0M248.2 368.8h0M258.6 361.7h0" stroke="#d04058" stroke-width="0.8" stroke-linecap="round" stroke-opacity="0.4" fill="none"/>
<path d="M259.6 359.2h0M250.1 363.1h0M251.2 358.2h0M250.0 354.4h0" stroke="#d04058" stroke-width="0.8" stroke-linecap="round" stroke-opacity="0.5" fill="none"/>
<path d="M254.0 352.3h0M256.5 359.6h0M262.3 362.7h0M252.0 350.7h0" stroke="#d04058" stroke-width="0.8" stroke-linecap="round" stroke-opacity="0.6" fill="none"/>
<path d="M243.6 363.3h0M254.4 366.9h0M263.7 367.8h0" stroke="#d04058" stroke-width="0.8" stroke-linecap="round" stroke-opacity="0.7" fill="none"/>
<path d="M249.2 367.7h0" stroke="#d04058" stroke-width="1.0" stroke-linecap="round" stroke-opacity="0.3" fill="none"/>
<path d="M251.5 353.3h0M240.0 352.3h0M260.5 356.8h0M252.0 364.1h0" stroke="#d04058" stroke-width="1.0" stroke-linecap="round" stroke-opacity="0.4" fill="none"/>
<path d="M240.6 368.8h0M260.1 355.4h0M258.9 368.1h0" stroke="#d04058" stroke-width="1.0" stroke-linecap="round" stroke-opacity="0.5" fill="none"/>
<path d="M260.0 357.3h0" stroke="#d04058" stroke-width="1.0" stroke-linecap="round" stroke-opacity="0.6" fill="none"/>
<path d="M244.6 367.2h0" stroke="#d04058" stroke-width="1.2" stroke-linecap="round" stroke-opacity="0.3" fill="none"/>
<path d="M244.7 353.3h0M243.0 352.7h0M257.9 366.8h0" stroke="#d04058" stroke-width="1.2" stroke-linecap="round" stroke-opacity="0.4" fill="none"/>
<path d="M261.5 355.0h0M246.9 359.9h0M250.6 366.1h0M264.8 361.1h0M249.3 366.5h0" stroke="#d04058" stroke-width="1.2" stroke-linecap="round" stroke-opacity="0.6" fill="none"/>
<path d="M248.2 353.3h0M238.7 367.9h0" stroke="#d04058" stroke-width="1.2" stroke-linecap="round" stroke-opacity="0.7" fill="none"/>
<path d="M238.9 362.3h0" stroke="#d04058" stroke-width="1.4" stroke-linecap="round" stroke-opacity="0.4" fill="none"/>
<path d="M255.9 360.6h0" stroke="#d04058" stroke-width="1.4" stroke-linecap="round" stroke-opacity="0.7" fill="none"/>
</g>
<clipPath id="clipTi"><rect x="289.0" y="371.6" width="54.60000000000002" height="53.89999999999998"/></clipPath>
<g clip-path="url(#clipTi)">
<rect x="289.0" y="371.6" width="54.60000000000002" height="53.89999999999998" fill="#efebf3"/>
<polygon points="286.0,430.0 318.0,430.0 334.0,370.0 298.0,370.0" fill="#d2d2ea" filter="url(#blur2)"/>
<polygon points="296.0,428.0 306.0,428.0 318.0,380.0 310.0,376.0" fill="#b8bce0" opacity="0.6" filter="url(#blur2)"/>
<path d="M314.2 377.7h0" stroke="#8088c0" stroke-width="0.6" stroke-linecap="round" stroke-opacity="0.2" fill="none"/>
<path d="M299.5 374.6h0M316.1 416.0h0M320.2 406.9h0M293.2 417.7h0M294.4 411.6h0M302.4 385.1h0M310.1 387.3h0M307.8 418.6h0M309.0 414.5h0M303.7 416.3h0M293.0 422.6h0" stroke="#8088c0" stroke-width="0.6" stroke-linecap="round" stroke-opacity="0.3" fill="none"/>
<path d="M296.3 397.6h0M318.7 374.8h0M304.0 412.7h0M293.3 416.2h0M295.1 409.5h0M319.9 371.0h0M295.0 413.1h0M321.1 374.2h0M314.0 417.7h0M329.8 381.0h0" stroke="#8088c0" stroke-width="0.6" stroke-linecap="round" stroke-opacity="0.4" fill="none"/>
<path d="M317.4 415.0h0M294.8 407.1h0M313.1 379.3h0" stroke="#8088c0" stroke-width="0.6" stroke-linecap="round" stroke-opacity="0.5" fill="none"/>
<path d="M300.7 372.3h0M301.7 406.4h0M313.3 423.9h0M315.2 375.6h0M296.4 399.2h0M319.1 374.7h0M298.9 385.9h0M300.6 418.8h0M294.4 412.8h0M306.9 376.3h0M291.4 407.4h0M288.9 426.5h0M290.5 425.0h0M297.2 408.9h0M306.6 379.7h0M314.1 429.2h0M314.8 425.3h0M331.6 377.0h0M308.1 393.7h0M319.2 400.2h0M306.5 407.5h0M310.6 395.7h0" stroke="#8088c0" stroke-width="0.8" stroke-linecap="round" stroke-opacity="0.2" fill="none"/>
<path d="M294.7 406.5h0M302.4 384.5h0M315.4 377.8h0M296.8 411.8h0M322.6 371.7h0M304.9 382.2h0M308.5 402.8h0M314.2 426.7h0M314.8 422.5h0M316.0 375.8h0M317.5 370.1h0M308.6 390.0h0M292.3 419.3h0M305.2 412.0h0M318.7 403.2h0M320.3 403.2h0M319.5 397.9h0M319.6 396.5h0M320.8 371.0h0M292.9 424.3h0" stroke="#8088c0" stroke-width="0.8" stroke-linecap="round" stroke-opacity="0.3" fill="none"/>
<path d="M302.2 405.2h0M310.3 427.6h0M312.2 425.8h0M314.9 377.5h0M315.6 371.8h0M287.9 423.5h0M316.5 378.4h0M317.2 377.1h0M318.0 376.4h0M316.6 422.0h0M300.4 385.8h0M302.4 415.2h0M303.4 413.0h0M304.4 410.4h0M320.3 409.6h0M292.5 419.9h0M306.9 377.4h0M307.1 375.7h0M291.4 420.9h0M310.0 408.5h0M313.8 422.2h0M314.5 377.3h0M331.0 379.4h0M292.4 415.2h0M304.9 418.5h0M320.7 394.3h0M301.6 423.2h0M303.7 418.5h0M309.7 398.4h0M318.5 374.8h0M319.0 373.4h0M314.9 404.8h0M316.0 401.3h0" stroke="#8088c0" stroke-width="0.8" stroke-linecap="round" stroke-opacity="0.4" fill="none"/>
<path d="M314.8 380.8h0M317.0 423.9h0M291.6 409.2h0M291.0 423.5h0M311.5 423.7h0M313.4 420.9h0M309.2 417.7h0M309.3 415.4h0M317.9 371.0h0M318.7 370.9h0" stroke="#8088c0" stroke-width="0.8" stroke-linecap="round" stroke-opacity="0.5" fill="none"/>
<path d="M317.1 415.3h0M313.0 423.1h0M291.6 418.6h0M295.9 398.3h0M316.2 425.2h0M313.8 415.4h0M307.1 377.8h0M319.4 400.4h0M305.4 409.9h0M317.6 371.8h0M315.1 405.9h0" stroke="#8088c0" stroke-width="1.0" stroke-linecap="round" stroke-opacity="0.2" fill="none"/>
<path d="M299.2 373.9h0M303.2 410.7h0M310.9 427.2h0M313.0 422.1h0M315.3 373.2h0M290.0 420.2h0M295.7 403.2h0M313.2 384.4h0M317.4 419.0h0M316.8 417.1h0M299.1 387.3h0M319.9 415.9h0M292.9 418.1h0M303.9 383.5h0M314.0 382.4h0M315.4 376.4h0M291.2 410.4h0M291.9 420.3h0M297.4 410.2h0M298.3 407.4h0M321.6 373.5h0M312.0 422.3h0M313.6 419.2h0M314.3 414.5h0M314.3 412.0h0M306.5 379.9h0M314.4 419.5h0M317.5 371.9h0M306.7 394.9h0M308.9 390.7h0M309.9 388.1h0M311.4 384.4h0M305.5 414.2h0M302.4 420.8h0M310.1 402.5h0M311.4 392.3h0M317.7 370.2h0" stroke="#8088c0" stroke-width="1.0" stroke-linecap="round" stroke-opacity="0.3" fill="none"/>
<path d="M318.2 412.8h0M319.5 412.9h0M301.9 413.2h0M315.7 370.0h0M318.6 414.8h0M320.2 406.5h0M293.2 414.9h0M295.2 410.5h0M315.6 378.6h0M308.3 376.7h0M313.7 424.3h0M310.2 385.1h0M305.7 414.2h0M304.1 420.7h0M305.2 416.2h0M303.5 415.0h0M309.1 400.7h0M309.7 400.0h0" stroke="#8088c0" stroke-width="1.0" stroke-linecap="round" stroke-opacity="0.4" fill="none"/>
<path d="M289.0 422.9h0M320.4 408.3h0M301.9 385.1h0M307.9 392.0h0M301.7 422.4h0" stroke="#8088c0" stroke-width="1.0" stroke-linecap="round" stroke-opacity="0.5" fill="none"/>
<polygon points="312.0,428.0 344.0,428.0 344.0,370.0 324.0,370.0" fill="#f2dce4" filter="url(#blur2)"/>
<path d="M316.7 421.8h0M317.2 419.4h0" stroke="#c84058" stroke-width="1.4" stroke-linecap="round" stroke-opacity="0.5" fill="none"/>
<path d="M320.7 390.8h0M322.6 403.9h0M316.7 404.7h0" stroke="#c84058" stroke-width="1.4" stroke-linecap="round" stroke-opacity="0.6" fill="none"/>
<path d="M312.9 419.7h0M322.5 406.2h0M320.0 423.3h0" stroke="#c84058" stroke-width="1.6" stroke-linecap="round" stroke-opacity="0.4" fill="none"/>
<path d="M312.8 426.1h0M318.1 398.4h0M315.3 418.8h0M317.9 415.5h0M317.3 422.7h0" stroke="#c84058" stroke-width="1.6" stroke-linecap="round" stroke-opacity="0.5" fill="none"/>
<path d="M317.8 400.8h0M322.2 379.9h0M317.8 401.9h0M316.9 404.3h0" stroke="#c84058" stroke-width="1.6" stroke-linecap="round" stroke-opacity="0.6" fill="none"/>
<path d="M329.4 373.3h0M326.1 376.9h0M319.0 399.0h0M318.3 420.5h0M317.6 419.3h0" stroke="#c84058" stroke-width="1.6" stroke-linecap="round" stroke-opacity="0.7" fill="none"/>
<path d="M318.1 416.8h0M319.9 392.1h0" stroke="#c84058" stroke-width="1.8" stroke-linecap="round" stroke-opacity="0.4" fill="none"/>
<path d="M317.5 402.1h0M317.9 400.0h0M322.2 387.0h0M318.1 417.5h0" stroke="#c84058" stroke-width="1.8" stroke-linecap="round" stroke-opacity="0.5" fill="none"/>
<path d="M317.4 411.5h0M320.6 391.4h0M317.3 401.9h0M321.7 416.3h0M321.5 383.0h0M324.1 385.4h0" stroke="#c84058" stroke-width="1.8" stroke-linecap="round" stroke-opacity="0.6" fill="none"/>
<path d="M329.0 378.4h0M321.1 393.2h0M324.7 401.1h0M315.6 424.3h0M315.2 416.4h0" stroke="#c84058" stroke-width="1.8" stroke-linecap="round" stroke-opacity="0.7" fill="none"/>
<path d="M312.6 424.1h0M312.4 422.6h0M328.8 372.6h0M327.1 375.3h0M324.7 390.1h0" stroke="#c84058" stroke-width="1.8" stroke-linecap="round" stroke-opacity="0.8" fill="none"/>
<path d="M324.5 390.7h0M318.5 417.8h0" stroke="#c84058" stroke-width="2.0" stroke-linecap="round" stroke-opacity="0.4" fill="none"/>
<path d="M326.0 375.8h0M321.3 388.0h0" stroke="#c84058" stroke-width="2.0" stroke-linecap="round" stroke-opacity="0.5" fill="none"/>
<path d="M314.0 419.4h0M317.9 414.3h0" stroke="#c84058" stroke-width="2.0" stroke-linecap="round" stroke-opacity="0.6" fill="none"/>
<path d="M318.6 415.7h0M325.5 387.9h0M325.5 373.8h0M317.6 419.7h0" stroke="#c84058" stroke-width="2.0" stroke-linecap="round" stroke-opacity="0.7" fill="none"/>
<path d="M328.7 383.0h0" stroke="#c84058" stroke-width="2.0" stroke-linecap="round" stroke-opacity="0.8" fill="none"/>
<path d="M327.2 381.9h0M314.3 417.7h0M319.5 399.9h0" stroke="#c84058" stroke-width="2.2" stroke-linecap="round" stroke-opacity="0.4" fill="none"/>
<path d="M327.0 376.5h0M321.1 420.8h0M315.0 412.0h0" stroke="#c84058" stroke-width="2.2" stroke-linecap="round" stroke-opacity="0.5" fill="none"/>
<path d="M316.8 420.4h0M321.5 415.3h0M325.7 377.8h0M326.5 372.4h0" stroke="#c84058" stroke-width="2.2" stroke-linecap="round" stroke-opacity="0.6" fill="none"/>
<path d="M316.6 412.8h0M315.0 415.0h0M321.6 385.4h0M324.6 388.3h0M317.8 411.4h0" stroke="#c84058" stroke-width="2.2" stroke-linecap="round" stroke-opacity="0.7" fill="none"/>
<path d="M339.1 384.5h0M333.0 405.3h0" stroke="#c84058" stroke-width="1.4" stroke-linecap="round" stroke-opacity="0.5" fill="none"/>
<path d="M334.2 418.6h0M338.4 389.0h0" stroke="#c84058" stroke-width="1.4" stroke-linecap="round" stroke-opacity="0.6" fill="none"/>
<path d="M330.4 416.0h0" stroke="#c84058" stroke-width="1.4" stroke-linecap="round" stroke-opacity="0.7" fill="none"/>
<path d="M337.4 396.1h0M337.1 400.2h0M329.0 422.9h0" stroke="#c84058" stroke-width="1.4" stroke-linecap="round" stroke-opacity="0.8" fill="none"/>
<path d="M336.1 373.9h0" stroke="#c84058" stroke-width="1.6" stroke-linecap="round" stroke-opacity="0.4" fill="none"/>
<path d="M340.5 378.3h0M334.6 389.9h0M327.9 419.5h0M339.1 375.6h0M337.1 401.8h0M334.3 403.3h0M340.4 377.4h0" stroke="#c84058" stroke-width="1.6" stroke-linecap="round" stroke-opacity="0.5" fill="none"/>
<path d="M337.3 398.1h0M334.8 379.7h0M332.6 389.8h0" stroke="#c84058" stroke-width="1.6" stroke-linecap="round" stroke-opacity="0.6" fill="none"/>
<path d="M336.4 402.8h0" stroke="#c84058" stroke-width="1.6" stroke-linecap="round" stroke-opacity="0.7" fill="none"/>
<path d="M339.0 396.5h0M337.7 388.6h0" stroke="#c84058" stroke-width="1.6" stroke-linecap="round" stroke-opacity="0.8" fill="none"/>
<path d="M337.1 381.5h0M336.6 406.0h0" stroke="#c84058" stroke-width="1.8" stroke-linecap="round" stroke-opacity="0.4" fill="none"/>
<path d="M337.4 378.6h0M336.9 386.6h0M340.2 372.8h0M335.7 407.4h0" stroke="#c84058" stroke-width="1.8" stroke-linecap="round" stroke-opacity="0.5" fill="none"/>
<path d="M334.0 407.1h0" stroke="#c84058" stroke-width="1.8" stroke-linecap="round" stroke-opacity="0.6" fill="none"/>
<path d="M335.8 392.9h0" stroke="#c84058" stroke-width="1.8" stroke-linecap="round" stroke-opacity="0.7" fill="none"/>
<path d="M338.1 393.4h0" stroke="#c84058" stroke-width="1.8" stroke-linecap="round" stroke-opacity="0.8" fill="none"/>
<path d="M333.2 395.8h0M329.0 417.8h0M338.2 400.8h0M333.3 410.3h0" stroke="#c84058" stroke-width="2.0" stroke-linecap="round" stroke-opacity="0.4" fill="none"/>
<path d="M340.0 374.9h0M338.7 377.4h0" stroke="#c84058" stroke-width="2.0" stroke-linecap="round" stroke-opacity="0.5" fill="none"/>
<path d="M339.1 386.3h0M332.9 397.9h0M333.8 381.4h0M338.6 397.5h0M339.5 395.4h0M336.7 384.5h0" stroke="#c84058" stroke-width="2.0" stroke-linecap="round" stroke-opacity="0.6" fill="none"/>
<path d="M338.2 385.2h0M334.0 405.8h0" stroke="#c84058" stroke-width="2.0" stroke-linecap="round" stroke-opacity="0.7" fill="none"/>
<path d="M338.2 403.0h0M334.5 400.8h0" stroke="#c84058" stroke-width="2.0" stroke-linecap="round" stroke-opacity="0.8" fill="none"/>
<path d="M333.5 413.2h0" stroke="#c84058" stroke-width="2.2" stroke-linecap="round" stroke-opacity="0.5" fill="none"/>
<path d="M333.7 394.4h0M327.5 421.2h0M334.4 410.5h0M329.6 420.4h0" stroke="#c84058" stroke-width="2.2" stroke-linecap="round" stroke-opacity="0.6" fill="none"/>
<path d="M339.4 382.7h0M335.9 394.8h0M340.0 376.1h0M335.8 421.6h0M340.6 374.6h0" stroke="#c84058" stroke-width="2.2" stroke-linecap="round" stroke-opacity="0.7" fill="none"/>
<path d="M337.2 404.8h0M333.1 389.3h0" stroke="#c84058" stroke-width="2.2" stroke-linecap="round" stroke-opacity="0.8" fill="none"/>
<path d="M305.6 388.9h0M293.8 409.8h0M320.2 398.1h0M295.6 376.4h0" stroke="#6a6aa8" stroke-width="0.8" stroke-linecap="round" stroke-opacity="0.3" fill="none"/>
<path d="M289.2 374.6h0M334.3 396.8h0M325.3 395.5h0M292.9 382.7h0" stroke="#6a6aa8" stroke-width="0.8" stroke-linecap="round" stroke-opacity="0.4" fill="none"/>
<path d="M305.7 417.8h0M330.7 411.5h0M316.0 422.3h0M290.5 414.7h0M309.2 402.4h0" stroke="#6a6aa8" stroke-width="0.8" stroke-linecap="round" stroke-opacity="0.5" fill="none"/>
<path d="M330.1 383.5h0M325.0 414.1h0" stroke="#6a6aa8" stroke-width="1.0" stroke-linecap="round" stroke-opacity="0.3" fill="none"/>
<path d="M327.4 388.5h0M303.9 409.8h0M305.5 386.9h0M323.2 422.7h0M340.7 391.2h0M338.6 411.1h0M316.3 406.7h0" stroke="#6a6aa8" stroke-width="1.0" stroke-linecap="round" stroke-opacity="0.4" fill="none"/>
<path d="M330.6 420.6h0M325.3 373.0h0M333.8 382.9h0M323.4 374.0h0M317.6 400.1h0" stroke="#6a6aa8" stroke-width="1.0" stroke-linecap="round" stroke-opacity="0.5" fill="none"/>
<path d="M330.3 407.8h0M340.5 402.7h0M341.0 390.1h0M312.9 402.8h0M337.7 393.5h0M343.4 387.4h0" stroke="#6a6aa8" stroke-width="1.2" stroke-linecap="round" stroke-opacity="0.3" fill="none"/>
<path d="M341.1 407.9h0M297.2 389.1h0M314.2 407.5h0M309.8 415.6h0M326.2 391.6h0M301.3 395.4h0M343.5 384.2h0M330.8 399.2h0" stroke="#6a6aa8" stroke-width="1.2" stroke-linecap="round" stroke-opacity="0.4" fill="none"/>
<path d="M339.4 422.1h0M293.7 425.3h0M315.9 400.4h0M295.6 393.9h0M302.4 407.2h0M295.6 401.8h0" stroke="#6a6aa8" stroke-width="1.2" stroke-linecap="round" stroke-opacity="0.5" fill="none"/>
<path d="M312.5 375.3h0M304.0 408.0h0M299.9 377.2h0M334.8 416.4h0M301.7 419.8h0M299.6 401.9h0" stroke="#6a6aa8" stroke-width="1.4" stroke-linecap="round" stroke-opacity="0.3" fill="none"/>
<path d="M320.7 410.8h0M330.9 395.7h0M301.8 394.5h0M340.3 414.7h0" stroke="#6a6aa8" stroke-width="1.4" stroke-linecap="round" stroke-opacity="0.4" fill="none"/>
<path d="M312.3 410.3h0M299.5 395.9h0M331.5 411.7h0" stroke="#6a6aa8" stroke-width="1.4" stroke-linecap="round" stroke-opacity="0.5" fill="none"/>
<circle cx="294.5" cy="421" r="1.6" fill="#303070" opacity="0.8"/>
</g>
<rect x="289.0" y="371.6" width="54.6" height="53.9" fill="none" stroke="#555" stroke-width="1"/>
<rect x="182.8" y="318.9" width="160.3" height="106.1" fill="none" stroke="#555" stroke-width="1"/>
<clipPath id="clipB"><rect x="352.4" y="318.4" width="160.0" height="107.0"/></clipPath>
<g clip-path="url(#clipB)">
<rect x="352.4" y="318.4" width="160.0" height="107.0" fill="#f2eded"/>
<polygon points="352.0,426.0 380.0,426.0 396.0,382.0 412.0,346.0 428.0,318.0 402.0,318.0 388.0,346.0 370.0,382.0" fill="#f6eced" filter="url(#blur2)"/>
<polygon points="432.0,327.0 446.0,329.0 462.0,333.0 476.0,339.0 481.0,350.0 477.0,358.0 462.0,354.0 448.0,346.0 438.0,336.0" fill="#f3e2e6" filter="url(#blur15)"/>
<polygon points="463.0,330.0 472.0,331.0 477.0,346.0 471.0,350.0 466.0,342.0" fill="#fbf8f8" filter="url(#blur1)"/>
<path d="M440,331 C452,336 462,342 474,348" stroke="#d0a0a8" stroke-width="0.7" fill="none" opacity="0.8"/>
<path d="M442,334 C454,339 462,345 474,350" stroke="#d0a0a8" stroke-width="0.7" fill="none" opacity="0.8"/>
<path d="M444,337 C456,342 462,348 474,352" stroke="#d0a0a8" stroke-width="0.7" fill="none" opacity="0.8"/>
<path d="M446,340 C458,345 462,351 474,354" stroke="#d0a0a8" stroke-width="0.7" fill="none" opacity="0.8"/>
<path d="M441,330 L447,334" stroke="#7a5a5a" stroke-width="0.8" opacity="0.7"/>
<path d="M475,347 L477,353" stroke="#7a5a5a" stroke-width="0.8" opacity="0.7"/>
<path d="M460.1 392.6h0M466.6 374.9h0M460.3 370.7h0M510.4 333.2h0M411.2 371.9h0M450.7 387.0h0M462.2 376.9h0M453.5 335.5h0M499.2 421.8h0M369.4 384.9h0M424.7 361.8h0M467.4 372.2h0M490.6 363.4h0M495.6 423.1h0M504.5 368.7h0M442.8 325.7h0M504.9 339.7h0M434.2 364.1h0M414.0 371.3h0M367.2 336.5h0M358.8 336.9h0M442.8 348.8h0M357.5 338.8h0M363.5 347.5h0M429.6 366.1h0M374.8 378.7h0M425.7 344.2h0M437.4 325.3h0M436.6 343.9h0M485.3 389.5h0M470.2 358.9h0M455.4 374.9h0M362.2 350.4h0M468.3 396.3h0M465.9 342.9h0M398.3 373.9h0M480.0 343.8h0M374.2 346.7h0M357.7 382.1h0M361.3 382.2h0M409.9 387.4h0M406.3 345.1h0M364.1 410.1h0M383.6 336.0h0M459.2 355.8h0M371.3 335.2h0M468.6 350.8h0M454.3 339.3h0M437.2 338.2h0M471.6 411.4h0M466.6 379.6h0M503.9 387.1h0M468.1 331.7h0M353.2 382.9h0M381.9 357.8h0M490.7 423.3h0M456.4 395.2h0M378.3 408.2h0M476.8 398.2h0M470.8 401.3h0M398.1 399.0h0M486.1 359.0h0M441.0 381.8h0M453.9 417.2h0M456.4 341.7h0M442.5 357.2h0M504.7 352.1h0M449.7 350.1h0M511.6 327.2h0M477.9 351.0h0M410.2 384.3h0M436.6 409.9h0M502.5 390.6h0M472.3 366.7h0M356.2 377.7h0M398.2 399.6h0M487.4 417.6h0M473.5 395.8h0M455.1 402.7h0M442.0 407.2h0M480.9 327.4h0M449.9 320.5h0M423.5 400.3h0M471.4 352.3h0M478.2 380.5h0M416.0 422.1h0M377.5 351.4h0M498.5 392.4h0M382.1 353.0h0M420.4 353.8h0M392.9 391.2h0M471.4 355.2h0M448.9 352.7h0M360.0 350.3h0M454.8 416.1h0M433.8 411.3h0M370.2 320.6h0M354.9 407.3h0M470.6 421.0h0M431.3 322.7h0M360.5 345.1h0M478.0 324.6h0M501.3 361.6h0M481.1 412.4h0M453.1 381.9h0M453.3 326.2h0M389.0 379.6h0M449.3 373.6h0M423.4 418.8h0M461.8 380.9h0M496.7 332.2h0M373.4 328.6h0M359.5 376.9h0M490.0 398.3h0M392.1 342.2h0M460.1 340.4h0M435.5 424.3h0M412.9 394.9h0M370.1 327.1h0M371.6 335.9h0M486.2 424.7h0M448.2 332.8h0M505.5 366.0h0M485.8 424.6h0M383.7 384.7h0M414.1 357.4h0M473.5 348.0h0M431.4 376.6h0M423.5 351.4h0M486.1 337.0h0M423.1 330.2h0M440.6 391.8h0M401.6 377.5h0M432.5 393.0h0M505.6 379.4h0M494.6 346.8h0M424.6 389.2h0M355.9 361.9h0M450.9 379.9h0M503.1 415.3h0M354.3 318.9h0M449.2 403.2h0M503.3 386.9h0M368.2 352.2h0" stroke="#8a7c7c" stroke-width="0.6" stroke-linecap="round" stroke-opacity="0.1" fill="none"/>
<path d="M358.4 368.9h0M474.4 382.4h0M431.5 352.5h0M370.4 379.6h0M440.1 381.1h0M355.8 319.6h0M480.8 330.9h0M429.7 348.9h0M379.8 347.7h0M450.2 365.5h0M485.6 329.5h0M507.6 363.5h0M512.1 381.3h0M372.2 369.3h0M481.6 352.4h0M373.0 373.1h0M369.6 359.4h0M360.4 321.0h0M435.6 319.1h0M422.5 350.6h0M489.7 398.2h0M509.8 380.4h0M403.1 418.5h0M362.7 369.8h0M396.1 383.5h0M441.5 382.8h0M503.5 397.7h0M381.2 336.8h0M362.0 333.8h0M430.1 375.0h0M427.8 390.3h0M431.9 369.2h0M449.6 357.7h0M475.9 321.3h0M493.2 359.7h0M475.1 408.8h0M490.3 419.7h0M474.7 396.4h0M438.3 327.3h0M498.3 327.5h0M374.3 399.7h0M495.7 393.4h0M414.8 338.4h0M408.9 372.7h0M427.1 413.6h0M480.6 396.5h0M434.0 332.1h0M460.8 356.4h0M382.9 341.8h0M395.3 417.2h0M443.7 343.8h0M394.3 393.7h0M384.1 412.5h0M494.4 383.7h0M481.9 335.4h0M389.6 410.0h0M416.2 343.6h0M498.4 397.7h0M474.3 348.3h0M423.4 355.4h0M436.8 420.3h0M427.7 349.0h0M482.3 418.2h0M429.4 388.1h0M501.9 344.4h0M423.4 320.1h0M436.0 341.2h0M353.7 396.0h0M415.2 423.7h0M499.4 356.4h0M469.2 319.1h0M388.5 394.9h0M421.6 380.8h0M492.6 384.5h0M353.7 339.8h0M492.7 370.5h0M449.4 424.3h0M451.4 389.8h0M462.3 403.3h0M448.3 362.2h0M424.1 395.8h0M359.3 323.1h0M451.3 336.3h0M457.6 392.5h0M465.1 357.5h0M364.3 359.5h0M450.0 422.9h0M427.4 397.4h0M466.7 402.6h0M490.9 343.6h0M445.8 374.2h0M361.7 394.9h0M503.7 318.9h0M495.8 347.2h0M408.6 368.6h0M440.9 381.4h0M434.2 396.1h0M430.5 421.7h0M387.5 393.3h0M430.7 367.8h0M502.4 368.3h0M506.9 360.7h0M448.0 389.4h0M485.9 419.3h0M432.5 344.1h0M475.6 386.0h0M507.9 405.9h0M490.4 321.7h0M432.4 401.8h0M475.7 320.2h0M446.9 368.8h0M509.1 385.1h0M388.6 321.1h0M483.2 329.6h0M370.3 390.2h0M459.6 331.7h0M406.2 388.6h0M471.4 384.2h0M501.4 334.3h0M499.3 365.3h0M479.8 389.5h0M428.5 375.5h0M411.0 365.7h0M455.5 417.0h0M437.9 371.5h0M480.6 346.0h0M419.3 351.8h0M464.6 343.3h0M361.8 360.2h0M457.0 378.8h0M458.8 404.6h0M457.7 358.4h0M478.4 348.3h0M399.8 365.5h0M426.5 372.6h0M403.2 332.0h0M495.0 365.1h0M460.5 352.0h0M361.1 377.7h0M511.6 402.7h0M363.4 374.5h0M435.0 419.7h0M447.9 341.7h0M432.8 330.3h0M511.6 398.6h0M426.3 343.2h0M466.6 397.7h0M370.2 392.8h0M473.7 358.5h0M391.6 337.4h0M487.5 412.1h0M442.7 339.3h0M421.9 411.9h0M449.0 364.6h0M501.3 383.8h0M464.8 338.8h0M487.2 397.0h0M473.7 408.0h0M461.7 348.8h0M494.7 421.1h0M478.7 375.7h0M506.3 401.9h0M512.3 392.6h0M488.3 400.7h0M396.1 348.0h0M508.1 382.6h0M448.7 321.1h0M443.9 416.1h0M458.8 326.0h0M427.1 367.0h0M492.6 394.3h0M449.7 386.9h0M398.8 351.9h0M433.4 393.0h0M403.4 402.7h0M485.6 404.7h0M466.9 421.1h0M364.0 387.1h0M411.4 370.5h0M456.0 393.7h0M476.3 382.9h0M387.7 386.1h0M416.3 388.4h0M480.9 391.9h0M497.6 388.2h0M478.8 362.2h0M511.1 399.6h0M396.8 401.5h0M362.0 385.3h0M362.5 394.9h0M500.7 404.9h0M463.3 329.5h0M433.2 352.6h0M510.0 358.4h0M432.7 338.3h0M497.8 357.5h0M436.1 331.1h0M492.1 420.4h0M451.3 353.3h0M419.1 407.6h0M455.3 350.7h0M498.1 408.5h0M384.1 424.6h0M423.3 405.5h0M373.6 318.4h0M432.7 370.4h0M405.1 350.9h0M428.4 411.8h0M401.8 417.4h0M477.1 377.2h0M465.8 356.2h0M377.6 350.4h0M389.1 340.9h0M464.4 410.0h0M490.9 408.0h0M418.6 331.4h0M477.8 356.9h0M484.0 319.4h0M365.1 330.0h0M423.0 335.9h0M451.7 332.7h0M375.9 340.4h0M425.6 398.8h0M473.8 339.1h0M460.2 380.1h0M501.9 410.6h0M373.5 340.0h0M472.6 335.3h0M453.1 418.8h0M424.9 333.2h0M376.4 323.9h0M453.6 320.8h0M500.0 406.7h0M511.0 330.6h0M383.6 350.3h0M430.3 348.1h0M360.6 358.3h0" stroke="#8a7c7c" stroke-width="0.6" stroke-linecap="round" stroke-opacity="0.2" fill="none"/>
<path d="M387.3 334.8h0M498.3 362.3h0M469.2 320.9h0M359.4 401.3h0M405.2 334.5h0M466.1 400.2h0M420.0 413.1h0M388.8 338.9h0M491.8 421.9h0M484.8 415.3h0M398.1 406.0h0M384.9 384.7h0M462.8 391.8h0M422.9 350.6h0M470.0 415.6h0M506.3 379.8h0M511.0 404.4h0M413.8 367.5h0M385.6 369.5h0M397.7 401.8h0M453.4 345.6h0M457.2 353.7h0M511.1 421.7h0M415.8 408.4h0M495.4 399.3h0M381.4 358.9h0M447.1 411.8h0M397.6 377.4h0M497.3 354.0h0M374.0 418.3h0M469.6 383.5h0M354.8 350.4h0M502.8 421.8h0M493.1 379.2h0M430.8 346.8h0M498.4 351.7h0M458.1 398.5h0M409.5 363.9h0M477.2 339.6h0M413.9 393.1h0M463.8 392.2h0M436.6 405.7h0M506.9 401.8h0M447.5 424.9h0M491.1 400.6h0M456.6 422.8h0M509.2 399.2h0M380.1 332.6h0M419.5 394.1h0M364.7 339.9h0M379.7 346.8h0M458.9 395.3h0M466.4 344.1h0M455.3 413.4h0M379.3 358.2h0M490.1 372.9h0M393.9 335.5h0M492.3 328.7h0M420.1 421.1h0M485.3 339.6h0M432.3 403.0h0M467.1 424.4h0M446.6 407.4h0M501.9 422.6h0M467.6 352.7h0M399.3 419.6h0M457.6 321.6h0M405.5 356.3h0M443.9 350.7h0M393.8 390.4h0M455.2 391.8h0M414.4 413.6h0M364.2 388.9h0M378.8 354.1h0M482.8 375.3h0M423.1 342.6h0M416.0 396.9h0M454.3 365.4h0M495.7 419.7h0M364.2 329.1h0M507.9 399.2h0M412.1 354.4h0M491.5 387.1h0M479.2 408.0h0M506.8 382.3h0M509.7 361.4h0M409.8 382.6h0M432.6 413.9h0M393.1 362.0h0M451.7 398.5h0M389.7 319.8h0M462.6 369.9h0M395.7 385.4h0M488.5 319.1h0M463.8 416.2h0M409.4 419.8h0M425.5 336.1h0M426.8 362.6h0M359.8 330.6h0M504.8 413.6h0M503.6 344.0h0M355.2 356.3h0M483.8 386.0h0M441.8 408.8h0M415.4 400.4h0M359.6 334.7h0M376.1 416.5h0M490.4 416.4h0M448.7 412.8h0M438.2 416.4h0M457.9 392.0h0M442.7 323.9h0M451.0 333.8h0M497.6 366.8h0M441.4 422.2h0M424.6 387.0h0M434.6 384.0h0M367.8 379.0h0M367.4 324.3h0M509.3 399.0h0M446.7 410.3h0M405.0 424.8h0M484.8 409.0h0M478.6 400.7h0M498.7 423.6h0M373.4 328.6h0M403.4 414.7h0M489.2 331.8h0M384.1 353.4h0M358.9 380.9h0M352.5 370.3h0M506.2 344.6h0M448.9 386.6h0M400.9 414.8h0M465.1 424.3h0M433.2 380.7h0M406.7 360.4h0M505.5 399.9h0M401.3 416.2h0M478.6 406.1h0M489.5 379.3h0M487.7 367.5h0M495.9 389.8h0M510.1 391.2h0M500.4 328.8h0M380.3 323.2h0M498.8 392.5h0M437.4 397.1h0M416.1 343.0h0M358.7 325.8h0M511.4 417.7h0M358.2 357.1h0M403.9 417.0h0M353.3 382.8h0M484.4 356.8h0M395.5 357.4h0M371.7 339.8h0M485.5 365.7h0M500.2 357.7h0M443.0 392.8h0M494.4 391.9h0M361.2 324.9h0M501.7 365.2h0M440.4 414.6h0M466.9 330.3h0M477.8 319.0h0M426.7 420.3h0M451.2 320.6h0M499.0 394.4h0M418.0 395.7h0M412.0 400.2h0M354.5 352.3h0M507.7 352.8h0M460.4 335.2h0M427.0 345.0h0M360.3 392.0h0M371.7 378.3h0M498.4 396.8h0M434.1 382.1h0M488.3 353.6h0M392.7 404.1h0M458.1 417.7h0M508.5 382.8h0M401.0 387.0h0M420.6 383.4h0M399.2 387.7h0M388.6 327.5h0M463.4 387.8h0M359.6 353.8h0M471.9 348.2h0M409.4 398.9h0M480.1 350.5h0M423.4 377.3h0M467.3 415.8h0M360.1 336.8h0M374.0 319.0h0M362.8 333.5h0M402.8 405.2h0M468.3 385.9h0M502.6 362.5h0M395.8 391.9h0M438.2 351.9h0M441.2 334.1h0M466.5 403.0h0M445.9 329.4h0M475.0 395.3h0M461.6 372.2h0M482.3 320.7h0M506.5 333.0h0M369.7 320.7h0M481.4 407.1h0M482.9 402.8h0M495.6 397.7h0M389.3 366.7h0M510.2 397.0h0M425.2 329.8h0M363.5 421.8h0M480.6 408.5h0M447.0 378.1h0M495.8 352.3h0M482.8 318.8h0M380.0 322.1h0M425.3 327.8h0M427.1 378.5h0M368.3 338.0h0M507.9 372.2h0M448.7 415.6h0M484.2 380.0h0M400.5 422.8h0M418.5 397.6h0M381.9 405.7h0M391.7 413.5h0M490.0 396.0h0M469.5 327.7h0M473.8 325.5h0M419.2 377.6h0M423.7 328.9h0M388.0 338.7h0M364.3 346.3h0M440.5 410.1h0M353.5 406.5h0M499.7 343.0h0M491.9 366.8h0M506.4 360.8h0M428.3 415.7h0M459.6 420.1h0M420.5 332.3h0M417.0 330.9h0M471.1 413.1h0M508.0 330.6h0M393.9 361.7h0M419.0 341.6h0M506.3 353.5h0M364.5 373.6h0M501.7 410.3h0M387.6 330.0h0M493.0 392.5h0M447.9 365.0h0M471.9 322.7h0M426.6 358.0h0M440.9 395.5h0M442.4 396.3h0M483.0 347.6h0M457.6 412.1h0M443.9 343.2h0M468.6 394.0h0M480.1 331.8h0M452.6 335.0h0M442.3 376.3h0M479.2 415.3h0M368.9 352.7h0M504.5 344.5h0" stroke="#8a7c7c" stroke-width="0.6" stroke-linecap="round" stroke-opacity="0.3" fill="none"/>
<path d="M507.5 337.5h0M371.8 335.2h0M422.7 386.0h0M419.9 411.7h0M470.8 424.5h0M502.3 411.8h0M424.7 393.2h0M367.2 357.4h0M482.6 338.7h0M356.0 408.0h0M449.3 367.8h0M454.5 322.3h0M406.6 401.4h0M504.5 387.5h0M367.0 367.4h0M478.9 385.9h0M501.0 332.1h0M469.7 337.8h0M362.0 417.7h0M461.7 406.0h0M501.5 402.5h0M359.5 319.5h0M355.4 379.2h0M457.2 423.8h0M463.1 394.1h0M440.3 340.6h0M445.0 366.1h0M423.2 328.6h0M360.8 403.6h0M511.6 382.9h0M465.3 345.6h0M457.3 362.3h0M443.3 383.3h0M394.8 388.5h0M451.1 379.2h0M478.4 362.3h0M401.0 422.9h0M501.4 349.7h0M392.7 400.0h0M507.7 390.2h0M409.3 408.5h0M408.2 320.1h0M404.0 400.3h0M506.8 378.8h0M499.4 388.4h0M412.9 388.9h0M409.6 399.6h0M414.6 415.6h0M481.0 339.1h0M475.9 379.7h0M487.4 368.0h0M511.1 406.1h0M463.4 372.5h0M424.8 417.8h0M462.5 404.8h0M510.7 381.7h0M414.7 407.4h0M511.2 403.2h0M508.5 354.0h0M503.9 366.7h0M417.4 396.9h0M468.1 364.2h0M401.3 421.2h0M469.4 423.0h0M507.2 405.0h0M459.6 328.6h0M418.7 416.5h0M460.2 376.6h0M481.1 347.0h0M418.1 342.0h0M410.3 375.4h0M355.5 333.0h0M457.8 361.7h0M507.8 361.7h0M453.7 368.2h0M404.9 395.7h0" stroke="#8a7c7c" stroke-width="0.6" stroke-linecap="round" stroke-opacity="0.4" fill="none"/>
<path d="M369.6 378.6h0M440.5 380.3h0M365.4 377.2h0M421.6 383.9h0M470.6 383.5h0M360.0 380.1h0M432.0 416.3h0M408.1 393.2h0M426.9 406.1h0M389.7 326.0h0M409.6 392.3h0M355.2 377.4h0M498.0 404.7h0M418.4 331.5h0M410.0 385.1h0M506.0 391.4h0M429.8 348.5h0M434.2 380.4h0M456.1 423.6h0M439.6 358.2h0M511.9 322.1h0M508.9 416.5h0M482.5 375.0h0M377.4 339.9h0M462.5 336.0h0M372.2 350.0h0M428.4 383.0h0M441.0 366.7h0M508.6 376.8h0M511.2 351.3h0M457.0 345.7h0M475.7 416.5h0M435.1 370.8h0M483.5 404.9h0M506.9 352.6h0M478.2 324.6h0M382.9 351.0h0M463.6 347.2h0M506.8 359.3h0M473.6 356.5h0M381.5 376.4h0M397.4 360.7h0M393.0 340.2h0M495.2 375.8h0M358.7 319.4h0M507.7 412.4h0M382.8 334.9h0M464.0 387.2h0M420.6 417.5h0M502.0 347.6h0M374.9 366.8h0M382.6 374.3h0M458.7 354.1h0M474.0 321.8h0M504.0 398.7h0M476.8 323.6h0M418.7 356.8h0M430.3 382.0h0M479.3 369.4h0M471.6 416.5h0M415.7 349.9h0M442.6 379.6h0M362.2 354.3h0M454.4 321.7h0M356.1 322.7h0M466.1 404.1h0M416.3 370.3h0M479.0 370.3h0M468.3 405.8h0M475.4 364.8h0M460.9 404.1h0M379.0 351.6h0M423.2 327.8h0M478.8 412.3h0M452.6 351.5h0M431.1 362.5h0M499.9 332.9h0M353.1 320.6h0M364.7 355.7h0M385.0 332.9h0M508.2 352.5h0M487.8 339.3h0M481.8 359.0h0M499.4 399.8h0M396.6 422.2h0M372.6 378.2h0M412.3 376.7h0M371.7 322.4h0M423.7 390.5h0M455.9 356.1h0M423.1 370.4h0M492.8 418.4h0M509.4 338.3h0M455.3 406.4h0M446.3 393.3h0M457.5 367.1h0M410.9 345.5h0M390.6 401.8h0M416.1 421.5h0M393.4 419.4h0M445.8 332.8h0M365.0 378.8h0M428.0 347.9h0M509.6 323.0h0M510.5 367.7h0M412.4 359.3h0M482.1 371.9h0M436.2 404.7h0M452.9 372.0h0M459.2 390.9h0M376.0 420.6h0M483.6 323.6h0M363.9 402.5h0M460.0 340.5h0M472.6 368.1h0M510.7 382.2h0M447.8 348.2h0M490.2 389.2h0M481.0 332.0h0M464.0 326.0h0M400.7 387.0h0M469.8 381.5h0M408.6 408.0h0M496.9 414.9h0M492.6 342.1h0M468.2 365.0h0M368.3 349.7h0M458.2 369.9h0M439.4 340.8h0M487.2 340.6h0M358.7 373.2h0M449.2 335.8h0M478.6 383.5h0M428.5 418.6h0M363.3 368.5h0M364.4 348.3h0M505.9 376.9h0M501.6 342.0h0M460.3 424.8h0M422.1 351.5h0M490.2 353.7h0M409.3 357.9h0M489.6 409.9h0M437.3 358.7h0M368.7 365.7h0M365.7 319.8h0M472.2 326.6h0M497.8 399.9h0M434.3 405.3h0M352.6 358.5h0M457.3 340.1h0M459.4 352.8h0M395.4 394.1h0M462.8 364.2h0M475.3 406.4h0M387.0 333.7h0M492.6 334.1h0M416.0 342.6h0M506.2 341.3h0M473.0 319.0h0M488.2 331.6h0M404.1 345.0h0M481.8 353.2h0M497.5 351.8h0M468.8 415.3h0M385.5 414.6h0M479.9 395.6h0M362.2 336.4h0M433.7 355.6h0M489.2 381.2h0M462.5 332.1h0M472.5 338.9h0M436.2 330.8h0M500.5 326.1h0M486.6 369.1h0M489.6 354.7h0M441.0 406.0h0M409.6 404.5h0M492.9 354.4h0M453.9 356.9h0M500.9 386.6h0M467.8 321.4h0M392.3 376.9h0M402.4 319.2h0M469.9 379.4h0M421.9 332.7h0M512.1 391.6h0M389.7 408.0h0M474.4 419.8h0M377.6 400.0h0M443.9 397.6h0M496.4 423.5h0M508.7 421.7h0M454.4 416.6h0M448.7 329.3h0M481.5 410.8h0M491.3 341.7h0M430.0 425.3h0M429.5 394.0h0M491.8 379.6h0M461.5 322.9h0M448.4 378.6h0M502.8 411.9h0M491.7 372.3h0M456.3 341.6h0M360.6 399.5h0M498.1 421.9h0M431.5 324.9h0M449.9 387.4h0M440.2 319.3h0M427.2 339.9h0M426.7 414.4h0M465.1 377.5h0M488.1 342.9h0M374.2 362.3h0M440.2 421.2h0M419.4 338.8h0M450.0 412.4h0M495.6 339.1h0M487.9 417.0h0M431.0 339.0h0M488.8 360.9h0M421.6 384.5h0M390.5 412.1h0M444.6 352.7h0M500.2 358.0h0M443.7 396.1h0M494.8 343.3h0M454.9 365.4h0M430.6 345.9h0M374.2 364.3h0M353.4 411.2h0M353.2 401.5h0M452.3 411.5h0M432.8 360.6h0M452.4 395.0h0M465.7 352.9h0M390.9 404.9h0M385.5 335.6h0M414.8 353.1h0M390.3 412.0h0M483.9 403.9h0M363.2 421.4h0M479.8 391.2h0M449.4 335.0h0M482.1 339.6h0M505.1 418.6h0M482.4 345.9h0M469.8 331.7h0M403.7 357.0h0M504.2 379.2h0M472.4 384.6h0M440.9 405.9h0M414.3 392.3h0M491.6 329.4h0M354.9 373.7h0M462.6 415.4h0M452.6 411.2h0M447.1 400.4h0M493.2 330.0h0M500.8 410.6h0M361.5 347.8h0M511.2 407.5h0M490.2 351.9h0" stroke="#8a7c7c" stroke-width="0.8" stroke-linecap="round" stroke-opacity="0.1" fill="none"/>
<path d="M501.7 373.8h0M455.2 392.9h0M377.6 323.8h0M415.7 411.5h0M363.4 425.3h0M391.2 330.4h0M477.2 379.6h0M511.5 324.8h0M457.3 407.3h0M444.8 318.7h0M471.9 336.9h0M483.5 416.3h0M497.9 341.3h0M425.6 331.6h0M502.2 368.7h0M374.6 340.7h0M474.3 393.7h0M452.3 326.3h0M474.6 366.7h0M389.2 385.8h0M460.0 347.6h0M371.6 339.5h0M369.6 355.0h0M442.2 328.9h0M386.4 415.2h0M372.4 343.8h0M384.2 330.3h0M362.7 323.1h0M491.4 356.9h0M418.1 419.6h0M484.4 385.2h0M475.9 331.8h0M373.7 351.9h0M392.9 331.3h0M446.3 376.9h0M437.1 415.6h0M399.6 373.8h0M358.2 379.7h0M416.7 404.6h0M425.9 376.9h0M420.6 350.2h0M371.8 369.1h0M489.1 424.0h0M404.5 418.5h0M495.1 349.5h0M424.1 391.5h0M485.0 327.7h0M418.9 404.8h0M411.2 414.7h0M507.7 334.3h0M361.6 351.4h0M358.7 351.2h0M444.7 411.2h0M477.1 328.6h0M477.4 349.1h0M406.4 372.3h0M439.4 374.3h0M461.5 362.7h0M417.7 404.3h0M446.1 422.9h0M474.0 404.6h0M396.4 395.0h0M415.7 412.6h0M352.5 367.8h0M361.0 342.6h0M398.8 335.3h0M445.7 343.5h0M417.2 396.7h0M421.2 393.9h0M386.8 357.0h0M431.9 319.3h0M415.8 330.7h0M420.3 326.2h0M449.2 325.6h0M366.0 350.5h0M416.7 350.0h0M423.3 327.7h0M490.0 389.2h0M505.4 378.8h0M469.2 413.4h0M457.6 414.5h0M455.0 394.8h0M494.5 337.3h0M428.8 412.9h0M451.3 378.7h0M504.8 349.6h0M497.9 390.4h0M475.3 383.0h0M442.9 350.8h0M435.9 411.8h0M429.8 400.1h0M459.6 373.3h0M472.0 346.6h0M363.5 333.1h0M461.7 385.7h0M435.1 319.8h0M480.8 355.7h0M492.3 424.3h0M355.8 344.0h0M429.3 410.5h0M447.9 402.1h0M362.9 357.9h0M417.3 388.4h0M445.1 365.5h0M464.3 356.2h0M442.3 337.2h0M423.3 368.9h0M494.6 372.1h0M461.2 370.3h0M357.9 359.4h0M444.0 355.3h0M373.1 372.9h0M368.9 325.1h0M476.4 393.6h0M414.5 390.9h0M403.5 421.5h0M374.7 325.6h0M411.8 332.6h0M429.6 323.7h0M439.2 344.1h0M487.9 329.2h0M392.7 403.2h0M483.6 344.8h0M489.5 412.6h0M368.2 368.4h0M416.2 381.9h0M413.1 405.2h0M457.7 332.8h0M409.7 388.3h0M393.0 348.7h0M432.5 328.9h0M405.5 371.0h0M448.8 396.5h0M430.2 326.5h0M441.4 412.1h0M409.2 374.0h0M450.0 337.0h0M499.0 333.1h0M486.8 321.1h0M471.7 331.8h0M461.3 388.4h0M459.0 398.9h0M461.1 400.5h0M403.6 369.9h0M460.6 335.4h0M511.6 318.5h0M484.7 379.6h0M475.5 422.0h0M415.6 401.5h0M464.7 319.2h0M511.7 339.4h0M367.3 388.8h0M496.4 397.7h0M440.3 391.1h0M435.1 338.7h0M418.3 388.1h0M423.2 351.5h0M471.8 329.5h0M417.3 395.1h0M419.0 350.8h0M357.3 409.9h0M492.5 362.9h0M447.3 332.2h0M386.1 337.3h0M369.8 337.3h0M389.9 333.7h0M470.2 423.8h0M452.6 415.1h0M500.3 346.5h0M375.7 393.7h0M502.2 333.3h0M480.3 341.9h0M437.5 414.1h0M375.6 322.5h0M444.2 347.0h0M362.9 400.0h0M418.2 418.3h0M415.2 382.4h0M415.5 407.4h0M460.9 347.0h0M463.3 421.1h0M361.3 362.5h0M430.4 318.9h0M446.4 405.6h0M405.1 402.2h0M376.8 412.4h0M491.0 388.1h0M374.0 345.6h0M357.0 359.3h0M373.4 369.3h0M481.4 326.5h0M371.2 423.6h0M357.0 401.2h0M448.6 329.8h0M362.6 409.8h0M414.7 358.9h0M370.3 361.1h0M375.2 330.4h0M462.4 349.3h0M479.9 414.2h0M485.2 357.8h0M502.3 396.6h0M451.8 354.0h0M440.1 334.6h0M432.5 365.9h0M412.2 359.6h0M383.4 420.8h0M474.0 355.7h0M451.1 395.1h0M434.8 352.3h0M438.2 326.3h0M466.8 326.5h0M433.6 341.9h0M377.4 374.7h0M492.2 328.2h0M486.9 344.0h0M457.5 346.3h0M451.5 392.2h0M504.1 402.3h0M411.2 418.3h0M370.5 361.0h0M401.1 384.1h0M424.6 365.9h0M453.6 396.3h0M361.8 378.2h0M486.7 410.0h0M476.8 413.4h0M434.4 408.4h0M511.4 396.0h0M388.8 395.9h0M403.8 424.2h0M458.9 335.5h0M458.6 328.3h0M469.7 379.4h0M356.2 341.2h0M395.3 329.0h0M487.7 335.4h0M432.3 328.0h0M358.1 367.4h0M425.7 362.2h0M451.7 410.0h0M467.7 363.0h0M367.1 378.8h0M496.1 354.8h0M458.8 391.0h0M360.4 371.5h0M474.4 423.6h0M364.9 398.7h0M387.5 410.3h0M413.9 384.5h0M489.6 391.9h0M433.0 341.6h0M449.0 339.5h0M484.6 347.0h0M377.3 377.0h0M493.0 382.0h0M372.1 331.9h0M477.8 321.1h0M495.0 382.0h0M504.6 328.0h0M461.9 362.9h0M360.1 342.4h0M409.7 378.8h0M496.5 327.2h0M383.5 323.5h0M508.9 421.2h0M476.1 396.7h0M494.1 351.8h0M492.3 409.9h0M409.4 359.2h0M486.4 364.4h0M461.9 371.2h0M407.9 367.4h0M449.4 401.0h0M381.5 394.6h0M474.3 320.7h0M455.7 413.7h0M377.4 345.8h0M440.6 397.2h0M369.2 351.6h0M439.7 408.8h0M501.9 365.3h0M495.7 327.1h0M472.6 349.6h0M418.4 401.4h0M505.6 399.7h0M381.4 356.5h0M486.0 369.8h0M357.4 363.7h0M498.4 378.4h0M490.0 423.8h0M441.2 418.3h0M465.6 342.8h0M379.4 339.7h0M414.1 370.4h0M409.6 376.6h0M481.8 357.6h0M409.6 411.2h0M425.3 381.5h0M392.4 412.5h0M481.2 326.9h0M381.1 335.7h0M366.7 320.1h0M492.9 425.1h0M411.2 389.3h0M507.9 359.5h0M499.6 399.3h0M377.7 324.3h0M452.7 419.4h0M499.9 329.9h0M470.7 338.9h0M421.2 335.8h0M374.1 395.2h0M470.9 418.4h0M457.4 396.1h0M506.6 376.9h0M363.5 353.3h0M386.5 372.3h0M459.6 381.6h0M472.5 365.4h0M358.2 343.6h0M474.6 344.4h0M491.2 424.6h0M449.3 402.7h0M428.7 359.7h0M382.6 421.7h0M495.2 346.1h0M453.0 392.2h0M436.2 425.0h0M463.5 383.1h0M460.6 421.2h0M500.3 349.8h0M428.0 383.3h0M452.7 367.6h0M369.8 385.6h0M389.0 356.0h0M358.2 340.8h0M360.1 385.7h0M414.2 341.7h0M489.7 341.3h0M464.2 387.8h0M445.8 404.5h0M449.4 336.7h0M370.3 401.1h0M352.5 408.5h0M444.9 321.9h0M363.5 342.4h0M419.2 366.3h0M454.6 362.9h0M426.0 393.6h0M485.4 414.3h0M354.9 398.5h0M362.2 321.8h0M470.7 357.3h0M456.9 350.7h0M416.4 389.4h0M452.4 337.1h0M512.4 327.8h0M507.7 419.7h0M445.7 355.0h0M385.4 330.2h0M440.6 412.4h0M457.8 350.3h0M447.3 374.6h0M500.1 372.6h0M457.6 363.8h0M366.3 327.5h0M367.4 369.3h0M387.0 338.4h0M459.5 405.0h0M461.6 411.8h0M506.6 334.8h0M441.3 413.9h0M424.5 329.7h0M402.2 398.4h0M359.1 405.3h0M502.6 331.4h0M368.5 378.3h0M354.7 350.3h0M444.8 377.4h0M447.1 361.2h0M447.8 415.9h0M453.5 359.8h0M510.9 418.3h0M367.2 417.0h0M504.2 349.9h0M400.2 397.6h0M464.7 334.7h0M429.8 389.7h0M425.0 386.3h0M463.3 392.1h0M511.7 409.7h0M387.6 339.7h0M415.8 349.0h0M477.6 413.6h0M470.4 325.9h0M483.5 399.9h0M510.5 420.4h0M459.3 351.9h0M510.0 354.9h0M374.7 324.5h0M455.0 404.8h0M378.1 338.9h0M511.8 414.5h0M456.6 416.5h0M452.6 411.9h0M384.3 325.5h0M477.7 407.4h0M400.5 382.4h0M445.6 334.9h0M469.4 417.8h0M362.8 324.4h0M376.8 325.5h0M499.5 407.3h0M387.8 417.5h0M375.5 330.6h0M425.1 424.9h0M376.3 342.1h0M501.2 333.3h0M486.2 344.9h0M385.3 341.1h0M371.5 331.3h0M460.4 327.5h0M410.8 361.6h0M438.5 365.9h0M507.7 352.4h0M445.0 346.0h0M395.7 362.2h0M472.1 350.5h0M397.4 405.0h0M408.0 381.9h0M357.6 396.6h0M422.5 408.7h0M380.3 331.2h0M379.4 334.3h0M362.0 371.5h0M415.9 342.0h0M374.6 352.5h0M466.4 337.8h0M413.9 417.3h0M392.1 395.6h0M488.8 353.7h0M453.1 399.0h0M416.5 424.5h0M362.7 369.1h0M508.4 368.2h0M411.7 397.5h0M443.5 340.9h0M507.0 338.3h0M491.3 345.0h0M459.5 404.3h0M419.5 337.5h0M430.6 332.3h0M412.2 355.6h0M485.3 342.1h0M467.9 337.8h0M512.4 353.0h0M360.1 338.4h0M360.2 339.5h0M423.2 356.0h0M500.5 361.9h0M353.9 403.2h0M467.1 362.9h0M365.3 366.0h0M442.4 399.1h0M427.0 398.7h0M441.7 348.8h0M437.3 343.2h0M458.4 324.0h0M384.5 328.2h0M496.8 340.2h0M497.7 344.0h0M455.2 418.9h0M359.8 382.4h0M505.9 354.5h0M448.0 354.4h0M502.1 372.8h0M497.7 332.5h0M492.3 396.2h0M393.4 377.3h0M472.7 400.1h0M401.4 384.8h0M368.8 367.3h0M382.9 331.0h0M462.8 344.4h0M432.2 396.4h0M440.1 349.7h0M433.8 342.6h0M366.9 340.4h0M356.5 361.0h0M435.3 356.3h0M492.8 424.3h0M421.0 423.8h0M453.1 348.0h0M477.2 386.8h0M465.0 347.2h0M401.7 386.3h0M451.6 363.3h0M511.5 339.2h0M438.4 392.9h0M427.3 364.0h0M470.6 344.6h0M384.5 333.9h0M382.9 332.1h0M490.3 375.2h0M371.9 416.1h0M400.9 374.2h0M414.8 352.3h0M412.7 412.1h0M475.7 395.9h0M457.3 334.5h0M426.7 396.9h0M505.9 383.6h0M390.5 321.1h0M425.7 342.0h0M378.5 363.1h0M484.9 414.9h0M458.4 412.1h0M501.4 420.3h0M499.2 345.5h0M475.7 324.2h0M375.3 329.5h0M475.3 339.5h0M506.7 349.6h0M418.9 377.2h0M401.7 405.5h0M493.1 393.5h0M424.7 368.2h0" stroke="#8a7c7c" stroke-width="0.8" stroke-linecap="round" stroke-opacity="0.2" fill="none"/>
<path d="M491.1 323.3h0M450.6 319.8h0M499.7 369.7h0M436.1 404.3h0M435.5 387.1h0M471.7 411.7h0M497.8 332.9h0M374.2 364.8h0M440.6 351.7h0M503.3 331.5h0M442.6 339.9h0M435.5 328.7h0M508.8 349.2h0M490.9 353.2h0M453.4 383.4h0M512.0 397.8h0M507.6 382.6h0M357.7 368.4h0M388.2 339.2h0M442.6 376.2h0M431.4 346.0h0M367.3 361.5h0M471.6 410.5h0M363.9 350.8h0M353.4 339.1h0M484.9 401.4h0M359.8 332.0h0M425.5 423.6h0M425.2 395.2h0M496.3 333.9h0M487.3 324.1h0M489.5 347.3h0M456.7 340.0h0M369.4 382.8h0M401.9 409.6h0M509.3 342.3h0M449.0 345.7h0M456.1 322.2h0M388.7 355.4h0M482.5 329.2h0M504.8 318.5h0M431.6 390.0h0M434.0 320.6h0M451.8 408.2h0M453.4 322.7h0M474.7 384.8h0M381.4 379.8h0M483.4 373.2h0M380.6 338.1h0M473.7 366.7h0M506.4 329.4h0M509.6 382.6h0M478.4 366.5h0M385.9 332.4h0M358.2 326.4h0M436.3 350.0h0M366.2 340.5h0M476.6 370.9h0M462.8 327.7h0M488.1 322.2h0M360.2 328.3h0M390.3 358.5h0M394.0 322.1h0M409.4 421.0h0M416.9 415.9h0M494.4 374.0h0M467.6 369.2h0M478.9 391.3h0M510.5 380.0h0M375.4 337.9h0M471.6 372.8h0M391.7 365.9h0M484.3 410.3h0M437.5 423.4h0M484.5 378.1h0M380.9 318.6h0M488.0 416.8h0M388.7 403.4h0M470.4 343.7h0M434.2 375.7h0M390.2 411.4h0M468.3 377.8h0M401.1 377.6h0M395.6 401.3h0M511.6 416.5h0M462.6 353.8h0M503.0 379.0h0M368.8 382.8h0M487.3 339.1h0M479.1 367.5h0M500.1 376.4h0M489.3 390.8h0M358.3 366.1h0M455.3 420.6h0M464.1 404.8h0M442.7 343.9h0M471.5 403.6h0M472.8 400.1h0M376.4 333.3h0M433.8 340.7h0M500.1 319.6h0M430.4 386.7h0M490.2 389.7h0M497.5 359.5h0M486.6 395.6h0M444.4 366.4h0M363.1 322.2h0M457.3 399.7h0M361.6 323.1h0M418.3 387.6h0M504.2 361.8h0M393.4 320.7h0M449.3 351.6h0M454.1 366.0h0M505.8 351.3h0M451.2 339.1h0M467.9 413.2h0M497.4 401.6h0M356.9 334.1h0M498.4 361.8h0M437.7 417.2h0M357.2 328.2h0M369.9 322.1h0M476.3 359.7h0M379.7 417.9h0M459.2 362.1h0M437.6 351.7h0M417.5 361.8h0M422.5 372.3h0M494.8 332.0h0M484.9 327.4h0M445.3 369.0h0M511.7 320.3h0M379.4 353.6h0M415.0 351.9h0M505.8 343.5h0M422.8 376.1h0M405.1 397.5h0M425.6 358.8h0M397.5 387.3h0M475.0 343.4h0M382.8 374.7h0M375.1 352.9h0M434.2 377.4h0M405.3 423.2h0M444.9 413.3h0M470.3 413.1h0M445.8 330.1h0M423.7 372.9h0M474.9 423.2h0M458.9 411.3h0M403.4 412.1h0M385.3 392.6h0M383.3 347.5h0M415.6 420.2h0M441.9 404.0h0M399.9 382.8h0M395.8 370.2h0M437.2 414.3h0M508.6 364.6h0M385.1 363.2h0M361.3 406.2h0M483.9 356.3h0M442.9 343.3h0M374.6 384.2h0M449.8 383.6h0M430.3 424.5h0M431.9 374.0h0M452.8 419.7h0M407.9 391.5h0M488.0 352.2h0M493.8 411.2h0M476.0 352.5h0M403.6 354.2h0M416.7 351.2h0M391.0 387.2h0M422.9 392.6h0M505.6 374.1h0M450.4 393.5h0M432.3 323.3h0M418.7 381.3h0M496.1 401.9h0M500.0 419.2h0M468.0 387.5h0M463.2 399.5h0M500.6 375.4h0M354.5 349.4h0M448.5 414.6h0M469.7 417.9h0M492.5 365.6h0M410.3 394.5h0M501.5 401.5h0M496.6 397.9h0M373.2 326.0h0M482.3 325.9h0M356.5 318.8h0M453.6 383.0h0M495.8 420.2h0M501.7 368.0h0M353.4 338.7h0M422.6 364.9h0M423.8 423.2h0M459.6 413.6h0M418.9 414.9h0M354.6 394.6h0M413.8 357.2h0M358.7 333.6h0M447.6 376.4h0M361.1 341.4h0M474.9 409.9h0M481.7 369.2h0M410.1 386.2h0M379.7 355.1h0M464.5 371.5h0M503.0 343.5h0M440.8 353.8h0M491.9 393.4h0M467.4 337.6h0M467.1 336.8h0M386.0 374.6h0M453.7 326.2h0M492.1 403.1h0M403.9 370.8h0M502.5 378.6h0M510.4 346.8h0M403.0 387.5h0M496.8 334.7h0M426.1 398.3h0M418.5 408.8h0M505.3 421.2h0M486.5 416.7h0M370.5 338.8h0M462.9 319.8h0M371.6 355.9h0M465.8 350.1h0M507.8 375.7h0M473.9 414.9h0M457.3 364.5h0M492.8 402.8h0M442.4 378.1h0M375.6 388.7h0M477.9 364.1h0M414.4 388.8h0M440.8 376.5h0M406.9 409.3h0M389.5 425.3h0M505.4 353.5h0M494.9 415.8h0M469.0 401.9h0M502.9 412.5h0M418.1 346.8h0M486.9 420.3h0M453.4 357.9h0M484.7 344.4h0M438.8 371.8h0M440.6 406.3h0M445.2 411.5h0M496.3 365.5h0M413.4 345.1h0M503.2 329.8h0M397.7 383.0h0M380.8 348.8h0M425.5 357.5h0M423.4 413.8h0M468.5 370.4h0M447.3 334.8h0M363.1 361.3h0M490.5 318.4h0M356.9 322.3h0M506.7 375.3h0M353.7 381.7h0M454.8 401.8h0M458.0 365.3h0M488.8 383.3h0M375.2 358.6h0M422.1 383.9h0M354.6 381.7h0M511.8 399.3h0M474.6 360.9h0M412.3 419.7h0M363.3 342.9h0M509.6 339.7h0M509.9 373.3h0M498.2 376.5h0M509.9 352.3h0M495.5 360.4h0M472.0 416.5h0M474.1 358.4h0M461.4 374.9h0M491.5 336.7h0M442.6 336.6h0M487.1 325.6h0M370.2 336.0h0M505.4 379.0h0M385.7 339.8h0M395.4 369.3h0M410.4 352.4h0M463.8 413.9h0M434.7 416.9h0M467.9 329.8h0M468.3 423.1h0M406.3 375.3h0M417.7 344.4h0M431.0 425.3h0M511.3 328.6h0M368.6 383.6h0M419.3 411.9h0M421.6 393.7h0M398.0 355.6h0M504.9 354.2h0M502.6 337.8h0M385.9 360.4h0M353.3 337.5h0M378.4 355.5h0M401.0 391.9h0M374.7 352.3h0M505.8 400.8h0M355.7 387.6h0M488.2 393.2h0M390.7 339.8h0M367.8 322.9h0M454.8 397.0h0M444.7 409.9h0M449.2 324.3h0M464.8 371.8h0M477.9 370.5h0M413.7 352.5h0M422.6 332.9h0M492.2 384.7h0M481.9 397.0h0M385.3 341.8h0M370.6 322.8h0M499.0 340.1h0M472.2 392.0h0M410.8 410.2h0M489.7 380.5h0M445.1 372.5h0M448.9 421.7h0M491.9 374.0h0M361.0 336.2h0M379.4 354.0h0M445.7 335.9h0M400.6 318.7h0M480.8 411.2h0M432.1 347.3h0M401.1 401.9h0M421.3 380.7h0M474.2 364.7h0M455.5 376.4h0M462.6 320.1h0M358.3 339.9h0M461.4 389.0h0M372.7 327.6h0M501.1 359.8h0M460.8 357.9h0M371.2 350.0h0M492.5 391.8h0M393.1 411.7h0M402.8 326.4h0M490.9 418.7h0M386.1 344.8h0M484.0 385.5h0M448.9 421.2h0M379.8 361.8h0M369.9 353.3h0M361.9 356.1h0M511.1 338.5h0M500.9 385.2h0M358.8 361.9h0M375.3 377.7h0M385.0 390.3h0M510.3 418.7h0M425.6 392.0h0M488.1 358.2h0M420.1 354.2h0M407.5 400.6h0M477.8 364.7h0M418.6 424.6h0M497.3 338.7h0M463.9 376.1h0M436.2 348.6h0M505.0 363.3h0M478.1 345.0h0M462.9 408.9h0M440.4 416.0h0M434.9 336.5h0M474.7 328.8h0M472.7 332.8h0M438.0 329.1h0M461.1 416.0h0M474.6 398.2h0M383.0 324.7h0M400.5 375.2h0M480.8 389.8h0M436.7 421.4h0M358.4 383.2h0M488.1 333.0h0M454.1 385.5h0M396.4 347.7h0M499.0 359.3h0M428.2 393.2h0M468.2 335.6h0M511.0 373.7h0M449.1 320.6h0M484.3 368.3h0M505.8 329.2h0M380.1 326.3h0M440.3 357.5h0M459.4 388.0h0M473.7 347.8h0M503.2 418.6h0M392.9 409.4h0M353.7 401.4h0M428.2 360.2h0M417.1 354.9h0M397.6 342.5h0M374.1 365.3h0M454.8 388.9h0M511.6 396.9h0M382.1 327.3h0M484.0 353.1h0M449.5 392.3h0M450.7 409.3h0M356.2 365.6h0M432.5 398.5h0M469.4 354.3h0M454.6 338.4h0M453.1 422.7h0M355.8 338.6h0M444.9 369.0h0M435.0 381.0h0M434.5 359.3h0M496.2 422.1h0M372.5 391.8h0M507.7 393.4h0M392.2 372.8h0M492.0 409.9h0M423.4 357.6h0M431.1 323.3h0M400.1 400.6h0M357.0 346.7h0M357.1 390.0h0M436.6 360.3h0M411.1 392.2h0M504.8 323.1h0M418.3 409.1h0M492.1 375.9h0M460.9 394.6h0M467.4 321.8h0M448.3 325.5h0M506.9 340.7h0M450.5 394.1h0M380.2 399.0h0M418.8 365.3h0M500.8 348.2h0M354.1 331.3h0M374.8 359.3h0M353.6 402.0h0M495.7 348.9h0M434.5 382.3h0M457.6 354.9h0M470.5 389.5h0M497.7 373.2h0M465.6 336.3h0M403.1 369.9h0M483.7 357.0h0M458.7 363.7h0M363.0 322.4h0M430.9 358.2h0M364.3 332.9h0M379.2 328.1h0M429.3 354.0h0M397.1 345.2h0M409.5 390.7h0M505.4 402.6h0M374.9 328.9h0M355.6 337.3h0M367.9 374.2h0M503.2 358.1h0M483.5 358.6h0M467.4 418.5h0M493.8 348.4h0M506.2 421.3h0M489.0 417.7h0M473.7 333.3h0M482.6 385.8h0M495.5 346.7h0M353.9 413.1h0M399.2 404.3h0M445.6 350.0h0M433.4 345.6h0M355.2 407.6h0M492.1 341.9h0M432.5 350.0h0M394.6 420.1h0M454.2 405.3h0M465.1 367.2h0M491.3 350.6h0M490.3 384.1h0M510.7 356.0h0M417.4 348.1h0M507.4 375.9h0M452.0 359.5h0M501.8 394.9h0M438.0 345.7h0M358.8 408.0h0M495.7 342.5h0M412.6 370.1h0M511.5 347.7h0M376.4 343.9h0M416.6 321.1h0M356.6 379.9h0M432.4 418.3h0M414.5 387.3h0M489.3 321.4h0M419.3 326.2h0M426.6 421.6h0M424.9 346.6h0M451.5 328.7h0M462.7 350.9h0M462.3 416.5h0M379.1 335.3h0M464.7 413.3h0M474.0 415.5h0M458.0 421.8h0M390.5 337.4h0M366.1 383.3h0M508.7 368.8h0M401.0 388.6h0M416.2 402.0h0M499.1 364.6h0M394.3 392.2h0M495.1 350.8h0M511.9 374.5h0M467.3 399.8h0M409.3 395.7h0M354.6 406.2h0M479.3 410.1h0M402.1 373.8h0M471.0 334.6h0M398.3 402.7h0" stroke="#8a7c7c" stroke-width="0.8" stroke-linecap="round" stroke-opacity="0.3" fill="none"/>
<path d="M429.9 378.5h0M477.4 403.0h0M395.1 402.0h0M488.8 423.7h0M432.1 408.4h0M476.2 341.6h0M374.8 321.1h0M367.1 329.0h0M435.2 338.8h0M465.0 345.0h0M462.6 392.4h0M379.0 368.3h0M417.9 342.8h0M364.3 333.5h0M444.7 407.7h0M359.6 367.3h0M479.6 386.0h0M404.4 373.5h0M420.0 397.8h0M477.1 354.4h0M370.4 358.1h0M493.7 382.7h0M354.2 351.7h0M412.8 390.7h0M419.6 382.8h0M511.8 349.9h0M474.1 367.6h0M407.1 357.9h0M470.9 352.6h0M375.9 421.0h0M490.4 324.9h0M435.6 343.5h0M458.7 370.7h0M435.3 385.2h0M359.6 339.1h0M379.0 324.7h0M419.1 392.4h0M456.4 417.1h0M354.7 349.2h0M436.2 365.0h0M361.3 402.2h0M384.7 323.5h0M479.7 418.3h0M473.4 346.6h0M470.7 386.7h0M381.2 328.1h0M411.6 397.8h0M426.0 372.9h0M461.4 340.0h0M437.2 324.9h0M405.3 404.1h0M485.6 326.9h0M442.4 416.7h0M400.2 405.5h0M492.4 416.6h0M454.6 420.4h0M436.5 338.3h0M507.9 360.2h0M486.0 375.7h0M488.7 369.7h0M424.2 402.8h0M423.8 371.2h0M389.5 336.9h0M439.0 343.8h0M472.6 420.9h0M373.6 356.5h0M442.0 389.7h0M486.2 385.0h0M382.6 419.0h0M403.0 395.6h0M393.2 322.1h0M511.2 332.2h0M474.3 328.6h0M503.4 367.5h0M490.3 364.6h0M365.3 340.5h0M406.6 420.1h0M430.0 371.6h0M427.6 410.3h0M453.5 412.0h0M378.8 325.8h0M429.3 416.3h0M440.8 322.1h0M398.5 388.7h0M479.3 335.9h0M376.4 348.5h0M489.9 387.8h0M381.5 350.6h0M410.6 394.6h0M364.7 342.5h0M426.8 375.8h0M400.3 402.3h0M502.5 414.4h0M412.2 412.6h0M381.1 356.1h0M420.0 423.7h0M441.8 341.3h0M483.9 370.6h0M431.2 335.3h0M472.2 321.4h0M478.8 327.1h0M374.5 349.4h0M356.9 390.3h0M510.5 347.2h0M426.8 380.6h0M442.9 421.2h0M453.1 340.8h0M495.4 339.2h0M393.1 383.2h0M435.2 397.5h0M432.4 368.1h0M508.3 372.2h0M499.8 354.1h0M505.8 357.8h0M386.6 328.7h0M481.4 405.9h0M400.3 320.0h0M416.1 349.2h0M408.8 390.7h0M503.5 350.9h0M355.5 409.5h0M507.0 342.6h0M511.6 373.3h0M357.4 385.7h0M463.6 352.9h0M509.0 402.4h0M492.4 424.4h0M463.8 359.6h0M503.5 369.2h0M447.3 338.3h0M377.4 345.4h0M451.4 323.5h0M477.8 396.9h0M420.9 385.2h0M383.8 410.9h0M502.5 365.7h0M490.1 372.5h0M352.7 328.0h0M458.4 414.2h0M375.9 357.0h0M376.8 347.7h0M423.4 425.1h0M492.8 395.7h0M437.5 417.1h0M475.5 385.2h0M458.9 326.3h0M450.3 348.6h0M445.1 389.0h0M436.7 379.8h0M480.4 335.1h0M464.8 344.2h0M507.6 383.6h0M488.5 325.6h0M403.4 420.7h0M432.8 350.0h0M393.5 391.1h0M363.4 381.0h0M506.9 400.4h0M391.1 414.2h0M431.9 357.8h0M367.9 383.4h0M364.8 386.0h0M428.0 361.6h0" stroke="#8a7c7c" stroke-width="0.8" stroke-linecap="round" stroke-opacity="0.4" fill="none"/>
<path d="M439.3 384.1h0M384.0 344.2h0M479.2 320.1h0M360.0 388.3h0M491.1 358.2h0M362.7 371.6h0M476.9 364.8h0M503.0 386.2h0M377.4 395.6h0M461.0 407.2h0M503.0 391.0h0M441.8 328.9h0M458.3 386.7h0M360.9 349.5h0M433.7 346.7h0M501.7 358.8h0M469.8 327.9h0M386.6 323.6h0M444.7 361.9h0M433.3 348.0h0M435.0 331.0h0M458.4 408.6h0M489.5 343.6h0M455.7 409.8h0M504.5 424.9h0M457.4 350.8h0M398.9 376.4h0M427.3 349.4h0M462.5 417.9h0M502.4 359.8h0M487.8 348.7h0M504.6 344.7h0M414.8 406.6h0M445.5 380.8h0M417.4 372.9h0M356.4 420.8h0M466.2 398.9h0M397.0 412.1h0M475.3 400.6h0M434.6 336.8h0M472.5 381.0h0M441.6 338.5h0M500.9 340.8h0M358.2 366.4h0M430.0 393.9h0M397.2 326.8h0M445.7 367.0h0M437.0 376.0h0M415.9 360.9h0M466.7 396.0h0M479.9 380.8h0M493.7 324.8h0M428.8 330.2h0M452.9 348.3h0M499.2 340.2h0M379.3 345.8h0M384.9 327.0h0M449.2 358.8h0M466.9 404.1h0M510.3 378.6h0M475.0 424.8h0M379.9 360.7h0M491.7 399.1h0M426.1 321.8h0M433.6 370.6h0M390.3 336.8h0M497.4 321.1h0M379.7 334.9h0M375.8 386.4h0M450.4 401.9h0M434.2 392.7h0M381.8 334.6h0M508.2 384.1h0M364.5 394.7h0M494.0 414.3h0M456.6 388.8h0M410.8 352.7h0M422.3 413.6h0M393.4 399.5h0M468.1 342.5h0M460.3 403.2h0M429.5 390.0h0M458.5 319.3h0M376.6 365.5h0M433.6 402.3h0M425.8 335.8h0M493.1 388.7h0M484.9 371.6h0M490.3 355.6h0M357.9 385.6h0M511.1 356.5h0M360.6 403.3h0M429.5 354.3h0M504.7 395.7h0M394.6 385.6h0M505.8 399.6h0M454.0 371.2h0M448.0 405.0h0M448.5 411.4h0M358.3 342.1h0M393.2 327.1h0M485.5 378.0h0M499.2 410.1h0M464.8 349.6h0M463.8 350.7h0M496.3 354.5h0M408.7 409.5h0M404.0 383.5h0M364.6 389.3h0M505.6 406.9h0M484.7 407.2h0M377.3 346.6h0M432.6 422.9h0M378.8 378.3h0M424.4 363.1h0M444.1 395.3h0M386.1 392.9h0M498.3 324.4h0M424.7 425.0h0M459.5 387.5h0M415.2 350.5h0M447.2 401.2h0M386.3 356.4h0M466.6 423.8h0M398.1 392.3h0M456.9 340.8h0M439.4 373.9h0M426.8 390.5h0M367.7 356.5h0M460.2 406.7h0M399.3 403.2h0M356.6 350.1h0M495.1 408.6h0M405.4 383.5h0M425.7 393.7h0M438.9 421.5h0M354.4 394.8h0M425.3 342.0h0M353.4 408.5h0M389.9 422.6h0M444.5 411.6h0M411.2 381.2h0M409.4 383.5h0M453.2 424.9h0M494.9 387.6h0M360.2 376.5h0" stroke="#8a7c7c" stroke-width="1.0" stroke-linecap="round" stroke-opacity="0.1" fill="none"/>
<path d="M486.9 389.3h0M483.7 424.1h0M512.4 336.9h0M369.1 358.5h0M464.6 328.0h0M370.5 373.6h0M482.0 372.7h0M414.8 401.9h0M484.3 397.0h0M472.6 416.9h0M357.6 375.3h0M356.4 351.9h0M442.8 319.4h0M378.0 346.7h0M386.2 346.0h0M373.6 400.5h0M489.7 419.1h0M357.5 407.5h0M381.9 347.4h0M498.5 400.4h0M384.1 387.7h0M498.2 366.3h0M388.7 404.4h0M453.8 356.6h0M469.5 361.7h0M487.1 362.9h0M465.4 405.2h0M465.1 358.4h0M467.6 374.6h0M473.9 330.6h0M476.8 355.0h0M486.0 394.9h0M449.7 401.1h0M469.8 348.2h0M371.7 367.1h0M380.3 328.9h0M499.6 420.2h0M494.0 344.8h0M446.9 400.2h0M369.6 386.5h0M511.7 358.0h0M464.4 368.1h0M447.4 324.7h0M496.3 405.6h0M451.6 407.4h0M382.6 336.6h0M506.0 380.3h0M473.9 353.2h0M397.0 319.9h0M410.3 423.0h0M458.5 418.7h0M421.1 384.5h0M426.3 422.5h0M488.5 338.0h0M387.5 320.4h0M376.2 342.2h0M511.0 325.5h0M471.4 367.9h0M363.3 380.4h0M461.3 368.5h0M442.8 362.7h0M474.8 355.9h0M354.3 375.6h0M417.7 394.4h0M366.7 360.2h0M448.7 336.8h0M373.2 381.1h0M436.4 375.8h0M508.8 400.6h0M469.7 421.2h0M396.6 409.2h0M441.4 392.5h0M511.9 346.1h0M484.4 419.0h0M493.7 337.8h0M427.9 360.3h0M403.4 420.8h0M444.9 424.2h0M511.3 352.9h0M445.0 320.8h0M442.5 390.3h0M410.0 401.3h0M354.9 381.4h0M381.8 339.2h0M499.5 360.5h0M402.7 321.1h0M459.5 371.2h0M425.8 368.7h0M489.2 353.9h0M409.5 354.2h0M474.5 370.5h0M488.4 350.4h0M460.0 397.3h0M389.9 335.1h0M459.5 371.7h0M442.6 380.9h0M425.5 373.5h0M463.1 396.0h0M496.4 381.9h0M400.7 365.1h0M382.8 337.1h0M454.9 331.9h0M457.7 389.8h0M479.1 329.6h0M403.1 389.9h0M511.6 381.6h0M364.9 348.5h0M438.9 420.5h0M493.8 382.9h0M355.1 320.6h0M419.2 408.7h0M504.9 360.9h0M468.7 355.1h0M492.6 384.1h0M475.2 329.5h0M473.1 414.3h0M471.2 357.0h0M455.0 363.8h0M495.9 367.4h0M511.6 355.0h0M468.3 420.4h0M354.5 379.5h0M439.4 425.4h0M497.3 329.0h0M373.4 371.4h0M355.2 359.1h0M442.2 320.6h0M392.4 385.3h0M414.3 404.2h0M363.3 391.3h0M487.9 356.5h0M449.8 414.0h0M434.3 357.4h0M474.2 338.8h0M378.0 347.2h0M453.1 420.4h0M353.7 355.8h0M482.2 412.2h0M446.2 347.9h0M455.0 385.8h0M493.4 331.9h0M375.2 399.9h0M414.2 359.7h0M499.3 356.8h0M459.5 389.3h0M408.6 383.9h0M425.2 330.2h0M357.2 333.1h0M358.6 404.8h0M358.1 331.3h0M488.3 353.5h0M388.1 352.1h0M489.1 376.9h0M486.5 333.4h0M447.7 388.6h0M371.1 343.3h0M464.3 408.6h0M434.7 332.3h0M463.3 377.1h0M462.9 377.1h0M465.7 354.3h0M465.3 356.8h0M491.8 410.4h0M475.2 378.8h0M365.2 425.3h0M362.1 353.3h0M415.6 404.3h0M446.4 369.9h0M473.3 375.7h0M407.7 388.7h0M422.4 343.6h0M419.1 414.8h0M369.2 372.2h0M466.1 347.0h0M417.0 419.4h0M426.8 325.7h0M413.5 416.9h0M441.4 362.0h0M502.9 424.2h0M501.1 362.5h0M449.6 412.3h0M460.8 410.2h0M450.1 384.6h0M488.0 374.9h0M439.6 412.2h0M481.9 392.4h0M503.0 381.4h0M481.9 337.3h0M386.6 353.9h0M391.7 402.8h0M357.9 386.3h0M496.3 355.5h0M502.1 373.5h0M497.7 377.0h0M446.5 367.0h0M408.9 407.1h0M393.5 399.3h0M399.7 401.4h0M461.7 335.2h0M435.6 322.8h0M503.1 368.2h0M404.1 360.8h0M421.2 414.3h0M354.8 348.6h0M388.7 389.2h0M368.9 354.9h0M441.9 378.8h0M403.6 326.9h0M395.7 328.4h0M469.1 406.5h0M427.5 412.3h0M407.9 399.2h0M475.1 381.9h0M414.9 411.9h0M455.5 399.7h0M412.5 389.1h0M407.1 365.3h0M460.7 413.2h0M413.6 374.1h0M474.6 360.4h0M394.1 332.5h0M492.7 384.9h0M397.5 384.9h0M389.9 382.1h0M449.4 405.7h0M497.9 364.2h0M458.2 421.9h0M490.2 424.0h0M392.8 406.4h0M475.8 377.2h0M421.4 343.3h0M429.5 353.1h0M354.5 395.0h0M421.6 328.8h0M404.7 362.9h0M496.9 400.6h0M506.4 343.5h0M416.0 415.1h0M495.2 366.0h0M372.5 340.2h0M422.4 417.2h0M357.4 393.0h0M383.1 375.1h0M392.8 417.0h0M485.6 413.4h0M430.7 341.1h0M382.1 339.9h0M510.1 389.3h0M357.4 363.8h0M431.6 396.8h0M496.5 336.8h0M484.5 365.2h0M511.9 327.4h0M462.2 418.1h0M481.5 369.2h0M388.0 406.5h0M444.1 393.1h0M438.9 419.2h0M448.4 348.1h0M463.3 400.6h0M463.2 366.8h0M504.5 391.9h0M482.6 417.8h0M422.7 345.6h0M419.8 364.3h0M414.9 415.8h0M438.9 350.2h0M393.3 416.1h0M445.4 381.1h0M486.2 405.9h0M461.8 386.7h0M438.9 349.4h0M491.1 340.4h0M450.0 391.5h0M410.2 398.1h0M423.7 380.3h0M452.5 355.9h0" stroke="#8a7c7c" stroke-width="1.0" stroke-linecap="round" stroke-opacity="0.2" fill="none"/>
<path d="M455.3 381.7h0M447.4 415.6h0M433.3 405.5h0M476.7 383.5h0M469.8 320.8h0M452.8 350.4h0M390.5 415.8h0M440.4 418.1h0M441.1 396.2h0M485.9 360.1h0M431.7 334.7h0M503.5 396.1h0M415.7 351.7h0M501.8 409.4h0M498.6 350.3h0M361.1 384.1h0M449.5 334.8h0M497.6 410.9h0M441.4 416.8h0M488.6 380.3h0M480.3 359.3h0M356.8 335.5h0M422.3 382.8h0M487.4 344.7h0M463.2 387.7h0M396.9 360.3h0M502.1 369.8h0M491.7 354.4h0M480.4 375.5h0M480.4 341.3h0M411.7 407.2h0M466.9 410.9h0M407.7 397.3h0M493.7 391.6h0M464.0 328.7h0M469.2 393.9h0M360.9 362.8h0M374.8 336.9h0M497.6 326.0h0M419.5 374.7h0M415.8 405.5h0M370.5 318.7h0M422.8 337.3h0M434.5 411.0h0M353.6 351.9h0M461.1 319.0h0M489.0 337.0h0M385.6 331.9h0M506.4 352.9h0M443.0 348.0h0M508.2 321.6h0M407.4 386.9h0M443.1 364.4h0M380.1 345.4h0M473.4 378.9h0M482.4 372.9h0M363.2 358.5h0M490.7 327.2h0M485.0 370.2h0M425.0 413.2h0M455.9 391.3h0M392.4 396.9h0M369.2 340.4h0M388.3 343.7h0M506.6 412.7h0M445.4 334.4h0M476.8 385.2h0M473.5 366.6h0M463.9 361.9h0M489.7 355.6h0M444.3 406.4h0M426.6 399.5h0M423.2 357.9h0M359.8 402.1h0M468.7 329.8h0M453.5 345.2h0M420.3 321.8h0M448.5 342.6h0M368.2 319.3h0M473.6 395.3h0M387.9 371.7h0M368.1 375.2h0M404.7 376.8h0M479.8 356.1h0M459.7 388.8h0M457.9 415.9h0M504.2 424.5h0M425.6 356.5h0M440.4 393.4h0M475.5 357.9h0M399.2 319.2h0M445.4 345.2h0M489.4 388.5h0M353.8 421.3h0M425.2 395.9h0M453.4 341.0h0M488.0 344.9h0M470.4 396.0h0M359.1 324.0h0M360.4 344.9h0M460.5 401.5h0M414.5 336.9h0M467.5 322.3h0M371.9 370.7h0M492.2 375.5h0M366.2 376.9h0M482.3 359.8h0M502.6 382.3h0M459.8 398.2h0M440.5 333.7h0M479.8 385.0h0M484.7 335.9h0M406.3 385.7h0M372.8 390.7h0M353.6 338.0h0M360.1 394.5h0M459.6 336.4h0M418.1 369.9h0M379.7 328.4h0M449.5 413.6h0M385.8 326.5h0M436.3 425.3h0M445.4 328.7h0M483.2 361.7h0M427.4 373.3h0M473.2 389.2h0M445.7 342.3h0M443.4 381.3h0M411.2 388.6h0M358.0 343.1h0M445.9 334.0h0M360.8 348.9h0M404.3 365.8h0M407.2 372.3h0M468.4 353.6h0M437.9 357.7h0M367.4 385.8h0M491.1 379.8h0M455.1 363.0h0M430.3 364.6h0M390.3 356.9h0M371.6 368.0h0M472.7 326.6h0M510.1 365.2h0M365.3 333.4h0M486.3 371.6h0M354.0 409.8h0M439.3 376.2h0M478.9 367.5h0M480.3 418.5h0M380.7 322.2h0M383.6 347.0h0M498.4 374.6h0M383.2 341.7h0M368.8 383.6h0M364.0 329.7h0M497.4 383.0h0M369.0 413.8h0M402.2 369.9h0M496.9 421.9h0M506.0 383.4h0M411.5 370.4h0M462.5 329.0h0M370.0 421.6h0M479.7 375.1h0M413.1 390.4h0M429.7 324.3h0M495.5 403.4h0M475.0 362.5h0M488.5 392.2h0M469.5 404.7h0M489.6 414.0h0M490.1 318.6h0M426.4 325.4h0M468.3 334.5h0M511.8 334.1h0M404.2 329.9h0M415.6 342.9h0M360.0 410.1h0M462.7 424.6h0M440.7 418.4h0M385.5 320.6h0M431.4 349.5h0M420.6 334.1h0M480.5 404.1h0M384.0 327.7h0M486.7 376.3h0M427.3 413.3h0M410.6 355.9h0M465.3 353.7h0M498.3 338.9h0M356.5 396.9h0M363.4 321.1h0M497.3 405.2h0M436.7 418.4h0M493.0 362.8h0M356.0 395.8h0M448.1 400.3h0M454.4 382.3h0M462.1 397.7h0M445.1 360.4h0M493.4 394.4h0M364.5 376.0h0M396.6 318.7h0M406.7 394.5h0M477.6 326.5h0M391.1 390.2h0M496.5 386.3h0M406.0 319.7h0M407.8 383.8h0M457.1 343.3h0M467.9 382.5h0M362.3 318.7h0M399.2 377.5h0M364.3 381.2h0M462.1 331.7h0M409.5 411.6h0M414.0 367.7h0M357.7 332.2h0M482.0 336.2h0M454.7 325.5h0M497.1 345.0h0M505.5 364.3h0M483.8 327.3h0M425.0 382.9h0M465.6 420.0h0M471.3 401.3h0M441.0 392.5h0M377.2 368.5h0M470.4 405.0h0M463.1 356.0h0M475.2 318.5h0M390.1 373.8h0M488.6 334.3h0M439.1 416.1h0M354.7 385.9h0M456.2 409.7h0M386.7 348.5h0M420.7 380.1h0M439.3 352.5h0M382.4 352.3h0M430.3 331.0h0M476.8 383.3h0M401.2 402.3h0M395.3 416.7h0M498.2 354.7h0M421.7 357.4h0M364.5 394.5h0M414.7 407.4h0M492.4 358.4h0M477.6 410.0h0M399.4 319.3h0M376.8 368.0h0M445.3 340.5h0M482.8 343.7h0M432.7 377.0h0M467.1 367.2h0M470.5 355.5h0M493.7 420.8h0M425.0 336.4h0M430.1 323.9h0M492.2 352.9h0M475.5 375.8h0M410.9 351.6h0M478.9 335.5h0M504.2 420.2h0M390.7 413.6h0M404.3 401.7h0M417.6 369.6h0M396.4 383.5h0M364.1 349.1h0" stroke="#8a7c7c" stroke-width="1.0" stroke-linecap="round" stroke-opacity="0.3" fill="none"/>
<path d="M512.4 362.9h0M441.4 408.0h0M484.1 331.6h0M449.9 399.3h0M471.5 416.1h0M358.3 319.8h0M509.5 318.7h0M364.5 365.7h0M509.7 322.4h0M466.4 399.2h0M366.1 351.6h0M364.6 364.2h0M392.0 346.8h0M499.1 380.3h0M439.6 388.5h0M413.7 393.3h0M447.2 349.0h0M395.4 342.2h0M401.9 339.2h0M358.3 410.4h0M399.2 392.3h0M485.6 375.0h0M507.1 352.7h0M434.0 332.9h0M475.8 351.0h0M472.5 383.3h0M411.5 411.1h0M504.5 378.3h0M509.2 403.5h0M441.9 381.8h0M424.8 413.4h0M474.6 322.9h0M498.3 349.5h0M472.0 323.3h0M444.2 405.0h0M492.1 331.9h0M452.2 424.0h0M490.9 327.9h0M458.3 368.6h0M427.7 371.5h0M498.8 322.1h0M441.2 364.6h0M420.6 360.7h0M357.9 410.0h0M456.4 353.0h0M417.2 383.9h0M392.0 416.8h0M480.1 387.0h0M472.5 420.7h0M483.9 343.7h0M367.0 377.1h0M355.3 352.5h0M476.3 324.9h0M387.4 346.0h0M420.2 424.8h0M434.5 402.3h0M474.3 366.1h0M506.3 413.1h0M449.2 364.3h0M456.8 380.3h0M393.8 419.1h0M435.6 403.9h0M418.8 376.7h0M456.9 338.8h0M383.4 406.5h0M440.1 382.0h0M500.1 408.7h0M464.6 326.4h0M446.9 355.2h0M440.8 372.2h0M429.7 325.7h0M365.0 374.4h0M434.8 411.3h0M402.0 324.9h0M390.5 397.8h0M386.1 359.8h0M456.2 395.2h0M453.1 388.4h0M508.9 420.0h0M499.3 319.7h0M356.9 379.2h0" stroke="#8a7c7c" stroke-width="1.0" stroke-linecap="round" stroke-opacity="0.4" fill="none"/>
<path d="M449.0 391.6h0M476.8 343.2h0M462.0 378.3h0M440.5 388.6h0M496.9 395.0h0M413.2 409.9h0M465.6 323.8h0M437.9 380.4h0M493.8 327.6h0M507.4 332.3h0M442.4 397.9h0M381.3 350.9h0M406.9 388.7h0M474.3 410.8h0M385.1 421.5h0M465.1 389.9h0M469.1 416.8h0M508.7 400.2h0M380.1 324.6h0M388.1 399.2h0M490.1 392.6h0M489.6 386.9h0M430.9 399.2h0M507.3 363.1h0M486.3 335.8h0M507.4 363.5h0M427.3 416.6h0" stroke="#b07068" stroke-width="0.8" stroke-linecap="round" stroke-opacity="0.2" fill="none"/>
<path d="M424.1 389.1h0M415.6 340.3h0M363.4 359.1h0M468.2 328.2h0M396.3 392.9h0M505.3 405.7h0M426.8 404.1h0M492.3 353.5h0M467.5 347.1h0M507.2 391.8h0M416.0 343.4h0M420.1 384.9h0M498.3 365.1h0M463.7 358.4h0M353.0 382.4h0M505.3 415.7h0M485.3 329.6h0M499.7 321.5h0M370.1 415.6h0M434.6 320.8h0M442.8 322.8h0M431.0 410.7h0M446.4 334.9h0M488.4 391.0h0M417.2 379.4h0M444.4 370.5h0M439.4 402.2h0M364.7 371.9h0M364.8 418.3h0M384.4 420.0h0M426.9 420.5h0M458.8 389.2h0M468.3 403.6h0M471.6 337.9h0M438.8 361.0h0M456.7 355.8h0" stroke="#b07068" stroke-width="0.8" stroke-linecap="round" stroke-opacity="0.3" fill="none"/>
<path d="M352.7 328.3h0M459.2 408.5h0M387.1 405.5h0M379.0 324.4h0M378.6 337.0h0M380.9 335.6h0M359.8 359.9h0M451.2 333.2h0M491.7 328.6h0M473.1 372.8h0M381.2 339.6h0M410.7 401.7h0M428.1 409.6h0M509.8 340.0h0M392.3 339.5h0M507.1 338.4h0M502.6 378.4h0M460.5 349.2h0M433.9 325.6h0M356.8 414.0h0M462.2 334.5h0M505.9 369.4h0" stroke="#b07068" stroke-width="0.8" stroke-linecap="round" stroke-opacity="0.4" fill="none"/>
<path d="M498.1 349.0h0M376.5 365.0h0M437.3 393.7h0M431.5 409.9h0M490.3 399.0h0M459.5 397.5h0M417.8 366.0h0M375.0 325.3h0M476.5 378.7h0M497.7 369.9h0M486.0 375.7h0M421.4 374.6h0M402.4 406.4h0M497.0 420.8h0M505.7 324.8h0M373.2 321.6h0M468.9 412.7h0M452.4 332.0h0M471.8 328.7h0M511.6 387.2h0M355.7 319.8h0M472.6 356.6h0M425.4 369.5h0M394.9 342.1h0M479.2 339.4h0M420.4 326.8h0M437.3 343.4h0M441.5 381.2h0M448.3 385.9h0M396.3 322.4h0M407.4 338.2h0M384.6 333.9h0M416.9 358.2h0M359.0 366.3h0M355.7 407.8h0M505.9 375.8h0M491.9 381.2h0M472.6 320.9h0M411.5 378.2h0M360.4 351.5h0" stroke="#b07068" stroke-width="1.0" stroke-linecap="round" stroke-opacity="0.2" fill="none"/>
<path d="M415.7 415.6h0M440.4 413.7h0M501.7 357.8h0M445.9 330.9h0M418.7 350.5h0M377.3 332.7h0M510.1 401.7h0M409.8 342.4h0M468.1 321.2h0M469.1 414.3h0M407.1 410.4h0M478.3 402.5h0M403.8 385.0h0M459.0 392.7h0M434.4 333.0h0M363.2 352.8h0M441.9 387.1h0M456.7 405.5h0M404.4 389.2h0M353.6 355.7h0M403.9 395.4h0M376.4 339.3h0M484.4 335.3h0M510.3 349.6h0M445.1 359.8h0M373.9 347.8h0M370.5 369.8h0M364.8 342.4h0M431.1 413.6h0M448.3 382.4h0M415.0 414.2h0M463.5 344.7h0M432.1 336.8h0M428.0 357.7h0M470.8 335.5h0" stroke="#b07068" stroke-width="1.0" stroke-linecap="round" stroke-opacity="0.3" fill="none"/>
<path d="M394.6 327.0h0M406.4 424.3h0M467.8 352.0h0M451.3 356.2h0M484.3 409.9h0M491.6 358.4h0M362.1 368.4h0M442.5 332.7h0M467.6 422.4h0M413.7 373.5h0M477.5 324.5h0M466.8 330.8h0M495.3 407.7h0M510.7 421.9h0M448.9 369.2h0M439.8 422.6h0M403.4 347.6h0M359.1 401.4h0M439.0 322.6h0M503.8 358.8h0M461.0 391.1h0M381.4 351.7h0M477.8 372.3h0M404.6 391.2h0M498.1 357.2h0M402.7 398.6h0M403.4 417.9h0M373.5 391.0h0M353.0 349.5h0M502.4 424.8h0" stroke="#b07068" stroke-width="1.0" stroke-linecap="round" stroke-opacity="0.4" fill="none"/>
<path d="M504.4 408.1h0M511.6 357.6h0M453.6 365.6h0M464.4 332.5h0M459.4 322.0h0M400.0 410.9h0M475.7 335.9h0M493.1 379.4h0M400.8 421.0h0M441.7 342.4h0M415.7 335.1h0M433.1 322.8h0M423.5 382.4h0M352.5 324.6h0M494.7 360.9h0M369.4 340.5h0M465.6 411.2h0M369.8 318.6h0M457.6 413.6h0M389.9 329.6h0M427.8 395.9h0M416.2 422.1h0M461.6 351.0h0M392.4 407.3h0M446.5 373.8h0M465.3 381.6h0M390.6 424.9h0M390.1 416.7h0M384.2 341.5h0M422.5 384.9h0M452.3 341.2h0M487.2 349.7h0M375.7 337.2h0M426.1 377.5h0M445.4 391.3h0M476.9 363.3h0M490.0 376.9h0" stroke="#b07068" stroke-width="1.2" stroke-linecap="round" stroke-opacity="0.2" fill="none"/>
<path d="M431.7 324.4h0M493.8 418.5h0M503.8 400.3h0M482.5 357.0h0M372.7 366.3h0M382.0 319.9h0M432.7 381.0h0M405.7 385.8h0M425.1 416.4h0M378.2 325.1h0M426.5 412.6h0M385.6 423.3h0M461.3 353.2h0M466.2 340.1h0M448.6 352.9h0M437.2 404.2h0M393.1 422.0h0M492.7 330.9h0M491.8 331.0h0M441.0 387.0h0M411.1 365.0h0M435.8 419.3h0M394.8 348.8h0M472.5 325.4h0M459.8 347.8h0M499.0 407.5h0M414.2 413.4h0M481.5 360.8h0M425.2 384.8h0M387.5 338.4h0M506.6 378.2h0M426.4 424.6h0" stroke="#b07068" stroke-width="1.2" stroke-linecap="round" stroke-opacity="0.3" fill="none"/>
<path d="M376.8 368.0h0M502.7 343.8h0M402.0 372.9h0M470.6 378.1h0M407.2 348.4h0M415.1 423.1h0M448.4 397.8h0M461.1 411.9h0M431.5 324.6h0M404.8 420.2h0M445.4 396.1h0M388.3 417.4h0M449.4 323.5h0M371.5 331.0h0M354.0 349.9h0M504.6 417.3h0M352.7 421.6h0M489.9 321.9h0M451.4 388.9h0M409.6 395.6h0M442.5 401.8h0M507.5 372.6h0M437.9 321.6h0M492.7 335.8h0M411.0 372.4h0M437.6 350.2h0M480.5 365.5h0M361.6 405.8h0M365.3 340.3h0M421.5 403.2h0M463.0 368.7h0M418.6 418.5h0M490.4 351.0h0M459.1 398.8h0M390.9 411.1h0M419.4 410.1h0M411.6 371.0h0M501.2 347.9h0M361.5 368.7h0M385.4 392.3h0M387.1 333.8h0" stroke="#b07068" stroke-width="1.2" stroke-linecap="round" stroke-opacity="0.4" fill="none"/>
<ellipse cx="384" cy="376" rx="1.4" ry="2.0" fill="#c88a50" opacity="0.5" filter="url(#blur1)"/>
</g>
<clipPath id="clipBi"><rect x="459.0" y="371.8" width="53.39999999999998" height="53.599999999999966"/></clipPath>
<g clip-path="url(#clipBi)">
<rect x="459.0" y="371.8" width="53.39999999999998" height="53.599999999999966" fill="#f5f1f2"/>
<polygon points="470.0,428.0 496.0,428.0 510.0,380.0 506.0,370.0 490.0,370.0 478.0,400.0" fill="#f3e8ec" filter="url(#blur2)"/>
<path d="M492.2 403.2h0" stroke="#b05868" stroke-width="0.8" stroke-linecap="round" stroke-opacity="0.4" fill="none"/>
<path d="M488.3 395.5h0M500.1 372.7h0M496.2 372.7h0" stroke="#b05868" stroke-width="0.8" stroke-linecap="round" stroke-opacity="0.5" fill="none"/>
<path d="M498.7 382.7h0" stroke="#b05868" stroke-width="0.8" stroke-linecap="round" stroke-opacity="0.6" fill="none"/>
<path d="M490.5 405.5h0M484.7 422.8h0M499.3 387.6h0M499.9 378.9h0M488.9 412.2h0" stroke="#b05868" stroke-width="1.0" stroke-linecap="round" stroke-opacity="0.4" fill="none"/>
<path d="M486.7 409.8h0M486.3 407.8h0M484.5 410.3h0M486.7 406.6h0M494.3 385.9h0M492.6 385.3h0M496.9 377.3h0M497.3 375.9h0M497.7 374.0h0" stroke="#b05868" stroke-width="1.0" stroke-linecap="round" stroke-opacity="0.5" fill="none"/>
<path d="M499.0 381.5h0" stroke="#b05868" stroke-width="1.0" stroke-linecap="round" stroke-opacity="0.6" fill="none"/>
<path d="M488.3 410.8h0M490.4 390.1h0M499.2 374.9h0M494.7 379.2h0" stroke="#b05868" stroke-width="1.0" stroke-linecap="round" stroke-opacity="0.7" fill="none"/>
<path d="M488.1 412.7h0M484.8 424.2h0" stroke="#b05868" stroke-width="1.2" stroke-linecap="round" stroke-opacity="0.3" fill="none"/>
<path d="M489.1 408.5h0M484.3 412.1h0M489.8 391.4h0M493.2 383.4h0M496.9 382.8h0M488.9 414.8h0M489.8 408.0h0M489.7 404.8h0M490.6 400.5h0" stroke="#b05868" stroke-width="1.2" stroke-linecap="round" stroke-opacity="0.4" fill="none"/>
<path d="M487.5 413.9h0M490.5 405.4h0M485.5 419.8h0M500.1 376.4h0M495.1 384.2h0M500.6 372.3h0M490.3 403.9h0M490.8 398.3h0M496.0 375.2h0" stroke="#b05868" stroke-width="1.2" stroke-linecap="round" stroke-opacity="0.5" fill="none"/>
<path d="M486.5 420.7h0M490.3 409.6h0" stroke="#b05868" stroke-width="1.2" stroke-linecap="round" stroke-opacity="0.6" fill="none"/>
<path d="M490.6 406.6h0M491.8 400.4h0M489.6 407.8h0M489.1 394.0h0" stroke="#b05868" stroke-width="1.2" stroke-linecap="round" stroke-opacity="0.7" fill="none"/>
<path d="M469.8 424.5h0M491.1 424.9h0M492.3 422.1h0M475.1 412.4h0M509.9 378.7h0" stroke="#8a7070" stroke-width="0.6" stroke-linecap="round" stroke-opacity="0.1" fill="none"/>
<path d="M510.0 413.3h0M498.1 395.1h0M501.7 381.8h0M496.2 402.2h0M501.4 406.9h0M498.6 408.7h0M492.4 390.2h0M509.2 407.6h0" stroke="#8a7070" stroke-width="0.6" stroke-linecap="round" stroke-opacity="0.2" fill="none"/>
<path d="M498.7 386.2h0M480.5 421.5h0M465.8 408.2h0M464.7 409.9h0M497.2 389.4h0M487.4 407.9h0M500.1 399.6h0M488.0 381.5h0" stroke="#8a7070" stroke-width="0.6" stroke-linecap="round" stroke-opacity="0.3" fill="none"/>
<path d="M472.3 396.6h0M487.9 415.1h0M489.0 423.6h0M495.8 375.2h0M500.6 419.1h0M470.4 395.4h0M459.0 396.5h0M488.5 377.0h0M460.8 393.0h0M485.6 391.6h0M505.3 379.3h0M470.2 387.1h0" stroke="#8a7070" stroke-width="0.6" stroke-linecap="round" stroke-opacity="0.4" fill="none"/>
<path d="M465.2 423.4h0M483.1 385.5h0M472.7 416.5h0M510.5 395.3h0M494.9 393.0h0M472.8 406.7h0M487.8 392.5h0M508.1 386.7h0M469.8 377.6h0" stroke="#8a7070" stroke-width="0.8" stroke-linecap="round" stroke-opacity="0.1" fill="none"/>
<path d="M499.6 380.4h0M481.2 383.0h0M493.2 414.5h0M486.6 420.7h0M502.0 396.1h0M485.0 396.2h0M476.8 389.1h0M510.2 396.3h0M466.8 373.7h0M503.4 417.7h0M498.3 405.0h0M473.6 402.6h0M480.2 397.5h0M469.8 395.1h0M504.9 386.3h0M459.8 424.7h0M480.9 378.1h0" stroke="#8a7070" stroke-width="0.8" stroke-linecap="round" stroke-opacity="0.2" fill="none"/>
<path d="M465.6 421.4h0M463.4 388.3h0M484.6 393.4h0M484.8 389.7h0M466.8 406.7h0M508.5 424.4h0M482.8 396.2h0M472.5 424.4h0M470.9 372.4h0M472.4 375.8h0M495.3 388.6h0M476.8 420.0h0M504.4 392.5h0M502.1 394.3h0M479.7 374.1h0M490.4 396.8h0M467.0 409.7h0M468.2 380.2h0M499.5 400.6h0M459.7 387.2h0M480.1 415.5h0" stroke="#8a7070" stroke-width="0.8" stroke-linecap="round" stroke-opacity="0.3" fill="none"/>
<path d="M501.5 396.8h0M489.3 386.4h0M480.3 389.6h0M490.9 386.0h0M482.7 394.8h0M466.3 399.0h0M468.6 388.2h0M510.2 416.1h0M471.1 388.2h0M511.4 385.6h0M489.9 389.9h0M495.4 388.2h0M479.7 387.2h0M472.5 403.2h0M509.2 410.2h0M465.7 371.8h0M495.8 413.4h0M491.7 402.1h0M501.4 410.1h0M491.6 385.5h0M471.1 423.9h0M503.1 420.5h0M486.5 415.9h0M494.5 374.4h0M503.1 421.1h0" stroke="#8a7070" stroke-width="0.8" stroke-linecap="round" stroke-opacity="0.4" fill="none"/>
<path d="M471.7 392.9h0M464.0 389.1h0M473.7 419.9h0M471.3 382.4h0M467.8 397.7h0M489.0 385.5h0M487.5 378.3h0M491.2 416.4h0M472.6 424.3h0" stroke="#8a7070" stroke-width="1.0" stroke-linecap="round" stroke-opacity="0.1" fill="none"/>
<path d="M495.2 421.7h0M486.1 410.0h0M497.0 375.6h0M467.9 418.0h0M468.0 415.9h0M487.5 417.0h0M465.9 404.5h0M486.4 411.1h0M501.1 380.6h0M507.8 397.3h0M499.7 402.3h0M504.7 392.9h0M497.1 393.1h0M475.9 383.9h0M459.8 407.8h0M499.4 396.0h0M507.1 423.2h0M481.3 405.3h0M463.2 425.1h0M485.3 379.5h0M486.4 407.1h0M505.2 388.0h0" stroke="#8a7070" stroke-width="1.0" stroke-linecap="round" stroke-opacity="0.2" fill="none"/>
<path d="M485.7 393.3h0M478.6 424.4h0M459.8 392.8h0M485.5 380.4h0M490.4 397.1h0M493.5 424.8h0M493.4 391.3h0M463.3 405.9h0M466.6 374.9h0M468.9 422.2h0M470.5 403.9h0M459.3 423.2h0M463.1 420.1h0M511.3 387.6h0M462.4 411.2h0M491.9 415.7h0M461.7 415.9h0" stroke="#8a7070" stroke-width="1.0" stroke-linecap="round" stroke-opacity="0.3" fill="none"/>
<path d="M488.6 398.5h0M485.5 375.9h0M480.8 403.5h0M504.5 384.0h0M501.7 424.4h0M500.1 377.0h0M501.6 400.0h0M511.9 380.0h0M495.1 401.3h0M481.2 424.0h0M505.5 385.9h0M459.6 423.1h0" stroke="#8a7070" stroke-width="1.0" stroke-linecap="round" stroke-opacity="0.4" fill="none"/>
<path d="M459.3 423.1h0M506.7 416.4h0M469.3 403.7h0M459.9 413.4h0M493.2 419.2h0M491.8 400.0h0M465.6 399.0h0" stroke="#8a7070" stroke-width="1.2" stroke-linecap="round" stroke-opacity="0.1" fill="none"/>
<path d="M460.4 401.6h0M488.0 375.9h0M508.6 417.2h0M500.1 388.4h0M487.2 381.0h0M464.0 409.0h0M477.6 385.7h0M483.2 420.9h0" stroke="#8a7070" stroke-width="1.2" stroke-linecap="round" stroke-opacity="0.2" fill="none"/>
<path d="M502.5 403.7h0M467.2 378.3h0M467.4 401.7h0M473.9 389.8h0M476.5 418.0h0M491.6 397.4h0M468.7 395.2h0M463.9 417.9h0M500.5 414.7h0M501.1 410.3h0M488.0 375.4h0M501.0 390.8h0" stroke="#8a7070" stroke-width="1.2" stroke-linecap="round" stroke-opacity="0.3" fill="none"/>
<path d="M480.3 375.1h0M504.4 401.3h0M485.6 405.2h0M503.4 401.7h0M470.2 373.2h0M481.1 379.9h0M463.8 408.4h0M476.8 390.0h0" stroke="#8a7070" stroke-width="1.2" stroke-linecap="round" stroke-opacity="0.4" fill="none"/>
<circle cx="502.5" cy="419.5" r="1.2" fill="#6a4a4a" opacity="0.8"/>
</g>
<rect x="459.0" y="371.8" width="53.4" height="53.6" fill="none" stroke="#555" stroke-width="1"/>
<rect x="352.9" y="318.9" width="159.0" height="106.0" fill="none" stroke="#555" stroke-width="1"/>
<text x="186.60" y="328.80" font-size="7.2" text-anchor="start" font-weight="normal" fill="#222"  textLength="25.00" lengthAdjust="spacingAndGlyphs">Tryptase</text>
<text x="356.60" y="328.70" font-size="7.2" text-anchor="start" font-weight="normal" fill="#222"  textLength="18.40" lengthAdjust="spacingAndGlyphs">BIRC5</text>
<text x="292.80" y="422.20" font-size="5.0" text-anchor="start" font-weight="bold" fill="#111"  textLength="7.20" lengthAdjust="spacingAndGlyphs">40x</text>
<text x="461.80" y="422.00" font-size="5.0" text-anchor="start" font-weight="bold" fill="#111"  textLength="7.60" lengthAdjust="spacingAndGlyphs">40x</text>
<line x1="191.40" y1="417.00" x2="224.00" y2="417.00" stroke="#444" stroke-width="1.0" />
<line x1="360.00" y1="417.00" x2="393.80" y2="417.00" stroke="#444" stroke-width="1.0" />
<text x="208.00" y="414.40" font-size="5.3" text-anchor="middle" font-weight="normal" fill="#222" >200 μm</text>
<text x="376.80" y="414.40" font-size="5.3" text-anchor="middle" font-weight="normal" fill="#222" >200 μm</text>
<text x="205.50" y="423.50" font-size="4.5" text-anchor="middle" font-weight="normal" fill="#d04050" opacity="0.7">ISO</text><rect x="0.5" y="0.5" width="519" height="440" fill="none" stroke="#4a4a4a" stroke-width="1"/></svg></body></html>
